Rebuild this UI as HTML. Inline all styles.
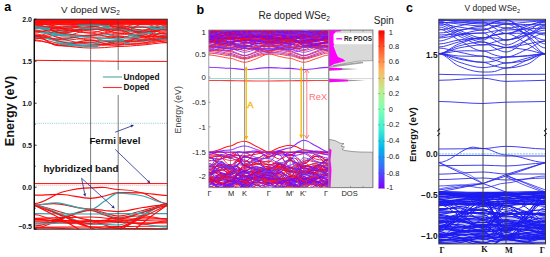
<!DOCTYPE html>
<html><head><meta charset="utf-8"><style>
html,body{margin:0;padding:0;background:#fff;width:550px;height:257px;overflow:hidden}
svg{display:block;font-family:"Liberation Sans", sans-serif}
</style></head><body>
<svg width="550" height="257" viewBox="0 0 550 257" xmlns="http://www.w3.org/2000/svg">
<defs><clipPath id="ca"><rect x="34.3" y="19.2" width="133.0" height="210.0"/></clipPath><clipPath id="cbp"><rect x="208.8" y="30.0" width="120.0" height="157.7"/></clipPath><clipPath id="cc"><rect x="438.8" y="19.3" width="106.69999999999999" height="224.6"/></clipPath></defs>
<g clip-path="url(#ca)">
<rect x="34.3" y="19.2" width="133.0" height="6" fill="#ff2020"/>
<path d="M34.3 19.9C43.7 19.9 53.1 20.4 62.4 20.6C71.8 20.7 81.2 20.6 90.6 20.6C95.2 20.6 99.8 20.7 104.4 21.1C109.0 21.5 113.6 23.0 118.2 23.0C126.4 23.0 134.6 18.8 142.8 18.3C150.9 17.8 159.1 20.0 167.3 20.0" fill="none" stroke="#ff0a0a" stroke-width="1.1" />
<path d="M34.3 20.3C43.7 20.3 53.1 19.0 62.4 19.1C71.8 19.3 81.2 21.1 90.6 21.1C95.2 21.1 99.8 17.5 104.4 17.6C109.0 17.8 113.6 22.2 118.2 22.2C126.4 22.2 134.6 23.4 142.8 22.7C150.9 21.9 159.1 17.6 167.3 17.6" fill="none" stroke="#ff0a0a" stroke-width="1.1" />
<path d="M34.3 21.5C43.7 21.5 53.1 22.3 62.4 21.6C71.8 20.9 81.2 17.3 90.6 17.3C95.2 17.3 99.8 20.3 104.4 21.3C109.0 22.3 113.6 23.4 118.2 23.4C126.4 23.4 134.6 18.1 142.8 18.1C150.9 18.1 159.1 23.3 167.3 23.3" fill="none" stroke="#ff0a0a" stroke-width="1.1" />
<path d="M34.3 17.1C43.7 17.1 53.1 18.1 62.4 18.7C71.8 19.2 81.2 20.4 90.6 20.4C95.2 20.4 99.8 17.7 104.4 17.2C109.0 16.7 113.6 17.4 118.2 17.4C126.4 17.4 134.6 20.1 142.8 20.2C150.9 20.4 159.1 18.2 167.3 18.2" fill="none" stroke="#ff0a0a" stroke-width="1.1" />
<path d="M34.3 19.9C43.7 19.9 53.1 20.1 62.4 20.5C71.8 20.9 81.2 22.5 90.6 22.5C95.2 22.5 99.8 22.0 104.4 21.6C109.0 21.3 113.6 20.4 118.2 20.4C126.4 20.4 134.6 20.1 142.8 20.2C150.9 20.3 159.1 21.2 167.3 21.2" fill="none" stroke="#ff0a0a" stroke-width="1.1" />
<path d="M34.3 18.8C43.7 18.8 53.1 21.2 62.4 22.0C71.8 22.7 81.2 23.5 90.6 23.5C95.2 23.5 99.8 19.2 104.4 19.2C109.0 19.2 113.6 23.5 118.2 23.5C126.4 23.5 134.6 18.8 142.8 18.6C150.9 18.4 159.1 22.5 167.3 22.5" fill="none" stroke="#ff0a0a" stroke-width="1.1" />
<path d="M34.3 18.9C43.7 18.9 53.1 23.2 62.4 22.9C71.8 22.7 81.2 17.5 90.6 17.5C95.2 17.5 99.8 19.0 104.4 19.7C109.0 20.5 113.6 22.0 118.2 22.0C126.4 22.0 134.6 24.1 142.8 23.7C150.9 23.3 159.1 19.6 167.3 19.6" fill="none" stroke="#ff0a0a" stroke-width="1.1" />
<path d="M34.3 22.5C43.7 22.5 53.1 21.2 62.4 20.3C71.8 19.4 81.2 17.0 90.6 17.0C95.2 17.0 99.8 23.6 104.4 23.9C109.0 24.1 113.6 18.4 118.2 18.4C126.4 18.4 134.6 19.0 142.8 19.8C150.9 20.5 159.1 22.9 167.3 22.9" fill="none" stroke="#ff0a0a" stroke-width="1.1" />
<path d="M34.3 17.5C43.7 17.5 53.1 17.0 62.4 17.6C71.8 18.2 81.2 21.1 90.6 21.1C95.2 21.1 99.8 19.2 104.4 19.3C109.0 19.5 113.6 22.1 118.2 22.1C126.4 22.1 134.6 24.3 142.8 23.7C150.9 23.2 159.1 18.8 167.3 18.8" fill="none" stroke="#ff0a0a" stroke-width="1.1" />
<path d="M34.3 21.9C43.7 21.9 53.1 18.1 62.4 17.4C71.8 16.7 81.2 17.8 90.6 17.8C95.2 17.8 99.8 22.4 104.4 22.6C109.0 22.7 113.6 18.6 118.2 18.6C126.4 18.6 134.6 18.4 142.8 18.2C150.9 18.1 159.1 17.7 167.3 17.7" fill="none" stroke="#ff0a0a" stroke-width="1.1" />
<path d="M34.3 20.6C43.7 20.6 53.1 18.0 62.4 17.9C71.8 17.8 81.2 19.9 90.6 19.9C95.2 19.9 99.8 21.8 104.4 21.5C109.0 21.2 113.6 18.2 118.2 18.2C126.4 18.2 134.6 17.2 142.8 17.8C150.9 18.4 159.1 21.8 167.3 21.8" fill="none" stroke="#ff0a0a" stroke-width="1.1" />
<path d="M34.3 19.7C43.7 19.7 53.1 22.8 62.4 22.6C71.8 22.4 81.2 18.4 90.6 18.4C95.2 18.4 99.8 19.1 104.4 19.1C109.0 19.2 113.6 18.8 118.2 18.8C126.4 18.8 134.6 22.4 142.8 23.2C150.9 24.0 159.1 23.3 167.3 23.3" fill="none" stroke="#ff0a0a" stroke-width="1.1" />
<path d="M34.3 18.4C43.7 18.4 53.1 17.5 62.4 17.7C71.8 17.9 81.2 19.6 90.6 19.6C95.2 19.6 99.8 23.4 104.4 23.9C109.0 24.4 113.6 22.6 118.2 22.6C126.4 22.6 134.6 18.7 142.8 18.5C150.9 18.3 159.1 21.2 167.3 21.2" fill="none" stroke="#ff0a0a" stroke-width="1.1" />
<path d="M34.3 18.7C43.7 18.7 53.1 17.0 62.4 17.5C71.8 18.1 81.2 22.0 90.6 22.0C95.2 22.0 99.8 18.1 104.4 17.6C109.0 17.2 113.6 19.1 118.2 19.1C126.4 19.1 134.6 21.1 142.8 21.1C150.9 21.0 159.1 18.9 167.3 18.9" fill="none" stroke="#ff0a0a" stroke-width="1.1" />
<path d="M34.3 26.3C43.7 26.3 53.1 27.7 62.4 27.5C71.8 27.3 81.2 25.2 90.6 25.2C95.2 25.2 99.8 25.3 104.4 25.5C109.0 25.7 113.6 26.5 118.2 26.5C126.4 26.5 134.6 27.2 142.8 27.2C150.9 27.2 159.1 26.6 167.3 26.6" fill="none" stroke="#30a8b0" stroke-width="1.7" />
<path d="M34.3 27.6C43.7 27.6 53.1 30.9 62.4 31.0C71.8 31.1 81.2 28.4 90.6 28.4C99.8 28.4 109.0 28.8 118.2 28.8C126.4 28.8 134.6 30.4 142.8 30.5C150.9 30.6 159.1 29.2 167.3 29.2" fill="none" stroke="#30a8b0" stroke-width="1.7" />
<path d="M34.3 37.5C43.7 37.5 53.1 39.3 62.4 39.0C71.8 38.7 81.2 35.5 90.6 35.5C95.2 35.5 99.8 33.8 104.4 34.0C109.0 34.2 113.6 36.5 118.2 36.5C126.4 36.5 134.6 39.6 142.8 40.0C150.9 40.4 159.1 39.0 167.3 39.0" fill="none" stroke="#30a8b0" stroke-width="1.7" />
<path d="M34.3 36.0C43.7 36.0 53.1 40.9 62.4 42.0C71.8 43.1 81.2 42.5 90.6 42.5C95.2 42.5 99.8 44.7 104.4 44.5C109.0 44.3 113.6 41.5 118.2 41.5C126.4 41.5 134.6 41.7 142.8 41.0C150.9 40.3 159.1 37.5 167.3 37.5" fill="none" stroke="#30a8b0" stroke-width="1.7" />
<path d="M34.3 31.0C43.7 31.0 53.1 33.3 62.4 33.0C71.8 32.7 81.2 29.0 90.6 29.0C95.2 29.0 99.8 27.8 104.4 28.0C109.0 28.2 113.6 30.0 118.2 30.0C126.4 30.0 134.6 32.3 142.8 33.0C150.9 33.7 159.1 34.0 167.3 34.0" fill="none" stroke="#30a8b0" stroke-width="1.7" />
<path d="M34.3 24.0C43.7 24.0 53.1 32.5 62.4 33.0C71.8 33.5 81.2 27.0 90.6 27.0C95.2 27.0 99.8 24.3 104.4 24.0C109.0 23.7 113.6 25.0 118.2 25.0C126.4 25.0 134.6 30.3 142.8 30.0C150.9 29.7 159.1 23.0 167.3 23.0" fill="none" stroke="#ff0a0a" stroke-width="0.9" />
<path d="M34.3 25.0C43.7 25.0 53.1 30.2 62.4 30.0C71.8 29.8 81.2 24.0 90.6 24.0C95.2 24.0 99.8 25.3 104.4 26.0C109.0 26.7 113.6 28.0 118.2 28.0C126.4 28.0 134.6 22.7 142.8 22.0C150.9 21.3 159.1 24.0 167.3 24.0" fill="none" stroke="#ff0a0a" stroke-width="0.9" />
<path d="M34.3 27.0C43.7 27.0 53.1 35.5 62.4 36.0C71.8 36.5 81.2 30.0 90.6 30.0C95.2 30.0 99.8 27.7 104.4 27.0C109.0 26.3 113.6 26.0 118.2 26.0C126.4 26.0 134.6 33.2 142.8 33.0C150.9 32.8 159.1 25.0 167.3 25.0" fill="none" stroke="#ff0a0a" stroke-width="0.9" />
<path d="M34.3 29.0C43.7 29.0 53.1 24.5 62.4 24.0C71.8 23.5 81.2 26.0 90.6 26.0C95.2 26.0 99.8 28.2 104.4 29.0C109.0 29.8 113.6 31.0 118.2 31.0C126.4 31.0 134.6 35.7 142.8 35.0C150.9 34.3 159.1 27.0 167.3 27.0" fill="none" stroke="#ff0a0a" stroke-width="0.9" />
<path d="M34.3 31.0C43.7 31.0 53.1 37.3 62.4 38.0C71.8 38.7 81.2 35.0 90.6 35.0C95.2 35.0 99.8 33.8 104.4 33.0C109.0 32.2 113.6 30.0 118.2 30.0C126.4 30.0 134.6 37.3 142.8 37.0C150.9 36.7 159.1 28.0 167.3 28.0" fill="none" stroke="#ff0a0a" stroke-width="0.9" />
<path d="M34.3 33.0C43.7 33.0 53.1 26.8 62.4 26.0C71.8 25.2 81.2 28.0 90.6 28.0C95.2 28.0 99.8 30.0 104.4 31.0C109.0 32.0 113.6 34.0 118.2 34.0C126.4 34.0 134.6 24.7 142.8 24.0C150.9 23.3 159.1 30.0 167.3 30.0" fill="none" stroke="#ff0a0a" stroke-width="0.9" />
<path d="M34.3 35.0C43.7 35.0 53.1 39.5 62.4 40.0C71.8 40.5 81.2 38.0 90.6 38.0C95.2 38.0 99.8 38.3 104.4 38.0C109.0 37.7 113.6 36.0 118.2 36.0C126.4 36.0 134.6 39.7 142.8 39.0C150.9 38.3 159.1 32.0 167.3 32.0" fill="none" stroke="#ff0a0a" stroke-width="0.9" />
<path d="M34.3 36.0C43.7 36.0 53.1 30.5 62.4 30.0C71.8 29.5 81.2 33.0 90.6 33.0C95.2 33.0 99.8 30.7 104.4 30.0C109.0 29.3 113.6 29.0 118.2 29.0C126.4 29.0 134.6 26.2 142.8 27.0C150.9 27.8 159.1 34.0 167.3 34.0" fill="none" stroke="#ff0a0a" stroke-width="0.9" />
<path d="M34.3 38.0C43.7 38.0 53.1 43.3 62.4 44.0C71.8 44.7 81.2 42.0 90.6 42.0C95.2 42.0 99.8 42.3 104.4 42.0C109.0 41.7 113.6 40.0 118.2 40.0C126.4 40.0 134.6 41.7 142.8 41.0C150.9 40.3 159.1 36.0 167.3 36.0" fill="none" stroke="#ff0a0a" stroke-width="0.9" />
<path d="M34.3 39.0C43.7 39.0 53.1 34.5 62.4 34.0C71.8 33.5 81.2 36.0 90.6 36.0C95.2 36.0 99.8 35.7 104.4 36.0C109.0 36.3 113.6 38.0 118.2 38.0C126.4 38.0 134.6 33.0 142.8 33.0C150.9 33.0 159.1 38.0 167.3 38.0" fill="none" stroke="#ff0a0a" stroke-width="0.9" />
<path d="M34.3 40.0C43.7 40.0 53.1 45.2 62.4 46.0C71.8 46.8 81.2 45.0 90.6 45.0C95.2 45.0 99.8 45.3 104.4 45.0C109.0 44.7 113.6 43.0 118.2 43.0C126.4 43.0 134.6 43.5 142.8 43.0C150.9 42.5 159.1 40.0 167.3 40.0" fill="none" stroke="#ff0a0a" stroke-width="0.9" />
<path d="M34.3 22.0C43.7 22.0 53.1 26.5 62.4 28.0C71.8 29.5 81.2 31.0 90.6 31.0C95.2 31.0 99.8 32.3 104.4 33.0C109.0 33.7 113.6 35.0 118.2 35.0C126.4 35.0 134.6 32.5 142.8 31.0C150.9 29.5 159.1 26.0 167.3 26.0" fill="none" stroke="#ff0a0a" stroke-width="0.9" />
<path d="M34.3 23.0C43.7 23.0 53.1 27.3 62.4 29.0C71.8 30.7 81.2 33.0 90.6 33.0C95.2 33.0 99.8 35.2 104.4 36.0C109.0 36.8 113.6 38.0 118.2 38.0C126.4 38.0 134.6 36.5 142.8 35.0C150.9 33.5 159.1 29.0 167.3 29.0" fill="none" stroke="#ff0a0a" stroke-width="0.9" />
<path d="M34.3 26.0C43.7 26.0 53.1 31.7 62.4 34.0C71.8 36.3 81.2 40.0 90.6 40.0C95.2 40.0 99.8 40.7 104.4 41.0C109.0 41.3 113.6 42.0 118.2 42.0C126.4 42.0 134.6 41.2 142.8 40.0C150.9 38.8 159.1 35.0 167.3 35.0" fill="none" stroke="#ff0a0a" stroke-width="0.9" />
<path d="M34.3 30.0C43.7 30.0 53.1 36.7 62.4 39.0C71.8 41.3 81.2 44.0 90.6 44.0C95.2 44.0 99.8 44.8 104.4 45.0C109.0 45.2 113.6 45.0 118.2 45.0C126.4 45.0 134.6 44.2 142.8 43.0C150.9 41.8 159.1 38.0 167.3 38.0" fill="none" stroke="#ff0a0a" stroke-width="0.9" />
<path d="M34.3 28.0C43.7 28.0 53.1 31.5 62.4 33.0C71.8 34.5 81.2 37.0 90.6 37.0C95.2 37.0 99.8 39.8 104.4 41.0C109.0 42.2 113.6 44.0 118.2 44.0C126.4 44.0 134.6 44.5 142.8 44.0C150.9 43.5 159.1 41.0 167.3 41.0" fill="none" stroke="#ff0a0a" stroke-width="0.9" />
<path d="M34.3 34.0C43.7 34.0 53.1 40.0 62.4 42.0C71.8 44.0 81.2 46.0 90.6 46.0C95.2 46.0 99.8 44.8 104.4 44.0C109.0 43.2 113.6 41.0 118.2 41.0C126.4 41.0 134.6 38.3 142.8 37.0C150.9 35.7 159.1 33.0 167.3 33.0" fill="none" stroke="#ff0a0a" stroke-width="0.9" />
<path d="M34.3 37.0C43.7 37.0 53.1 33.3 62.4 32.0C71.8 30.7 81.2 29.0 90.6 29.0C95.2 29.0 99.8 29.3 104.4 30.0C109.0 30.7 113.6 33.0 118.2 33.0C126.4 33.0 134.6 35.3 142.8 36.0C150.9 36.7 159.1 37.0 167.3 37.0" fill="none" stroke="#ff0a0a" stroke-width="0.9" />
<path d="M34.3 21.0C43.7 21.0 53.1 21.3 62.4 22.0C71.8 22.7 81.2 25.0 90.6 25.0C95.2 25.0 99.8 27.7 104.4 29.0C109.0 30.3 113.6 33.0 118.2 33.0C126.4 33.0 134.6 35.5 142.8 36.0C150.9 36.5 159.1 36.0 167.3 36.0" fill="none" stroke="#ff0a0a" stroke-width="0.9" />
<path d="M34.3 32.0C43.7 32.0 53.1 28.3 62.4 27.0C71.8 25.7 81.2 24.0 90.6 24.0C95.2 24.0 99.8 23.2 104.4 23.0C109.0 22.8 113.6 23.0 118.2 23.0C126.4 23.0 134.6 22.2 142.8 22.0C150.9 21.8 159.1 22.0 167.3 22.0" fill="none" stroke="#ff0a0a" stroke-width="0.9" />
<path d="M34.3 26.9C43.6 26.9 52.9 28.3 62.2 28.3C71.7 28.3 81.1 26.9 90.6 26.9C96.2 26.9 101.8 24.5 107.4 24.6C111.0 24.7 114.6 27.4 118.2 27.4C124.7 27.4 131.2 31.2 137.7 31.6C147.5 32.4 157.4 30.9 167.3 30.9" fill="none" stroke="#ff0a0a" stroke-width="1.15" />
<path d="M34.3 35.3C42.0 35.3 49.7 44.8 57.3 45.5C68.4 46.4 79.5 40.1 90.6 40.1C96.3 40.1 101.9 43.5 107.6 44.5C111.1 45.2 114.7 45.0 118.2 45.0C126.0 45.0 133.8 37.4 141.6 37.0C150.2 36.6 158.7 42.6 167.3 42.6" fill="none" stroke="#ff0a0a" stroke-width="1.15" />
<path d="M34.3 24.6C45.5 24.6 56.7 23.1 67.9 22.0C75.5 21.2 83.0 19.0 90.6 19.0C94.6 19.0 98.7 18.4 102.7 19.0C107.9 19.8 113.0 23.3 118.2 23.3C127.5 23.3 136.7 19.8 146.0 19.0C153.1 18.4 160.2 19.0 167.3 19.0" fill="none" stroke="#ff0a0a" stroke-width="1.15" />
<path d="M34.3 26.6 Q40 27.2 50 28.4" fill="none" stroke="#30a8b0" stroke-width="1.3"/>
<path d="M34.3 27.8 Q42 29.5 50 29.2" fill="none" stroke="#30a8b0" stroke-width="1.3"/>
<path d="M40 32.5 Q60 34 78 36.9" fill="none" stroke="#30a8b0" stroke-width="1.3"/>
<path d="M50 35 Q65 36 78 36.2" fill="none" stroke="#30a8b0" stroke-width="1.3"/>
<path d="M78 25.4 Q94 24.6 110 26.4" fill="none" stroke="#30a8b0" stroke-width="1.3"/>
<path d="M78 27.9 Q94 28.8 110 27.4" fill="none" stroke="#30a8b0" stroke-width="1.3"/>
<path d="M78 36.3 Q84 36.8 90 37.2" fill="none" stroke="#30a8b0" stroke-width="1.3"/>
<path d="M95 37.6 Q110 38.4 124 39.5" fill="none" stroke="#30a8b0" stroke-width="1.3"/>
<path d="M97 39.8 Q112 41.2 124 40.6" fill="none" stroke="#30a8b0" stroke-width="1.3"/>
<path d="M55 42.6 Q78 45.5 100 45.8" fill="none" stroke="#30a8b0" stroke-width="1.3"/>
<path d="M60 44.4 Q80 46.6 98 46.6" fill="none" stroke="#30a8b0" stroke-width="1.3"/>
<path d="M124 38 Q132 37.6 140 37.2" fill="none" stroke="#30a8b0" stroke-width="1.3"/>
<path d="M124 43.3 Q127 43 130 42.8" fill="none" stroke="#30a8b0" stroke-width="1.3"/>
<path d="M150 26.6 Q158 26 165 26.6" fill="none" stroke="#30a8b0" stroke-width="1.3"/>
<path d="M150 28.5 Q158 29.2 166 28.4" fill="none" stroke="#30a8b0" stroke-width="1.3"/>
<path d="M128 35.5 Q140 34.2 152 33" fill="none" stroke="#30a8b0" stroke-width="1.3"/>
<path d="M34.3 40.7C43.7 40.7 53.1 44.3 62.4 45.5C71.8 46.7 81.2 48.0 90.6 48.0C95.2 48.0 99.8 47.9 104.4 47.6C109.0 47.4 113.6 46.5 118.2 46.5C126.4 46.5 134.6 45.6 142.8 45.0C150.9 44.4 159.1 42.6 167.3 42.6" fill="none" stroke="#ff0a0a" stroke-width="1.0" />
<path d="M34.3 60.3C53.1 60.3 71.8 60.9 90.6 60.9C99.8 60.9 109.0 61.3 118.2 61.3C134.6 61.3 150.9 61.4 167.3 61.4" fill="none" stroke="#ff0a0a" stroke-width="1.0" />
<line x1="34.3" y1="123.3" x2="167.3" y2="123.3" stroke="#5ab4c4" stroke-width="0.7" stroke-dasharray="1 1.2"/>
<line x1="34.3" y1="183.6" x2="167.3" y2="183.6" stroke="#ff0a0a" stroke-width="1.0" />
<line x1="34.3" y1="185.6" x2="167.3" y2="185.6" stroke="#ff8080" stroke-width="0.6" stroke-dasharray="1 1"/>
<path d="M34.3 203.6C43.7 203.6 53.1 194.6 62.4 192.0C71.8 189.4 81.2 187.8 90.6 187.8C95.2 187.8 99.8 187.2 104.4 187.5C109.0 187.8 113.6 189.5 118.2 189.5C126.4 189.5 134.6 190.7 142.8 193.0C150.9 195.3 159.1 203.6 167.3 203.6" fill="none" stroke="#ff0a0a" stroke-width="1.2" />
<path d="M34.3 195.2C43.7 195.2 53.1 194.0 62.4 194.5C71.8 195.0 81.2 198.3 90.6 198.3C95.2 198.3 99.8 197.0 104.4 196.0C109.0 195.1 113.6 192.6 118.2 192.6C126.4 192.6 134.6 192.5 142.8 193.0C150.9 193.5 159.1 195.5 167.3 195.5" fill="none" stroke="#ff0a0a" stroke-width="1.2" />
<path d="M34.3 204.8C41.8 204.8 49.3 203.2 56.8 203.8C68.1 204.7 79.3 209.2 90.6 209.2C95.2 209.2 99.8 210.1 104.4 210.5C109.0 210.9 113.6 211.6 118.2 211.6C126.4 211.6 134.6 208.6 142.8 207.5C150.9 206.4 159.1 204.9 167.3 204.9" fill="none" stroke="#ff0a0a" stroke-width="1.2" />
<path d="M34.3 205.5C41.8 205.5 49.3 202.3 56.8 202.8C68.1 203.6 79.3 209.5 90.6 209.5C95.2 209.5 99.8 204.0 104.4 201.3C109.0 198.6 113.6 193.1 118.2 193.1C126.4 193.1 134.6 194.2 142.8 196.0C150.9 197.8 159.1 203.6 167.3 203.6" fill="none" stroke="#30a8b0" stroke-width="1.2" />
<path d="M34.3 205.5C43.7 205.5 53.1 212.4 62.4 216.0C71.8 219.6 81.2 226.8 90.6 226.8C95.2 226.8 99.8 228.0 104.4 228.0C109.0 228.0 113.6 226.8 118.2 226.8C126.4 226.8 134.6 219.1 142.8 215.2C150.9 211.3 159.1 203.6 167.3 203.6" fill="none" stroke="#ff0a0a" stroke-width="1.2" />
<path d="M34.3 205.5C43.7 205.5 53.1 210.1 62.4 212.5C71.8 214.9 81.2 220.0 90.6 220.0C95.2 220.0 99.8 223.7 104.4 225.0C109.0 226.3 113.6 228.0 118.2 228.0C126.4 228.0 134.6 219.9 142.8 215.8C150.9 211.7 159.1 203.6 167.3 203.6" fill="none" stroke="#ff0a0a" stroke-width="1.2" />
<path d="M34.3 205.5C43.7 205.5 53.1 211.5 62.4 214.6C71.8 217.7 81.2 224.0 90.6 224.0C95.2 224.0 99.8 224.3 104.4 224.5C109.0 224.7 113.6 225.0 118.2 225.0C126.4 225.0 134.6 218.3 142.8 214.9C150.9 211.5 159.1 204.8 167.3 204.8" fill="none" stroke="#30a8b0" stroke-width="1.2" />
<path d="M34.3 228.0C43.7 228.0 53.1 221.8 62.4 218.7C71.8 215.6 81.2 209.5 90.6 209.5C95.2 209.5 99.8 211.7 104.4 212.8C109.0 213.9 113.6 216.0 118.2 216.0C126.4 216.0 134.6 212.3 142.8 210.5C150.9 208.7 159.1 205.0 167.3 205.0" fill="none" stroke="#ff0a0a" stroke-width="1.2" />
<path d="M34.3 224.0C43.7 224.0 53.1 219.2 62.4 216.8C71.8 214.4 81.2 209.8 90.6 209.8C95.2 209.8 99.8 212.6 104.4 214.0C109.0 215.4 113.6 218.0 118.2 218.0C126.4 218.0 134.6 213.9 142.8 211.8C150.9 209.7 159.1 205.5 167.3 205.5" fill="none" stroke="#30a8b0" stroke-width="1.2" />
<path d="M34.3 226.0C43.7 226.0 53.1 220.8 62.4 218.2C71.8 215.6 81.2 210.5 90.6 210.5C95.2 210.5 99.8 213.6 104.4 215.0C109.0 216.4 113.6 219.0 118.2 219.0C126.4 219.0 134.6 214.7 142.8 212.5C150.9 210.3 159.1 206.0 167.3 206.0" fill="none" stroke="#ff0a0a" stroke-width="1.2" />
<path d="M34.3 213.7C53.1 213.7 71.8 214.0 90.6 214.0C99.8 214.0 109.0 213.7 118.2 213.7C134.6 213.7 150.9 213.7 167.3 213.7" fill="none" stroke="#30a8b0" stroke-width="1.2" />
<path d="M34.3 218.3C53.1 218.3 71.8 217.0 90.6 217.0C99.8 217.0 109.0 219.0 118.2 219.0C134.6 219.0 150.9 219.0 167.3 219.0" fill="none" stroke="#ff0a0a" stroke-width="1.2" />
<path d="M34.3 220.0C53.1 220.0 71.8 221.0 90.6 221.0C99.8 221.0 109.0 220.0 118.2 220.0C134.6 220.0 150.9 221.0 167.3 221.0" fill="none" stroke="#ff0a0a" stroke-width="1.2" />
<path d="M34.3 222.0C53.1 222.0 71.8 224.0 90.6 224.0C99.8 224.0 109.0 222.5 118.2 222.5C134.6 222.5 150.9 223.0 167.3 223.0" fill="none" stroke="#ff0a0a" stroke-width="1.2" />
<path d="M34.3 227.4C53.1 227.4 71.8 227.0 90.6 227.0C99.8 227.0 109.0 226.5 118.2 226.5C134.6 226.5 150.9 226.0 167.3 226.0" fill="none" stroke="#ff0a0a" stroke-width="1.2" />
<path d="M34.3 229.0C53.1 229.0 71.8 229.0 90.6 229.0C99.8 229.0 109.0 228.5 118.2 228.5C134.6 228.5 150.9 228.8 167.3 228.8" fill="none" stroke="#ff0a0a" stroke-width="1.2" />
<path d="M34.3 223.8C43.7 223.8 53.1 223.3 62.4 223.0C71.8 222.7 81.2 222.0 90.6 222.0C95.2 222.0 99.8 222.0 104.4 222.0C109.0 222.0 113.6 222.0 118.2 222.0C126.4 222.0 134.6 223.2 142.8 224.0C150.9 224.8 159.1 227.0 167.3 227.0" fill="none" stroke="#30a8b0" stroke-width="1.2" />
<path d="M34.3 221.2C46.8 221.2 59.3 220.1 71.8 220.6C78.1 220.9 84.3 223.6 90.6 223.6C93.4 223.6 96.2 221.4 99.1 221.2C105.4 220.8 111.8 221.7 118.2 221.7C126.0 221.7 133.9 218.1 141.7 217.7C150.2 217.2 158.8 219.0 167.3 219.0" fill="none" stroke="#ff0a0a" stroke-width="1.0" />
<path d="M34.3 219.1C46.6 219.1 58.9 222.4 71.3 222.8C77.7 222.9 84.2 220.7 90.6 220.7C95.8 220.7 101.0 220.7 106.1 220.1C110.2 219.6 114.2 217.2 118.2 217.2C126.9 217.2 135.7 215.6 144.4 215.9C152.0 216.2 159.7 219.0 167.3 219.0" fill="none" stroke="#ff0a0a" stroke-width="1.0" />
<path d="M34.3 214.6C40.1 214.6 45.9 218.2 51.7 219.0C64.6 220.6 77.6 221.7 90.6 221.7C95.1 221.7 99.7 222.5 104.2 222.2C108.9 222.0 113.5 220.0 118.2 220.0C125.2 220.0 132.2 223.8 139.2 224.1C148.6 224.5 157.9 222.1 167.3 222.1" fill="none" stroke="#ff0a0a" stroke-width="1.0" />
<path d="M34.3 219.3C45.2 219.3 56.1 221.5 67.0 221.8C74.9 222.0 82.7 220.8 90.6 220.8C96.7 220.8 102.9 220.3 109.0 220.6C112.1 220.7 115.1 222.1 118.2 222.1C127.6 222.1 137.0 224.1 146.4 223.9C153.4 223.7 160.3 220.8 167.3 220.8" fill="none" stroke="#ff0a0a" stroke-width="1.0" />
<path d="M34.3 227.8C44.6 227.8 54.9 228.0 65.3 228.6C73.7 229.0 82.2 230.8 90.6 230.8C95.5 230.8 100.4 231.6 105.3 231.7C109.6 231.8 113.9 231.4 118.2 231.4C123.6 231.4 129.1 231.3 134.5 231.0C145.4 230.5 156.4 229.0 167.3 229.0" fill="none" stroke="#ff0a0a" stroke-width="1.0" />
<path d="M34.3 205.3 Q57.1 215.8 80 230" fill="none" stroke="#ff0a0a" stroke-width="1.1"/>
<path d="M34.3 205.3 Q65.2 215.8 96 230" fill="none" stroke="#ff0a0a" stroke-width="1.1"/>
<path d="M167.3 205 Q143.7 215.8 120 230" fill="none" stroke="#ff0a0a" stroke-width="1.1"/>
<path d="M167.3 205 Q150.7 215.8 134 230" fill="none" stroke="#ff0a0a" stroke-width="1.1"/>
</g>
<rect x="34.3" y="19.2" width="133.0" height="210.0" fill="none" stroke="#333" stroke-width="1"/>
<line x1="34.3" y1="19.2" x2="34.3" y2="229.2" stroke="#000" stroke-width="1.2" />
<line x1="90.6" y1="19.2" x2="90.6" y2="229.2" stroke="#444" stroke-width="0.7" />
<line x1="118.2" y1="19.2" x2="118.2" y2="229.2" stroke="#444" stroke-width="0.7" />
<line x1="34.3" y1="19.19999999999999" x2="36.599999999999994" y2="19.19999999999999" stroke="#000" stroke-width="0.8" />
<line x1="34.3" y1="40.19999999999999" x2="35.699999999999996" y2="40.19999999999999" stroke="#000" stroke-width="0.8" />
<line x1="34.3" y1="61.19999999999999" x2="36.599999999999994" y2="61.19999999999999" stroke="#000" stroke-width="0.8" />
<line x1="34.3" y1="82.19999999999999" x2="35.699999999999996" y2="82.19999999999999" stroke="#000" stroke-width="0.8" />
<line x1="34.3" y1="103.19999999999999" x2="36.599999999999994" y2="103.19999999999999" stroke="#000" stroke-width="0.8" />
<line x1="34.3" y1="124.19999999999999" x2="35.699999999999996" y2="124.19999999999999" stroke="#000" stroke-width="0.8" />
<line x1="34.3" y1="145.2" x2="36.599999999999994" y2="145.2" stroke="#000" stroke-width="0.8" />
<line x1="34.3" y1="166.2" x2="35.699999999999996" y2="166.2" stroke="#000" stroke-width="0.8" />
<line x1="34.3" y1="187.2" x2="36.599999999999994" y2="187.2" stroke="#000" stroke-width="0.8" />
<line x1="34.3" y1="208.2" x2="35.699999999999996" y2="208.2" stroke="#000" stroke-width="0.8" />
<line x1="34.3" y1="229.2" x2="36.599999999999994" y2="229.2" stroke="#000" stroke-width="0.8" />
<rect x="101" y="70" width="59" height="25" fill="#fff"/>
<line x1="102.9" y1="77" x2="121.9" y2="77" stroke="#4aa8a8" stroke-width="1.1" />
<line x1="102.9" y1="87.5" x2="121.9" y2="87.5" stroke="#ff3333" stroke-width="1.1" />
<text x="123.6" y="79.8" font-size="8.3" font-weight="bold" fill="#111" text-anchor="start" >Undoped</text>
<text x="123.6" y="89.8" font-size="8.3" font-weight="bold" fill="#111" text-anchor="start" >Doped</text>
<line x1="115.2" y1="132.2" x2="131.00637233254272" y2="126.23057215100779" stroke="#1f2a8a" stroke-width="0.8" />
<path d="M134.0 125.1L131.5 127.6L130.5 124.8Z" fill="#1f2a8a"/>
<line x1="115.2" y1="149.4" x2="148.09836604293034" y2="181.17683083692134" stroke="#1f2a8a" stroke-width="0.8" />
<path d="M150.4 183.4L147.1 182.3L149.1 180.1Z" fill="#1f2a8a"/>
<line x1="81.6" y1="178.3" x2="84.66914986331065" y2="193.56279932024756" stroke="#1f2a8a" stroke-width="0.8" />
<path d="M85.3 196.7L83.2 193.9L86.1 193.3Z" fill="#1f2a8a"/>
<line x1="81.6" y1="178.3" x2="112.43283712116757" y2="206.34673738130303" stroke="#1f2a8a" stroke-width="0.8" />
<path d="M114.8 208.5L111.4 207.5L113.4 205.2Z" fill="#1f2a8a"/>
<text x="89.4" y="144.3" font-size="9.75" font-weight="bold" fill="#111" text-anchor="start" >Fermi level</text>
<text x="43.4" y="172.4" font-size="9.8" font-weight="bold" fill="#111" text-anchor="start" >hybridized band</text>
<text x="4.3" y="10.6" font-size="12.5" font-weight="bold" fill="#000" text-anchor="start" >a</text>
<text x="61.1" y="12.7" font-size="9.85" font-weight="normal" fill="#222" text-anchor="start" >V doped WS<tspan font-size="6.5" dy="2">2</tspan></text>
<text x="32" y="21.69999999999999" font-size="7" font-weight="bold" fill="#111" text-anchor="end" >2.0</text>
<text x="32" y="63.69999999999999" font-size="7" font-weight="bold" fill="#111" text-anchor="end" >1.5</text>
<text x="32" y="105.69999999999999" font-size="7" font-weight="bold" fill="#111" text-anchor="end" >1.0</text>
<text x="32" y="147.7" font-size="7" font-weight="bold" fill="#111" text-anchor="end" >0.5</text>
<text x="32" y="189.7" font-size="7" font-weight="bold" fill="#111" text-anchor="end" >0.0</text>
<text x="32" y="229.2" font-size="7" font-weight="bold" fill="#111" text-anchor="end" >−0.5</text>
<text x="0" y="0" font-size="12.7" font-weight="bold" fill="#111" text-anchor="middle" transform="translate(13.6,111) rotate(-90)">Energy (eV)</text>
<line x1="230.5" y1="30.0" x2="230.5" y2="187.7" stroke="#999" stroke-width="1.0" />
<line x1="244.5" y1="30.0" x2="244.5" y2="187.7" stroke="#999" stroke-width="1.0" />
<line x1="268.8" y1="30.0" x2="268.8" y2="187.7" stroke="#999" stroke-width="1.0" />
<line x1="290.2" y1="30.0" x2="290.2" y2="187.7" stroke="#999" stroke-width="1.0" />
<line x1="303.6" y1="30.0" x2="303.6" y2="187.7" stroke="#999" stroke-width="1.0" />
<g clip-path="url(#cbp)">
<rect x="208.8" y="30.0" width="120.0" height="14" fill="#c050d8" opacity="0.3"/>
<path d="M208.8 41.2C212.4 41.2 216.0 42.2 219.7 42.3C223.3 42.4 226.9 41.6 230.5 41.6C232.8 41.6 235.2 44.4 237.5 44.6C239.8 44.8 242.2 42.8 244.5 42.8C248.5 42.8 252.6 40.5 256.6 40.6C260.7 40.6 264.8 43.0 268.8 43.0C272.4 43.0 275.9 42.7 279.5 42.6C283.1 42.6 286.6 42.6 290.2 42.6C292.4 42.6 294.7 38.7 296.9 37.6C299.1 36.4 301.4 35.5 303.6 35.5C307.8 35.5 312.0 37.7 316.2 38.6C320.4 39.6 324.6 41.2 328.8 41.2" fill="none" stroke="#7f00fe" stroke-width="0.8" />
<path d="M208.8 41.2C212.4 41.2 216.0 42.2 219.7 42.3C223.3 42.4 226.9 41.6 230.5 41.6C232.8 41.6 235.2 44.4 237.5 44.6C239.8 44.8 242.2 42.8 244.5 42.8C248.5 42.8 252.6 40.5 256.6 40.6C260.7 40.6 264.8 43.0 268.8 43.0C272.4 43.0 275.9 42.7 279.5 42.6C283.1 42.6 286.6 42.6 290.2 42.6C292.4 42.6 294.7 38.7 296.9 37.6C299.1 36.4 301.4 35.5 303.6 35.5C307.8 35.5 312.0 37.7 316.2 38.6C320.4 39.6 324.6 41.2 328.8 41.2" fill="none" stroke="#ff1010" stroke-width="0.8" stroke-dasharray="2.1 4.7" stroke-dashoffset="4.6"/>
<path d="M208.8 33.1C212.4 33.1 216.0 34.3 219.7 33.4C223.3 32.5 226.9 27.9 230.5 27.9C232.8 27.9 235.2 31.4 237.5 32.0C239.8 32.6 242.2 31.7 244.5 31.7C248.5 31.7 252.6 30.5 256.6 30.6C260.7 30.6 264.8 32.0 268.8 32.0C272.4 32.0 275.9 33.0 279.5 32.1C283.1 31.3 286.6 26.8 290.2 26.8C292.4 26.8 294.7 29.3 296.9 30.5C299.1 31.6 301.4 33.7 303.6 33.7C307.8 33.7 312.0 34.6 316.2 34.5C320.4 34.4 324.6 33.1 328.8 33.1" fill="none" stroke="#ff0201" stroke-width="0.8" />
<path d="M208.8 50.3C212.4 50.3 216.0 45.8 219.7 45.0C223.3 44.2 226.9 45.6 230.5 45.6C232.8 45.6 235.2 46.8 237.5 46.9C239.8 47.0 242.2 46.1 244.5 46.1C248.5 46.1 252.6 46.7 256.6 47.4C260.7 48.2 264.8 50.7 268.8 50.7C272.4 50.7 275.9 47.5 279.5 46.4C283.1 45.3 286.6 44.3 290.2 44.3C292.4 44.3 294.7 46.0 296.9 45.9C299.1 45.8 301.4 43.7 303.6 43.7C307.8 43.7 312.0 45.8 316.2 46.9C320.4 48.0 324.6 50.3 328.8 50.3" fill="none" stroke="#7909fe" stroke-width="0.8" />
<path d="M208.8 33.3C212.4 33.3 216.0 27.8 219.7 26.5C223.3 25.2 226.9 25.6 230.5 25.6C232.8 25.6 235.2 24.9 237.5 25.8C239.8 26.8 242.2 31.5 244.5 31.5C248.5 31.5 252.6 30.2 256.6 30.6C260.7 31.0 264.8 33.6 268.8 33.6C272.4 33.6 275.9 33.6 279.5 32.3C283.1 31.0 286.6 25.6 290.2 25.6C292.4 25.6 294.7 25.8 296.9 26.9C299.1 27.9 301.4 31.8 303.6 31.8C307.8 31.8 312.0 33.8 316.2 34.0C320.4 34.3 324.6 33.3 328.8 33.3" fill="none" stroke="#4d4cfc" stroke-width="0.8" />
<path d="M208.8 33.3C212.4 33.3 216.0 27.8 219.7 26.5C223.3 25.2 226.9 25.6 230.5 25.6C232.8 25.6 235.2 24.9 237.5 25.8C239.8 26.8 242.2 31.5 244.5 31.5C248.5 31.5 252.6 30.2 256.6 30.6C260.7 31.0 264.8 33.6 268.8 33.6C272.4 33.6 275.9 33.6 279.5 32.3C283.1 31.0 286.6 25.6 290.2 25.6C292.4 25.6 294.7 25.8 296.9 26.9C299.1 27.9 301.4 31.8 303.6 31.8C307.8 31.8 312.0 33.8 316.2 34.0C320.4 34.3 324.6 33.3 328.8 33.3" fill="none" stroke="#8a30ff" stroke-width="0.8" stroke-dasharray="2.2 3.6" stroke-dashoffset="4.7"/>
<path d="M208.8 32.0C212.4 32.0 216.0 34.7 219.7 34.7C223.3 34.8 226.9 32.4 230.5 32.4C232.8 32.4 235.2 31.6 237.5 31.7C239.8 31.8 242.2 32.9 244.5 32.9C248.5 32.9 252.6 35.3 256.6 35.3C260.7 35.2 264.8 32.5 268.8 32.5C272.4 32.5 275.9 33.1 279.5 33.3C283.1 33.5 286.6 33.6 290.2 33.6C292.4 33.6 294.7 30.2 296.9 29.1C299.1 27.9 301.4 26.8 303.6 26.8C307.8 26.8 312.0 27.4 316.2 28.3C320.4 29.2 324.6 32.0 328.8 32.0" fill="none" stroke="#ff2412" stroke-width="0.8" />
<path d="M208.8 32.0C212.4 32.0 216.0 34.7 219.7 34.7C223.3 34.8 226.9 32.4 230.5 32.4C232.8 32.4 235.2 31.6 237.5 31.7C239.8 31.8 242.2 32.9 244.5 32.9C248.5 32.9 252.6 35.3 256.6 35.3C260.7 35.2 264.8 32.5 268.8 32.5C272.4 32.5 275.9 33.1 279.5 33.3C283.1 33.5 286.6 33.6 290.2 33.6C292.4 33.6 294.7 30.2 296.9 29.1C299.1 27.9 301.4 26.8 303.6 26.8C307.8 26.8 312.0 27.4 316.2 28.3C320.4 29.2 324.6 32.0 328.8 32.0" fill="none" stroke="#8a30ff" stroke-width="0.8" stroke-dasharray="2.9 5.0" stroke-dashoffset="1.0"/>
<path d="M208.8 33.3C212.4 33.3 216.0 29.4 219.7 28.8C223.3 28.2 226.9 29.6 230.5 29.6C232.8 29.6 235.2 31.8 237.5 31.6C239.8 31.5 242.2 28.6 244.5 28.6C248.5 28.6 252.6 27.3 256.6 28.0C260.7 28.7 264.8 33.0 268.8 33.0C272.4 33.0 275.9 32.0 279.5 31.5C283.1 31.0 286.6 30.1 290.2 30.1C292.4 30.1 294.7 32.8 296.9 33.1C299.1 33.4 301.4 32.0 303.6 32.0C307.8 32.0 312.0 30.2 316.2 30.4C320.4 30.6 324.6 33.3 328.8 33.3" fill="none" stroke="#7313fe" stroke-width="0.8" />
<path d="M208.8 39.8C212.4 39.8 216.0 43.5 219.7 44.0C223.3 44.4 226.9 42.4 230.5 42.4C232.8 42.4 235.2 41.4 237.5 41.0C239.8 40.6 242.2 40.1 244.5 40.1C248.5 40.1 252.6 40.4 256.6 40.6C260.7 40.8 264.8 41.2 268.8 41.2C272.4 41.2 275.9 42.6 279.5 42.6C283.1 42.6 286.6 41.3 290.2 41.3C292.4 41.3 294.7 41.6 296.9 41.8C299.1 42.0 301.4 42.6 303.6 42.6C307.8 42.6 312.0 40.4 316.2 39.9C320.4 39.5 324.6 39.8 328.8 39.8" fill="none" stroke="#7d02fe" stroke-width="0.8" />
<path d="M208.8 39.8C212.4 39.8 216.0 43.5 219.7 44.0C223.3 44.4 226.9 42.4 230.5 42.4C232.8 42.4 235.2 41.4 237.5 41.0C239.8 40.6 242.2 40.1 244.5 40.1C248.5 40.1 252.6 40.4 256.6 40.6C260.7 40.8 264.8 41.2 268.8 41.2C272.4 41.2 275.9 42.6 279.5 42.6C283.1 42.6 286.6 41.3 290.2 41.3C292.4 41.3 294.7 41.6 296.9 41.8C299.1 42.0 301.4 42.6 303.6 42.6C307.8 42.6 312.0 40.4 316.2 39.9C320.4 39.5 324.6 39.8 328.8 39.8" fill="none" stroke="#ff1010" stroke-width="0.8" stroke-dasharray="3.5 4.9" stroke-dashoffset="3.8"/>
<path d="M208.8 35.4C212.4 35.4 216.0 35.9 219.7 35.6C223.3 35.2 226.9 33.4 230.5 33.4C232.8 33.4 235.2 34.9 237.5 35.1C239.8 35.4 242.2 34.9 244.5 34.9C248.5 34.9 252.6 37.0 256.6 37.3C260.7 37.5 264.8 36.5 268.8 36.5C272.4 36.5 275.9 36.7 279.5 37.3C283.1 37.8 286.6 39.6 290.2 39.6C292.4 39.6 294.7 39.5 296.9 38.8C299.1 38.2 301.4 35.6 303.6 35.6C307.8 35.6 312.0 34.2 316.2 34.2C320.4 34.2 324.6 35.4 328.8 35.4" fill="none" stroke="#750ffe" stroke-width="0.8" />
<path d="M208.8 36.4C212.4 36.4 216.0 37.5 219.7 37.1C223.3 36.8 226.9 34.1 230.5 34.1C232.8 34.1 235.2 34.8 237.5 34.7C239.8 34.6 242.2 33.5 244.5 33.5C248.5 33.5 252.6 36.2 256.6 36.7C260.7 37.1 264.8 36.3 268.8 36.3C272.4 36.3 275.9 34.4 279.5 33.8C283.1 33.3 286.6 33.2 290.2 33.2C292.4 33.2 294.7 33.3 296.9 32.9C299.1 32.5 301.4 30.9 303.6 30.9C307.8 30.9 312.0 34.2 316.2 35.1C320.4 36.0 324.6 36.4 328.8 36.4" fill="none" stroke="#7b07fe" stroke-width="0.8" />
<path d="M208.8 46.4C212.4 46.4 216.0 47.0 219.7 47.4C223.3 47.8 226.9 48.7 230.5 48.7C232.8 48.7 235.2 49.8 237.5 49.7C239.8 49.7 242.2 48.5 244.5 48.5C248.5 48.5 252.6 49.7 256.6 49.6C260.7 49.6 264.8 48.1 268.8 48.1C272.4 48.1 275.9 48.5 279.5 48.0C283.1 47.5 286.6 45.1 290.2 45.1C292.4 45.1 294.7 42.1 296.9 41.7C299.1 41.2 301.4 42.2 303.6 42.2C307.8 42.2 312.0 45.3 316.2 46.0C320.4 46.6 324.6 46.4 328.8 46.4" fill="none" stroke="#770dfe" stroke-width="0.8" />
<path d="M208.8 46.4C212.4 46.4 216.0 47.0 219.7 47.4C223.3 47.8 226.9 48.7 230.5 48.7C232.8 48.7 235.2 49.8 237.5 49.7C239.8 49.7 242.2 48.5 244.5 48.5C248.5 48.5 252.6 49.7 256.6 49.6C260.7 49.6 264.8 48.1 268.8 48.1C272.4 48.1 275.9 48.5 279.5 48.0C283.1 47.5 286.6 45.1 290.2 45.1C292.4 45.1 294.7 42.1 296.9 41.7C299.1 41.2 301.4 42.2 303.6 42.2C307.8 42.2 312.0 45.3 316.2 46.0C320.4 46.6 324.6 46.4 328.8 46.4" fill="none" stroke="#ff1010" stroke-width="0.8" stroke-dasharray="2.7 4.3" stroke-dashoffset="3.8"/>
<path d="M208.8 37.6C212.4 37.6 216.0 37.8 219.7 38.0C223.3 38.2 226.9 38.7 230.5 38.7C232.8 38.7 235.2 37.8 237.5 38.2C239.8 38.5 242.2 40.9 244.5 40.9C248.5 40.9 252.6 36.5 256.6 35.7C260.7 34.8 264.8 35.8 268.8 35.8C272.4 35.8 275.9 34.7 279.5 35.3C283.1 35.8 286.6 39.2 290.2 39.2C292.4 39.2 294.7 39.3 296.9 39.9C299.1 40.6 301.4 42.9 303.6 42.9C307.8 42.9 312.0 39.2 316.2 38.3C320.4 37.5 324.6 37.6 328.8 37.6" fill="none" stroke="#ff2613" stroke-width="0.8" />
<path d="M208.8 37.6C212.4 37.6 216.0 37.8 219.7 38.0C223.3 38.2 226.9 38.7 230.5 38.7C232.8 38.7 235.2 37.8 237.5 38.2C239.8 38.5 242.2 40.9 244.5 40.9C248.5 40.9 252.6 36.5 256.6 35.7C260.7 34.8 264.8 35.8 268.8 35.8C272.4 35.8 275.9 34.7 279.5 35.3C283.1 35.8 286.6 39.2 290.2 39.2C292.4 39.2 294.7 39.3 296.9 39.9C299.1 40.6 301.4 42.9 303.6 42.9C307.8 42.9 312.0 39.2 316.2 38.3C320.4 37.5 324.6 37.6 328.8 37.6" fill="none" stroke="#8a30ff" stroke-width="0.8" stroke-dasharray="2.3 3.8" stroke-dashoffset="3.5"/>
<path d="M208.8 35.2C212.4 35.2 216.0 30.0 219.7 28.8C223.3 27.6 226.9 27.9 230.5 27.9C232.8 27.9 235.2 29.7 237.5 30.2C239.8 30.8 242.2 31.2 244.5 31.2C248.5 31.2 252.6 29.9 256.6 30.5C260.7 31.1 264.8 34.7 268.8 34.7C272.4 34.7 275.9 33.8 279.5 33.2C283.1 32.6 286.6 31.2 290.2 31.2C292.4 31.2 294.7 29.5 296.9 29.1C299.1 28.7 301.4 28.9 303.6 28.9C307.8 28.9 312.0 31.4 316.2 32.5C320.4 33.5 324.6 35.2 328.8 35.2" fill="none" stroke="#5147fc" stroke-width="0.8" />
<path d="M208.8 35.2C212.4 35.2 216.0 30.0 219.7 28.8C223.3 27.6 226.9 27.9 230.5 27.9C232.8 27.9 235.2 29.7 237.5 30.2C239.8 30.8 242.2 31.2 244.5 31.2C248.5 31.2 252.6 29.9 256.6 30.5C260.7 31.1 264.8 34.7 268.8 34.7C272.4 34.7 275.9 33.8 279.5 33.2C283.1 32.6 286.6 31.2 290.2 31.2C292.4 31.2 294.7 29.5 296.9 29.1C299.1 28.7 301.4 28.9 303.6 28.9C307.8 28.9 312.0 31.4 316.2 32.5C320.4 33.5 324.6 35.2 328.8 35.2" fill="none" stroke="#8a30ff" stroke-width="0.8" stroke-dasharray="3.1 3.9" stroke-dashoffset="2.2"/>
<path d="M208.8 31.3C212.4 31.3 216.0 28.8 219.7 28.8C223.3 28.7 226.9 31.0 230.5 31.0C232.8 31.0 235.2 32.5 237.5 33.0C239.8 33.5 242.2 34.2 244.5 34.2C248.5 34.2 252.6 33.2 256.6 32.4C260.7 31.6 264.8 29.3 268.8 29.3C272.4 29.3 275.9 27.8 279.5 28.2C283.1 28.5 286.6 31.4 290.2 31.4C292.4 31.4 294.7 31.5 296.9 31.1C299.1 30.8 301.4 29.3 303.6 29.3C307.8 29.3 312.0 32.3 316.2 32.6C320.4 33.0 324.6 31.3 328.8 31.3" fill="none" stroke="#7908fe" stroke-width="0.8" />
<path d="M208.8 31.3C212.4 31.3 216.0 28.8 219.7 28.8C223.3 28.7 226.9 31.0 230.5 31.0C232.8 31.0 235.2 32.5 237.5 33.0C239.8 33.5 242.2 34.2 244.5 34.2C248.5 34.2 252.6 33.2 256.6 32.4C260.7 31.6 264.8 29.3 268.8 29.3C272.4 29.3 275.9 27.8 279.5 28.2C283.1 28.5 286.6 31.4 290.2 31.4C292.4 31.4 294.7 31.5 296.9 31.1C299.1 30.8 301.4 29.3 303.6 29.3C307.8 29.3 312.0 32.3 316.2 32.6C320.4 33.0 324.6 31.3 328.8 31.3" fill="none" stroke="#ff1010" stroke-width="0.8" stroke-dasharray="2.1 4.9" stroke-dashoffset="2.3"/>
<path d="M208.8 50.4C212.4 50.4 216.0 49.5 219.7 49.0C223.3 48.6 226.9 47.8 230.5 47.8C232.8 47.8 235.2 45.6 237.5 45.2C239.8 44.7 242.2 45.1 244.5 45.1C248.5 45.1 252.6 47.4 256.6 48.6C260.7 49.8 264.8 52.3 268.8 52.3C272.4 52.3 275.9 48.3 279.5 47.4C283.1 46.5 286.6 47.0 290.2 47.0C292.4 47.0 294.7 47.5 296.9 47.4C299.1 47.3 301.4 46.4 303.6 46.4C307.8 46.4 312.0 47.4 316.2 48.0C320.4 48.7 324.6 50.4 328.8 50.4" fill="none" stroke="#750ffe" stroke-width="0.8" />
<path d="M208.8 29.3C212.4 29.3 216.0 27.4 219.7 27.1C223.3 26.7 226.9 27.3 230.5 27.3C232.8 27.3 235.2 29.7 237.5 30.6C239.8 31.4 242.2 32.6 244.5 32.6C248.5 32.6 252.6 32.0 256.6 31.8C260.7 31.6 264.8 31.3 268.8 31.3C272.4 31.3 275.9 30.7 279.5 30.0C283.1 29.3 286.6 27.0 290.2 27.0C292.4 27.0 294.7 27.7 296.9 27.7C299.1 27.8 301.4 27.2 303.6 27.2C307.8 27.2 312.0 29.4 316.2 29.7C320.4 30.1 324.6 29.3 328.8 29.3" fill="none" stroke="#ff0904" stroke-width="0.8" />
<path d="M208.8 29.3C212.4 29.3 216.0 27.4 219.7 27.1C223.3 26.7 226.9 27.3 230.5 27.3C232.8 27.3 235.2 29.7 237.5 30.6C239.8 31.4 242.2 32.6 244.5 32.6C248.5 32.6 252.6 32.0 256.6 31.8C260.7 31.6 264.8 31.3 268.8 31.3C272.4 31.3 275.9 30.7 279.5 30.0C283.1 29.3 286.6 27.0 290.2 27.0C292.4 27.0 294.7 27.7 296.9 27.7C299.1 27.8 301.4 27.2 303.6 27.2C307.8 27.2 312.0 29.4 316.2 29.7C320.4 30.1 324.6 29.3 328.8 29.3" fill="none" stroke="#8a30ff" stroke-width="0.8" stroke-dasharray="2.6 3.0" stroke-dashoffset="1.8"/>
<path d="M208.8 37.0C212.4 37.0 216.0 39.1 219.7 39.0C223.3 38.8 226.9 36.2 230.5 36.2C232.8 36.2 235.2 37.5 237.5 38.0C239.8 38.5 242.2 39.3 244.5 39.3C248.5 39.3 252.6 36.2 256.6 36.1C260.7 36.0 264.8 38.7 268.8 38.7C272.4 38.7 275.9 38.7 279.5 37.8C283.1 37.0 286.6 33.6 290.2 33.6C292.4 33.6 294.7 33.8 296.9 34.0C299.1 34.3 301.4 35.3 303.6 35.3C307.8 35.3 312.0 36.4 316.2 36.6C320.4 36.9 324.6 37.0 328.8 37.0" fill="none" stroke="#770cfe" stroke-width="0.8" />
<path d="M208.8 37.0C212.4 37.0 216.0 39.1 219.7 39.0C223.3 38.8 226.9 36.2 230.5 36.2C232.8 36.2 235.2 37.5 237.5 38.0C239.8 38.5 242.2 39.3 244.5 39.3C248.5 39.3 252.6 36.2 256.6 36.1C260.7 36.0 264.8 38.7 268.8 38.7C272.4 38.7 275.9 38.7 279.5 37.8C283.1 37.0 286.6 33.6 290.2 33.6C292.4 33.6 294.7 33.8 296.9 34.0C299.1 34.3 301.4 35.3 303.6 35.3C307.8 35.3 312.0 36.4 316.2 36.6C320.4 36.9 324.6 37.0 328.8 37.0" fill="none" stroke="#ff1010" stroke-width="0.8" stroke-dasharray="3.3 3.2" stroke-dashoffset="2.4"/>
<path d="M208.8 42.0C212.4 42.0 216.0 43.9 219.7 44.1C223.3 44.2 226.9 42.8 230.5 42.8C232.8 42.8 235.2 46.7 237.5 47.4C239.8 48.1 242.2 47.1 244.5 47.1C248.5 47.1 252.6 42.9 256.6 42.0C260.7 41.0 264.8 41.1 268.8 41.1C272.4 41.1 275.9 43.0 279.5 44.0C283.1 45.0 286.6 47.1 290.2 47.1C292.4 47.1 294.7 47.0 296.9 46.8C299.1 46.7 301.4 46.0 303.6 46.0C307.8 46.0 312.0 44.6 316.2 44.0C320.4 43.3 324.6 42.0 328.8 42.0" fill="none" stroke="#7d03fe" stroke-width="0.8" />
<path d="M208.8 42.0C212.4 42.0 216.0 43.9 219.7 44.1C223.3 44.2 226.9 42.8 230.5 42.8C232.8 42.8 235.2 46.7 237.5 47.4C239.8 48.1 242.2 47.1 244.5 47.1C248.5 47.1 252.6 42.9 256.6 42.0C260.7 41.0 264.8 41.1 268.8 41.1C272.4 41.1 275.9 43.0 279.5 44.0C283.1 45.0 286.6 47.1 290.2 47.1C292.4 47.1 294.7 47.0 296.9 46.8C299.1 46.7 301.4 46.0 303.6 46.0C307.8 46.0 312.0 44.6 316.2 44.0C320.4 43.3 324.6 42.0 328.8 42.0" fill="none" stroke="#ff1010" stroke-width="0.8" stroke-dasharray="3.1 2.2" stroke-dashoffset="1.4"/>
<path d="M208.8 46.0C212.4 46.0 216.0 47.7 219.7 47.5C223.3 47.4 226.9 45.0 230.5 45.0C232.8 45.0 235.2 41.6 237.5 40.7C239.8 39.9 242.2 39.9 244.5 39.9C248.5 39.9 252.6 42.2 256.6 42.9C260.7 43.6 264.8 44.2 268.8 44.2C272.4 44.2 275.9 48.0 279.5 48.6C283.1 49.1 286.6 47.5 290.2 47.5C292.4 47.5 294.7 48.8 296.9 48.9C299.1 48.9 301.4 47.7 303.6 47.7C307.8 47.7 312.0 44.9 316.2 44.6C320.4 44.4 324.6 46.0 328.8 46.0" fill="none" stroke="#7312fe" stroke-width="0.8" />
<path d="M208.8 46.0C212.4 46.0 216.0 47.7 219.7 47.5C223.3 47.4 226.9 45.0 230.5 45.0C232.8 45.0 235.2 41.6 237.5 40.7C239.8 39.9 242.2 39.9 244.5 39.9C248.5 39.9 252.6 42.2 256.6 42.9C260.7 43.6 264.8 44.2 268.8 44.2C272.4 44.2 275.9 48.0 279.5 48.6C283.1 49.1 286.6 47.5 290.2 47.5C292.4 47.5 294.7 48.8 296.9 48.9C299.1 48.9 301.4 47.7 303.6 47.7C307.8 47.7 312.0 44.9 316.2 44.6C320.4 44.4 324.6 46.0 328.8 46.0" fill="none" stroke="#ff1010" stroke-width="0.8" stroke-dasharray="2.7 3.2" stroke-dashoffset="1.0"/>
<path d="M208.8 35.6C212.4 35.6 216.0 33.6 219.7 33.7C223.3 33.8 226.9 36.1 230.5 36.1C232.8 36.1 235.2 36.4 237.5 36.8C239.8 37.2 242.2 38.3 244.5 38.3C248.5 38.3 252.6 36.8 256.6 36.6C260.7 36.4 264.8 37.1 268.8 37.1C272.4 37.1 275.9 37.3 279.5 37.0C283.1 36.8 286.6 35.7 290.2 35.7C292.4 35.7 294.7 37.0 296.9 37.7C299.1 38.4 301.4 39.9 303.6 39.9C307.8 39.9 312.0 41.1 316.2 40.4C320.4 39.7 324.6 35.6 328.8 35.6" fill="none" stroke="#7e01fe" stroke-width="0.8" />
<path d="M208.8 31.7C212.4 31.7 216.0 32.8 219.7 32.7C223.3 32.5 226.9 30.7 230.5 30.7C232.8 30.7 235.2 31.9 237.5 32.4C239.8 32.9 242.2 33.9 244.5 33.9C248.5 33.9 252.6 30.6 256.6 30.1C260.7 29.6 264.8 30.7 268.8 30.7C272.4 30.7 275.9 29.4 279.5 29.6C283.1 29.7 286.6 31.6 290.2 31.6C292.4 31.6 294.7 29.9 296.9 29.4C299.1 28.9 301.4 28.7 303.6 28.7C307.8 28.7 312.0 31.1 316.2 31.6C320.4 32.1 324.6 31.7 328.8 31.7" fill="none" stroke="#ff0b05" stroke-width="0.8" />
<path d="M208.8 31.1C212.4 31.1 216.0 31.4 219.7 30.6C223.3 29.8 226.9 26.5 230.5 26.5C232.8 26.5 235.2 23.8 237.5 23.8C239.8 23.9 242.2 26.8 244.5 26.8C248.5 26.8 252.6 29.3 256.6 29.9C260.7 30.5 264.8 30.4 268.8 30.4C272.4 30.4 275.9 26.8 279.5 26.4C283.1 25.9 286.6 27.7 290.2 27.7C292.4 27.7 294.7 27.3 296.9 28.1C299.1 29.0 301.4 32.8 303.6 32.8C307.8 32.8 312.0 34.9 316.2 34.7C320.4 34.4 324.6 31.1 328.8 31.1" fill="none" stroke="#7c04fe" stroke-width="0.8" />
<path d="M208.8 31.1C212.4 31.1 216.0 31.4 219.7 30.6C223.3 29.8 226.9 26.5 230.5 26.5C232.8 26.5 235.2 23.8 237.5 23.8C239.8 23.9 242.2 26.8 244.5 26.8C248.5 26.8 252.6 29.3 256.6 29.9C260.7 30.5 264.8 30.4 268.8 30.4C272.4 30.4 275.9 26.8 279.5 26.4C283.1 25.9 286.6 27.7 290.2 27.7C292.4 27.7 294.7 27.3 296.9 28.1C299.1 29.0 301.4 32.8 303.6 32.8C307.8 32.8 312.0 34.9 316.2 34.7C320.4 34.4 324.6 31.1 328.8 31.1" fill="none" stroke="#ff1010" stroke-width="0.8" stroke-dasharray="3.4 4.0" stroke-dashoffset="4.9"/>
<path d="M208.8 31.5C212.4 31.5 216.0 32.7 219.7 32.4C223.3 32.0 226.9 29.3 230.5 29.3C232.8 29.3 235.2 29.9 237.5 29.7C239.8 29.6 242.2 28.4 244.5 28.4C248.5 28.4 252.6 30.7 256.6 31.0C260.7 31.3 264.8 30.0 268.8 30.0C272.4 30.0 275.9 30.1 279.5 30.3C283.1 30.5 286.6 31.4 290.2 31.4C292.4 31.4 294.7 32.8 296.9 32.4C299.1 32.1 301.4 29.3 303.6 29.3C307.8 29.3 312.0 30.1 316.2 30.5C320.4 30.8 324.6 31.5 328.8 31.5" fill="none" stroke="#780bfe" stroke-width="0.8" />
<path d="M208.8 31.5C212.4 31.5 216.0 31.1 219.7 31.0C223.3 30.9 226.9 31.0 230.5 31.0C232.8 31.0 235.2 33.7 237.5 34.0C239.8 34.2 242.2 32.3 244.5 32.3C248.5 32.3 252.6 32.1 256.6 31.6C260.7 31.1 264.8 29.5 268.8 29.5C272.4 29.5 275.9 31.8 279.5 33.2C283.1 34.6 286.6 37.8 290.2 37.8C292.4 37.8 294.7 36.5 296.9 36.0C299.1 35.4 301.4 34.5 303.6 34.5C307.8 34.5 312.0 31.1 316.2 30.6C320.4 30.1 324.6 31.5 328.8 31.5" fill="none" stroke="#ff2110" stroke-width="0.8" />
<path d="M208.8 31.5C212.4 31.5 216.0 31.1 219.7 31.0C223.3 30.9 226.9 31.0 230.5 31.0C232.8 31.0 235.2 33.7 237.5 34.0C239.8 34.2 242.2 32.3 244.5 32.3C248.5 32.3 252.6 32.1 256.6 31.6C260.7 31.1 264.8 29.5 268.8 29.5C272.4 29.5 275.9 31.8 279.5 33.2C283.1 34.6 286.6 37.8 290.2 37.8C292.4 37.8 294.7 36.5 296.9 36.0C299.1 35.4 301.4 34.5 303.6 34.5C307.8 34.5 312.0 31.1 316.2 30.6C320.4 30.1 324.6 31.5 328.8 31.5" fill="none" stroke="#8a30ff" stroke-width="0.8" stroke-dasharray="2.3 4.6" stroke-dashoffset="0.9"/>
<path d="M208.8 30.4C212.4 30.4 216.0 32.7 219.7 32.6C223.3 32.4 226.9 29.5 230.5 29.5C232.8 29.5 235.2 31.0 237.5 31.1C239.8 31.3 242.2 30.5 244.5 30.5C248.5 30.5 252.6 31.3 256.6 31.2C260.7 31.1 264.8 29.9 268.8 29.9C272.4 29.9 275.9 30.4 279.5 30.8C283.1 31.2 286.6 32.1 290.2 32.1C292.4 32.1 294.7 33.5 296.9 32.9C299.1 32.3 301.4 28.5 303.6 28.5C307.8 28.5 312.0 26.8 316.2 27.1C320.4 27.5 324.6 30.4 328.8 30.4" fill="none" stroke="#7b05fe" stroke-width="0.8" />
<path d="M208.8 38.9C212.4 38.9 216.0 37.9 219.7 37.9C223.3 38.0 226.9 39.2 230.5 39.2C232.8 39.2 235.2 38.6 237.5 38.3C239.8 38.1 242.2 37.8 244.5 37.8C248.5 37.8 252.6 36.7 256.6 36.8C260.7 36.9 264.8 38.4 268.8 38.4C272.4 38.4 275.9 39.7 279.5 39.7C283.1 39.7 286.6 38.2 290.2 38.2C292.4 38.2 294.7 40.4 296.9 40.8C299.1 41.3 301.4 40.8 303.6 40.8C307.8 40.8 312.0 38.2 316.2 37.8C320.4 37.5 324.6 38.9 328.8 38.9" fill="none" stroke="#ff0d06" stroke-width="0.8" />
<path d="M208.8 39.2C212.4 39.2 216.0 43.6 219.7 44.3C223.3 45.1 226.9 43.6 230.5 43.6C232.8 43.6 235.2 41.1 237.5 39.8C239.8 38.5 242.2 35.8 244.5 35.8C248.5 35.8 252.6 36.1 256.6 36.7C260.7 37.3 264.8 39.4 268.8 39.4C272.4 39.4 275.9 37.8 279.5 38.3C283.1 38.7 286.6 42.0 290.2 42.0C292.4 42.0 294.7 38.4 296.9 37.9C299.1 37.5 301.4 39.0 303.6 39.0C307.8 39.0 312.0 41.5 316.2 41.5C320.4 41.5 324.6 39.2 328.8 39.2" fill="none" stroke="#7312fe" stroke-width="0.8" />
<path d="M208.8 39.2C212.4 39.2 216.0 43.6 219.7 44.3C223.3 45.1 226.9 43.6 230.5 43.6C232.8 43.6 235.2 41.1 237.5 39.8C239.8 38.5 242.2 35.8 244.5 35.8C248.5 35.8 252.6 36.1 256.6 36.7C260.7 37.3 264.8 39.4 268.8 39.4C272.4 39.4 275.9 37.8 279.5 38.3C283.1 38.7 286.6 42.0 290.2 42.0C292.4 42.0 294.7 38.4 296.9 37.9C299.1 37.5 301.4 39.0 303.6 39.0C307.8 39.0 312.0 41.5 316.2 41.5C320.4 41.5 324.6 39.2 328.8 39.2" fill="none" stroke="#ff1010" stroke-width="0.8" stroke-dasharray="2.0 2.2" stroke-dashoffset="2.4"/>
<path d="M208.8 27.5C212.4 27.5 216.0 27.4 219.7 27.6C223.3 27.8 226.9 28.8 230.5 28.8C232.8 28.8 235.2 28.7 237.5 28.5C239.8 28.4 242.2 27.9 244.5 27.9C248.5 27.9 252.6 25.3 256.6 25.3C260.7 25.2 264.8 27.6 268.8 27.6C272.4 27.6 275.9 25.9 279.5 25.6C283.1 25.3 286.6 25.8 290.2 25.8C292.4 25.8 294.7 25.9 296.9 27.2C299.1 28.4 301.4 33.3 303.6 33.3C307.8 33.3 312.0 31.6 316.2 30.7C320.4 29.7 324.6 27.5 328.8 27.5" fill="none" stroke="#563ffc" stroke-width="0.8" />
<path d="M208.8 27.7C212.4 27.7 216.0 27.9 219.7 28.6C223.3 29.3 226.9 31.9 230.5 31.9C232.8 31.9 235.2 31.4 237.5 31.4C239.8 31.3 242.2 31.5 244.5 31.5C248.5 31.5 252.6 32.7 256.6 32.4C260.7 32.0 264.8 29.4 268.8 29.4C272.4 29.4 275.9 28.1 279.5 28.3C283.1 28.5 286.6 30.6 290.2 30.6C292.4 30.6 294.7 28.9 296.9 29.3C299.1 29.6 301.4 32.6 303.6 32.6C307.8 32.6 312.0 29.8 316.2 29.0C320.4 28.2 324.6 27.7 328.8 27.7" fill="none" stroke="#ff0904" stroke-width="0.8" />
<path d="M208.8 30.2C212.4 30.2 216.0 31.3 219.7 31.2C223.3 31.2 226.9 29.9 230.5 29.9C232.8 29.9 235.2 27.6 237.5 27.8C239.8 28.0 242.2 31.2 244.5 31.2C248.5 31.2 252.6 28.5 256.6 28.0C260.7 27.6 264.8 28.5 268.8 28.5C272.4 28.5 275.9 28.6 279.5 29.3C283.1 30.0 286.6 32.6 290.2 32.6C292.4 32.6 294.7 32.3 296.9 32.5C299.1 32.7 301.4 33.8 303.6 33.8C307.8 33.8 312.0 30.2 316.2 29.6C320.4 29.0 324.6 30.2 328.8 30.2" fill="none" stroke="#7b06fe" stroke-width="0.8" />
<path d="M208.8 41.0C212.4 41.0 216.0 41.8 219.7 41.4C223.3 41.1 226.9 39.1 230.5 39.1C232.8 39.1 235.2 40.6 237.5 40.7C239.8 40.9 242.2 39.9 244.5 39.9C248.5 39.9 252.6 39.5 256.6 40.0C260.7 40.5 264.8 42.8 268.8 42.8C272.4 42.8 275.9 42.9 279.5 42.0C283.1 41.1 286.6 37.4 290.2 37.4C292.4 37.4 294.7 37.7 296.9 38.2C299.1 38.7 301.4 40.4 303.6 40.4C307.8 40.4 312.0 38.4 316.2 38.5C320.4 38.6 324.6 41.0 328.8 41.0" fill="none" stroke="#ff2110" stroke-width="0.8" />
<path d="M208.8 41.0C212.4 41.0 216.0 41.8 219.7 41.4C223.3 41.1 226.9 39.1 230.5 39.1C232.8 39.1 235.2 40.6 237.5 40.7C239.8 40.9 242.2 39.9 244.5 39.9C248.5 39.9 252.6 39.5 256.6 40.0C260.7 40.5 264.8 42.8 268.8 42.8C272.4 42.8 275.9 42.9 279.5 42.0C283.1 41.1 286.6 37.4 290.2 37.4C292.4 37.4 294.7 37.7 296.9 38.2C299.1 38.7 301.4 40.4 303.6 40.4C307.8 40.4 312.0 38.4 316.2 38.5C320.4 38.6 324.6 41.0 328.8 41.0" fill="none" stroke="#8a30ff" stroke-width="0.8" stroke-dasharray="2.9 2.9" stroke-dashoffset="0.4"/>
<path d="M208.8 42.8C212.4 42.8 216.0 39.8 219.7 39.1C223.3 38.4 226.9 38.6 230.5 38.6C232.8 38.6 235.2 38.2 237.5 38.3C239.8 38.3 242.2 38.8 244.5 38.8C248.5 38.8 252.6 39.5 256.6 40.2C260.7 41.0 264.8 43.3 268.8 43.3C272.4 43.3 275.9 41.6 279.5 41.2C283.1 40.9 286.6 41.2 290.2 41.2C292.4 41.2 294.7 39.7 296.9 40.3C299.1 41.0 301.4 45.3 303.6 45.3C307.8 45.3 312.0 45.0 316.2 44.6C320.4 44.2 324.6 42.8 328.8 42.8" fill="none" stroke="#760efe" stroke-width="0.8" />
<path d="M208.8 42.8C212.4 42.8 216.0 39.8 219.7 39.1C223.3 38.4 226.9 38.6 230.5 38.6C232.8 38.6 235.2 38.2 237.5 38.3C239.8 38.3 242.2 38.8 244.5 38.8C248.5 38.8 252.6 39.5 256.6 40.2C260.7 41.0 264.8 43.3 268.8 43.3C272.4 43.3 275.9 41.6 279.5 41.2C283.1 40.9 286.6 41.2 290.2 41.2C292.4 41.2 294.7 39.7 296.9 40.3C299.1 41.0 301.4 45.3 303.6 45.3C307.8 45.3 312.0 45.0 316.2 44.6C320.4 44.2 324.6 42.8 328.8 42.8" fill="none" stroke="#ff1010" stroke-width="0.8" stroke-dasharray="2.6 2.5" stroke-dashoffset="4.3"/>
<path d="M208.8 39.2C212.4 39.2 216.0 40.4 219.7 40.2C223.3 40.0 226.9 38.0 230.5 38.0C232.8 38.0 235.2 38.8 237.5 37.9C239.8 37.0 242.2 32.6 244.5 32.6C248.5 32.6 252.6 34.9 256.6 36.0C260.7 37.0 264.8 38.9 268.8 38.9C272.4 38.9 275.9 41.8 279.5 41.8C283.1 41.8 286.6 39.0 290.2 39.0C292.4 39.0 294.7 38.3 296.9 37.7C299.1 37.1 301.4 35.3 303.6 35.3C307.8 35.3 312.0 34.2 316.2 34.9C320.4 35.5 324.6 39.2 328.8 39.2" fill="none" stroke="#7a08fe" stroke-width="0.8" />
<path d="M208.8 39.2C212.4 39.2 216.0 40.4 219.7 40.2C223.3 40.0 226.9 38.0 230.5 38.0C232.8 38.0 235.2 38.8 237.5 37.9C239.8 37.0 242.2 32.6 244.5 32.6C248.5 32.6 252.6 34.9 256.6 36.0C260.7 37.0 264.8 38.9 268.8 38.9C272.4 38.9 275.9 41.8 279.5 41.8C283.1 41.8 286.6 39.0 290.2 39.0C292.4 39.0 294.7 38.3 296.9 37.7C299.1 37.1 301.4 35.3 303.6 35.3C307.8 35.3 312.0 34.2 316.2 34.9C320.4 35.5 324.6 39.2 328.8 39.2" fill="none" stroke="#ff1010" stroke-width="0.8" stroke-dasharray="3.5 2.1" stroke-dashoffset="3.5"/>
<path d="M208.8 39.4C212.4 39.4 216.0 36.6 219.7 35.9C223.3 35.3 226.9 35.5 230.5 35.5C232.8 35.5 235.2 34.1 237.5 33.9C239.8 33.7 242.2 34.1 244.5 34.1C248.5 34.1 252.6 34.7 256.6 35.7C260.7 36.8 264.8 40.4 268.8 40.4C272.4 40.4 275.9 41.2 279.5 40.1C283.1 39.0 286.6 34.0 290.2 34.0C292.4 34.0 294.7 37.0 296.9 37.5C299.1 37.9 301.4 36.9 303.6 36.9C307.8 36.9 312.0 39.8 316.2 40.2C320.4 40.7 324.6 39.4 328.8 39.4" fill="none" stroke="#7a08fe" stroke-width="0.8" />
<path d="M208.8 39.4C212.4 39.4 216.0 36.6 219.7 35.9C223.3 35.3 226.9 35.5 230.5 35.5C232.8 35.5 235.2 34.1 237.5 33.9C239.8 33.7 242.2 34.1 244.5 34.1C248.5 34.1 252.6 34.7 256.6 35.7C260.7 36.8 264.8 40.4 268.8 40.4C272.4 40.4 275.9 41.2 279.5 40.1C283.1 39.0 286.6 34.0 290.2 34.0C292.4 34.0 294.7 37.0 296.9 37.5C299.1 37.9 301.4 36.9 303.6 36.9C307.8 36.9 312.0 39.8 316.2 40.2C320.4 40.7 324.6 39.4 328.8 39.4" fill="none" stroke="#ff1010" stroke-width="0.8" stroke-dasharray="3.2 3.5" stroke-dashoffset="0.2"/>
<path d="M208.8 27.7C212.4 27.7 216.0 30.1 219.7 30.9C223.3 31.7 226.9 32.6 230.5 32.6C232.8 32.6 235.2 34.9 237.5 35.2C239.8 35.4 242.2 34.1 244.5 34.1C248.5 34.1 252.6 31.7 256.6 30.9C260.7 30.0 264.8 29.1 268.8 29.1C272.4 29.1 275.9 27.6 279.5 28.3C283.1 29.0 286.6 33.3 290.2 33.3C292.4 33.3 294.7 32.1 296.9 31.4C299.1 30.8 301.4 29.5 303.6 29.5C307.8 29.5 312.0 29.4 316.2 29.1C320.4 28.8 324.6 27.7 328.8 27.7" fill="none" stroke="#ff180c" stroke-width="0.8" />
<path d="M208.8 27.7C212.4 27.7 216.0 30.1 219.7 30.9C223.3 31.7 226.9 32.6 230.5 32.6C232.8 32.6 235.2 34.9 237.5 35.2C239.8 35.4 242.2 34.1 244.5 34.1C248.5 34.1 252.6 31.7 256.6 30.9C260.7 30.0 264.8 29.1 268.8 29.1C272.4 29.1 275.9 27.6 279.5 28.3C283.1 29.0 286.6 33.3 290.2 33.3C292.4 33.3 294.7 32.1 296.9 31.4C299.1 30.8 301.4 29.5 303.6 29.5C307.8 29.5 312.0 29.4 316.2 29.1C320.4 28.8 324.6 27.7 328.8 27.7" fill="none" stroke="#8a30ff" stroke-width="0.8" stroke-dasharray="1.6 2.9" stroke-dashoffset="2.3"/>
<path d="M208.8 37.9C212.4 37.9 216.0 38.8 219.7 38.4C223.3 38.0 226.9 35.4 230.5 35.4C232.8 35.4 235.2 36.2 237.5 36.9C239.8 37.7 242.2 40.1 244.5 40.1C248.5 40.1 252.6 40.0 256.6 39.6C260.7 39.3 264.8 38.0 268.8 38.0C272.4 38.0 275.9 39.6 279.5 39.9C283.1 40.2 286.6 39.6 290.2 39.6C292.4 39.6 294.7 39.1 296.9 38.8C299.1 38.5 301.4 37.8 303.6 37.8C307.8 37.8 312.0 36.5 316.2 36.5C320.4 36.5 324.6 37.9 328.8 37.9" fill="none" stroke="#ff2412" stroke-width="0.8" />
<path d="M208.8 37.9C212.4 37.9 216.0 38.8 219.7 38.4C223.3 38.0 226.9 35.4 230.5 35.4C232.8 35.4 235.2 36.2 237.5 36.9C239.8 37.7 242.2 40.1 244.5 40.1C248.5 40.1 252.6 40.0 256.6 39.6C260.7 39.3 264.8 38.0 268.8 38.0C272.4 38.0 275.9 39.6 279.5 39.9C283.1 40.2 286.6 39.6 290.2 39.6C292.4 39.6 294.7 39.1 296.9 38.8C299.1 38.5 301.4 37.8 303.6 37.8C307.8 37.8 312.0 36.5 316.2 36.5C320.4 36.5 324.6 37.9 328.8 37.9" fill="none" stroke="#8a30ff" stroke-width="0.8" stroke-dasharray="2.7 4.3" stroke-dashoffset="4.3"/>
<path d="M208.8 36.5C212.4 36.5 216.0 35.9 219.7 35.0C223.3 34.2 226.9 31.3 230.5 31.3C232.8 31.3 235.2 34.5 237.5 35.1C239.8 35.7 242.2 34.8 244.5 34.8C248.5 34.8 252.6 37.3 256.6 37.9C260.7 38.4 264.8 38.1 268.8 38.1C272.4 38.1 275.9 37.8 279.5 37.3C283.1 36.8 286.6 35.1 290.2 35.1C292.4 35.1 294.7 33.1 296.9 33.0C299.1 32.9 301.4 34.4 303.6 34.4C307.8 34.4 312.0 35.2 316.2 35.6C320.4 35.9 324.6 36.5 328.8 36.5" fill="none" stroke="#7c04fe" stroke-width="0.8" />
<path d="M208.8 36.8C212.4 36.8 216.0 35.0 219.7 34.5C223.3 34.0 226.9 33.6 230.5 33.6C232.8 33.6 235.2 32.3 237.5 32.8C239.8 33.4 242.2 36.7 244.5 36.7C248.5 36.7 252.6 38.0 256.6 38.1C260.7 38.2 264.8 37.2 268.8 37.2C272.4 37.2 275.9 38.1 279.5 38.3C283.1 38.6 286.6 38.8 290.2 38.8C292.4 38.8 294.7 40.8 296.9 41.1C299.1 41.4 301.4 40.8 303.6 40.8C307.8 40.8 312.0 38.7 316.2 38.0C320.4 37.4 324.6 36.8 328.8 36.8" fill="none" stroke="#7c04fe" stroke-width="0.8" />
<path d="M208.8 36.8C212.4 36.8 216.0 35.0 219.7 34.5C223.3 34.0 226.9 33.6 230.5 33.6C232.8 33.6 235.2 32.3 237.5 32.8C239.8 33.4 242.2 36.7 244.5 36.7C248.5 36.7 252.6 38.0 256.6 38.1C260.7 38.2 264.8 37.2 268.8 37.2C272.4 37.2 275.9 38.1 279.5 38.3C283.1 38.6 286.6 38.8 290.2 38.8C292.4 38.8 294.7 40.8 296.9 41.1C299.1 41.4 301.4 40.8 303.6 40.8C307.8 40.8 312.0 38.7 316.2 38.0C320.4 37.4 324.6 36.8 328.8 36.8" fill="none" stroke="#ff1010" stroke-width="0.8" stroke-dasharray="2.0 3.9" stroke-dashoffset="5.4"/>
<path d="M208.8 31.9C212.4 31.9 216.0 31.8 219.7 32.0C223.3 32.1 226.9 33.0 230.5 33.0C232.8 33.0 235.2 31.1 237.5 30.4C239.8 29.7 242.2 28.7 244.5 28.7C248.5 28.7 252.6 30.2 256.6 30.9C260.7 31.6 264.8 32.8 268.8 32.8C272.4 32.8 275.9 34.8 279.5 34.5C283.1 34.3 286.6 31.4 290.2 31.4C292.4 31.4 294.7 30.9 296.9 31.3C299.1 31.6 301.4 33.5 303.6 33.5C307.8 33.5 312.0 31.7 316.2 31.4C320.4 31.1 324.6 31.9 328.8 31.9" fill="none" stroke="#7313fe" stroke-width="0.8" />
<path d="M208.8 31.9C212.4 31.9 216.0 31.8 219.7 32.0C223.3 32.1 226.9 33.0 230.5 33.0C232.8 33.0 235.2 31.1 237.5 30.4C239.8 29.7 242.2 28.7 244.5 28.7C248.5 28.7 252.6 30.2 256.6 30.9C260.7 31.6 264.8 32.8 268.8 32.8C272.4 32.8 275.9 34.8 279.5 34.5C283.1 34.3 286.6 31.4 290.2 31.4C292.4 31.4 294.7 30.9 296.9 31.3C299.1 31.6 301.4 33.5 303.6 33.5C307.8 33.5 312.0 31.7 316.2 31.4C320.4 31.1 324.6 31.9 328.8 31.9" fill="none" stroke="#ff1010" stroke-width="0.8" stroke-dasharray="1.6 2.3" stroke-dashoffset="3.4"/>
<path d="M208.8 36.3C212.4 36.3 216.0 38.3 219.7 38.4C223.3 38.4 226.9 36.4 230.5 36.4C232.8 36.4 235.2 40.2 237.5 40.7C239.8 41.3 242.2 39.6 244.5 39.6C248.5 39.6 252.6 37.4 256.6 36.8C260.7 36.3 264.8 36.3 268.8 36.3C272.4 36.3 275.9 39.7 279.5 40.4C283.1 41.1 286.6 40.4 290.2 40.4C292.4 40.4 294.7 41.3 296.9 41.4C299.1 41.5 301.4 40.7 303.6 40.7C307.8 40.7 312.0 41.8 316.2 41.1C320.4 40.3 324.6 36.3 328.8 36.3" fill="none" stroke="#ff0c06" stroke-width="0.8" />
<path d="M208.8 33.1C212.4 33.1 216.0 34.7 219.7 34.8C223.3 35.0 226.9 33.8 230.5 33.8C232.8 33.8 235.2 35.6 237.5 35.6C239.8 35.5 242.2 33.5 244.5 33.5C248.5 33.5 252.6 35.5 256.6 35.6C260.7 35.7 264.8 34.1 268.8 34.1C272.4 34.1 275.9 35.2 279.5 35.1C283.1 35.0 286.6 33.5 290.2 33.5C292.4 33.5 294.7 37.2 296.9 37.9C299.1 38.5 301.4 37.2 303.6 37.2C307.8 37.2 312.0 38.5 316.2 37.9C320.4 37.2 324.6 33.1 328.8 33.1" fill="none" stroke="#7313fe" stroke-width="0.8" />
<path d="M208.8 33.1C212.4 33.1 216.0 34.7 219.7 34.8C223.3 35.0 226.9 33.8 230.5 33.8C232.8 33.8 235.2 35.6 237.5 35.6C239.8 35.5 242.2 33.5 244.5 33.5C248.5 33.5 252.6 35.5 256.6 35.6C260.7 35.7 264.8 34.1 268.8 34.1C272.4 34.1 275.9 35.2 279.5 35.1C283.1 35.0 286.6 33.5 290.2 33.5C292.4 33.5 294.7 37.2 296.9 37.9C299.1 38.5 301.4 37.2 303.6 37.2C307.8 37.2 312.0 38.5 316.2 37.9C320.4 37.2 324.6 33.1 328.8 33.1" fill="none" stroke="#ff1010" stroke-width="0.8" stroke-dasharray="1.7 2.2" stroke-dashoffset="1.2"/>
<path d="M208.8 34.0C212.4 34.0 216.0 35.1 219.7 35.4C223.3 35.7 226.9 35.7 230.5 35.7C232.8 35.7 235.2 35.2 237.5 35.2C239.8 35.3 242.2 36.2 244.5 36.2C248.5 36.2 252.6 36.1 256.6 35.4C260.7 34.8 264.8 32.4 268.8 32.4C272.4 32.4 275.9 32.8 279.5 33.0C283.1 33.1 286.6 33.5 290.2 33.5C292.4 33.5 294.7 36.7 296.9 36.9C299.1 37.0 301.4 34.6 303.6 34.6C307.8 34.6 312.0 37.1 316.2 37.0C320.4 36.9 324.6 34.0 328.8 34.0" fill="none" stroke="#ff0904" stroke-width="0.8" />
<path d="M208.8 29.8C212.4 29.8 216.0 32.0 219.7 32.5C223.3 32.9 226.9 32.7 230.5 32.7C232.8 32.7 235.2 34.1 237.5 34.0C239.8 33.8 242.2 31.7 244.5 31.7C248.5 31.7 252.6 31.6 256.6 31.2C260.7 30.9 264.8 29.8 268.8 29.8C272.4 29.8 275.9 30.7 279.5 31.8C283.1 32.9 286.6 36.2 290.2 36.2C292.4 36.2 294.7 33.8 296.9 33.1C299.1 32.4 301.4 32.0 303.6 32.0C307.8 32.0 312.0 33.3 316.2 33.0C320.4 32.6 324.6 29.8 328.8 29.8" fill="none" stroke="#7e01fe" stroke-width="0.8" />
<path d="M208.8 29.8C212.4 29.8 216.0 32.0 219.7 32.5C223.3 32.9 226.9 32.7 230.5 32.7C232.8 32.7 235.2 34.1 237.5 34.0C239.8 33.8 242.2 31.7 244.5 31.7C248.5 31.7 252.6 31.6 256.6 31.2C260.7 30.9 264.8 29.8 268.8 29.8C272.4 29.8 275.9 30.7 279.5 31.8C283.1 32.9 286.6 36.2 290.2 36.2C292.4 36.2 294.7 33.8 296.9 33.1C299.1 32.4 301.4 32.0 303.6 32.0C307.8 32.0 312.0 33.3 316.2 33.0C320.4 32.6 324.6 29.8 328.8 29.8" fill="none" stroke="#ff1010" stroke-width="0.8" stroke-dasharray="2.0 4.0" stroke-dashoffset="0.4"/>
<path d="M208.8 29.2C212.4 29.2 216.0 32.1 219.7 32.6C223.3 33.1 226.9 32.3 230.5 32.3C232.8 32.3 235.2 30.7 237.5 31.4C239.8 32.0 242.2 36.4 244.5 36.4C248.5 36.4 252.6 35.4 256.6 34.1C260.7 32.8 264.8 28.7 268.8 28.7C272.4 28.7 275.9 28.8 279.5 29.3C283.1 29.8 286.6 31.6 290.2 31.6C292.4 31.6 294.7 30.1 296.9 30.9C299.1 31.6 301.4 36.0 303.6 36.0C307.8 36.0 312.0 32.2 316.2 31.1C320.4 30.0 324.6 29.2 328.8 29.2" fill="none" stroke="#7a07fe" stroke-width="0.8" />
<path d="M208.8 29.2C212.4 29.2 216.0 32.1 219.7 32.6C223.3 33.1 226.9 32.3 230.5 32.3C232.8 32.3 235.2 30.7 237.5 31.4C239.8 32.0 242.2 36.4 244.5 36.4C248.5 36.4 252.6 35.4 256.6 34.1C260.7 32.8 264.8 28.7 268.8 28.7C272.4 28.7 275.9 28.8 279.5 29.3C283.1 29.8 286.6 31.6 290.2 31.6C292.4 31.6 294.7 30.1 296.9 30.9C299.1 31.6 301.4 36.0 303.6 36.0C307.8 36.0 312.0 32.2 316.2 31.1C320.4 30.0 324.6 29.2 328.8 29.2" fill="none" stroke="#ff1010" stroke-width="0.8" stroke-dasharray="1.6 2.7" stroke-dashoffset="5.8"/>
<path d="M208.8 35.4C212.4 35.4 216.0 36.0 219.7 35.5C223.3 35.0 226.9 32.3 230.5 32.3C232.8 32.3 235.2 32.4 237.5 32.7C239.8 32.9 242.2 33.8 244.5 33.8C248.5 33.8 252.6 34.8 256.6 34.9C260.7 35.1 264.8 34.9 268.8 34.9C272.4 34.9 275.9 38.1 279.5 38.4C283.1 38.8 286.6 37.1 290.2 37.1C292.4 37.1 294.7 37.5 296.9 37.2C299.1 37.0 301.4 35.6 303.6 35.6C307.8 35.6 312.0 36.4 316.2 36.3C320.4 36.3 324.6 35.4 328.8 35.4" fill="none" stroke="#ff2613" stroke-width="0.8" />
<path d="M208.8 38.0C212.4 38.0 216.0 39.6 219.7 39.5C223.3 39.4 226.9 37.6 230.5 37.6C232.8 37.6 235.2 37.4 237.5 37.5C239.8 37.6 242.2 38.3 244.5 38.3C248.5 38.3 252.6 40.6 256.6 40.3C260.7 40.0 264.8 36.6 268.8 36.6C272.4 36.6 275.9 40.4 279.5 40.8C283.1 41.2 286.6 39.0 290.2 39.0C292.4 39.0 294.7 36.7 296.9 36.3C299.1 36.0 301.4 37.1 303.6 37.1C307.8 37.1 312.0 36.9 316.2 37.1C320.4 37.2 324.6 38.0 328.8 38.0" fill="none" stroke="#ff150a" stroke-width="0.8" />
<path d="M208.8 38.0C212.4 38.0 216.0 39.6 219.7 39.5C223.3 39.4 226.9 37.6 230.5 37.6C232.8 37.6 235.2 37.4 237.5 37.5C239.8 37.6 242.2 38.3 244.5 38.3C248.5 38.3 252.6 40.6 256.6 40.3C260.7 40.0 264.8 36.6 268.8 36.6C272.4 36.6 275.9 40.4 279.5 40.8C283.1 41.2 286.6 39.0 290.2 39.0C292.4 39.0 294.7 36.7 296.9 36.3C299.1 36.0 301.4 37.1 303.6 37.1C307.8 37.1 312.0 36.9 316.2 37.1C320.4 37.2 324.6 38.0 328.8 38.0" fill="none" stroke="#8a30ff" stroke-width="0.8" stroke-dasharray="2.8 2.4" stroke-dashoffset="1.0"/>
<path d="M208.8 32.5C212.4 32.5 216.0 33.9 219.7 34.3C223.3 34.7 226.9 34.9 230.5 34.9C232.8 34.9 235.2 34.1 237.5 34.8C239.8 35.5 242.2 39.1 244.5 39.1C248.5 39.1 252.6 35.9 256.6 35.1C260.7 34.3 264.8 34.3 268.8 34.3C272.4 34.3 275.9 36.5 279.5 36.4C283.1 36.3 286.6 33.5 290.2 33.5C292.4 33.5 294.7 35.6 296.9 35.4C299.1 35.1 301.4 32.0 303.6 32.0C307.8 32.0 312.0 29.4 316.2 29.4C320.4 29.5 324.6 32.5 328.8 32.5" fill="none" stroke="#ff160b" stroke-width="0.8" />
<path d="M208.8 32.5C212.4 32.5 216.0 33.9 219.7 34.3C223.3 34.7 226.9 34.9 230.5 34.9C232.8 34.9 235.2 34.1 237.5 34.8C239.8 35.5 242.2 39.1 244.5 39.1C248.5 39.1 252.6 35.9 256.6 35.1C260.7 34.3 264.8 34.3 268.8 34.3C272.4 34.3 275.9 36.5 279.5 36.4C283.1 36.3 286.6 33.5 290.2 33.5C292.4 33.5 294.7 35.6 296.9 35.4C299.1 35.1 301.4 32.0 303.6 32.0C307.8 32.0 312.0 29.4 316.2 29.4C320.4 29.5 324.6 32.5 328.8 32.5" fill="none" stroke="#8a30ff" stroke-width="0.8" stroke-dasharray="3.0 3.1" stroke-dashoffset="4.7"/>
<path d="M208.8 30.8C212.4 30.8 216.0 31.9 219.7 32.5C223.3 33.1 226.9 34.4 230.5 34.4C232.8 34.4 235.2 34.2 237.5 33.8C239.8 33.5 242.2 32.3 244.5 32.3C248.5 32.3 252.6 34.4 256.6 34.1C260.7 33.7 264.8 30.3 268.8 30.3C272.4 30.3 275.9 27.8 279.5 27.3C283.1 26.9 286.6 27.5 290.2 27.5C292.4 27.5 294.7 29.4 296.9 30.1C299.1 30.8 301.4 31.8 303.6 31.8C307.8 31.8 312.0 30.0 316.2 29.9C320.4 29.7 324.6 30.8 328.8 30.8" fill="none" stroke="#760efe" stroke-width="0.8" />
<path d="M208.8 30.8C212.4 30.8 216.0 31.9 219.7 32.5C223.3 33.1 226.9 34.4 230.5 34.4C232.8 34.4 235.2 34.2 237.5 33.8C239.8 33.5 242.2 32.3 244.5 32.3C248.5 32.3 252.6 34.4 256.6 34.1C260.7 33.7 264.8 30.3 268.8 30.3C272.4 30.3 275.9 27.8 279.5 27.3C283.1 26.9 286.6 27.5 290.2 27.5C292.4 27.5 294.7 29.4 296.9 30.1C299.1 30.8 301.4 31.8 303.6 31.8C307.8 31.8 312.0 30.0 316.2 29.9C320.4 29.7 324.6 30.8 328.8 30.8" fill="none" stroke="#ff1010" stroke-width="0.8" stroke-dasharray="2.5 4.1" stroke-dashoffset="0.0"/>
<path d="M208.8 41.9C212.4 41.9 216.0 41.2 219.7 41.3C223.3 41.4 226.9 42.6 230.5 42.6C232.8 42.6 235.2 40.0 237.5 40.1C239.8 40.3 242.2 43.4 244.5 43.4C248.5 43.4 252.6 41.6 256.6 41.2C260.7 40.9 264.8 41.4 268.8 41.4C272.4 41.4 275.9 40.3 279.5 39.9C283.1 39.5 286.6 39.0 290.2 39.0C292.4 39.0 294.7 41.1 296.9 41.7C299.1 42.3 301.4 42.6 303.6 42.6C307.8 42.6 312.0 44.9 316.2 44.8C320.4 44.7 324.6 41.9 328.8 41.9" fill="none" stroke="#780afe" stroke-width="0.8" />
<path d="M208.8 50.1C212.4 50.1 216.0 50.3 219.7 50.4C223.3 50.4 226.9 50.4 230.5 50.4C232.8 50.4 235.2 47.9 237.5 47.0C239.8 46.0 242.2 44.9 244.5 44.9C248.5 44.9 252.6 49.5 256.6 50.5C260.7 51.5 264.8 51.0 268.8 51.0C272.4 51.0 275.9 49.4 279.5 49.3C283.1 49.1 286.6 49.9 290.2 49.9C292.4 49.9 294.7 48.0 296.9 46.8C299.1 45.7 301.4 43.1 303.6 43.1C307.8 43.1 312.0 47.4 316.2 48.6C320.4 49.7 324.6 50.1 328.8 50.1" fill="none" stroke="#ff190c" stroke-width="0.8" />
<path d="M208.8 50.1C212.4 50.1 216.0 50.3 219.7 50.4C223.3 50.4 226.9 50.4 230.5 50.4C232.8 50.4 235.2 47.9 237.5 47.0C239.8 46.0 242.2 44.9 244.5 44.9C248.5 44.9 252.6 49.5 256.6 50.5C260.7 51.5 264.8 51.0 268.8 51.0C272.4 51.0 275.9 49.4 279.5 49.3C283.1 49.1 286.6 49.9 290.2 49.9C292.4 49.9 294.7 48.0 296.9 46.8C299.1 45.7 301.4 43.1 303.6 43.1C307.8 43.1 312.0 47.4 316.2 48.6C320.4 49.7 324.6 50.1 328.8 50.1" fill="none" stroke="#8a30ff" stroke-width="0.8" stroke-dasharray="2.6 2.6" stroke-dashoffset="2.7"/>
<path d="M208.8 26.2C212.4 26.2 216.0 25.4 219.7 25.8C223.3 26.1 226.9 28.2 230.5 28.2C232.8 28.2 235.2 29.7 237.5 29.4C239.8 29.1 242.2 26.6 244.5 26.6C248.5 26.6 252.6 27.6 256.6 27.7C260.7 27.7 264.8 27.2 268.8 27.2C272.4 27.2 275.9 26.6 279.5 26.7C283.1 26.8 286.6 27.6 290.2 27.6C292.4 27.6 294.7 28.4 296.9 28.4C299.1 28.4 301.4 27.7 303.6 27.7C307.8 27.7 312.0 25.7 316.2 25.4C320.4 25.2 324.6 26.2 328.8 26.2" fill="none" stroke="#ff0402" stroke-width="0.8" />
<path d="M208.8 26.2C212.4 26.2 216.0 25.4 219.7 25.8C223.3 26.1 226.9 28.2 230.5 28.2C232.8 28.2 235.2 29.7 237.5 29.4C239.8 29.1 242.2 26.6 244.5 26.6C248.5 26.6 252.6 27.6 256.6 27.7C260.7 27.7 264.8 27.2 268.8 27.2C272.4 27.2 275.9 26.6 279.5 26.7C283.1 26.8 286.6 27.6 290.2 27.6C292.4 27.6 294.7 28.4 296.9 28.4C299.1 28.4 301.4 27.7 303.6 27.7C307.8 27.7 312.0 25.7 316.2 25.4C320.4 25.2 324.6 26.2 328.8 26.2" fill="none" stroke="#8a30ff" stroke-width="0.8" stroke-dasharray="3.3 2.5" stroke-dashoffset="0.8"/>
<path d="M208.8 31.3C212.4 31.3 216.0 31.4 219.7 31.1C223.3 30.9 226.9 29.9 230.5 29.9C232.8 29.9 235.2 26.1 237.5 25.4C239.8 24.7 242.2 25.5 244.5 25.5C248.5 25.5 252.6 28.1 256.6 28.8C260.7 29.5 264.8 29.5 268.8 29.5C272.4 29.5 275.9 31.0 279.5 31.4C283.1 31.8 286.6 32.0 290.2 32.0C292.4 32.0 294.7 31.8 296.9 31.4C299.1 30.9 301.4 29.4 303.6 29.4C307.8 29.4 312.0 28.3 316.2 28.7C320.4 29.0 324.6 31.3 328.8 31.3" fill="none" stroke="#632cfe" stroke-width="0.8" />
<path d="M208.8 31.3C212.4 31.3 216.0 31.4 219.7 31.1C223.3 30.9 226.9 29.9 230.5 29.9C232.8 29.9 235.2 26.1 237.5 25.4C239.8 24.7 242.2 25.5 244.5 25.5C248.5 25.5 252.6 28.1 256.6 28.8C260.7 29.5 264.8 29.5 268.8 29.5C272.4 29.5 275.9 31.0 279.5 31.4C283.1 31.8 286.6 32.0 290.2 32.0C292.4 32.0 294.7 31.8 296.9 31.4C299.1 30.9 301.4 29.4 303.6 29.4C307.8 29.4 312.0 28.3 316.2 28.7C320.4 29.0 324.6 31.3 328.8 31.3" fill="none" stroke="#ff1010" stroke-width="0.8" stroke-dasharray="2.9 2.3" stroke-dashoffset="0.4"/>
<path d="M208.8 37.1C212.4 37.1 216.0 36.3 219.7 36.6C223.3 37.0 226.9 39.1 230.5 39.1C232.8 39.1 235.2 37.4 237.5 37.2C239.8 36.9 242.2 37.7 244.5 37.7C248.5 37.7 252.6 34.9 256.6 34.9C260.7 35.0 264.8 38.1 268.8 38.1C272.4 38.1 275.9 39.3 279.5 39.2C283.1 39.0 286.6 37.1 290.2 37.1C292.4 37.1 294.7 37.7 296.9 38.0C299.1 38.2 301.4 38.7 303.6 38.7C307.8 38.7 312.0 40.6 316.2 40.3C320.4 40.1 324.6 37.1 328.8 37.1" fill="none" stroke="#7d03fe" stroke-width="0.8" />
<path d="M208.8 37.1C212.4 37.1 216.0 36.3 219.7 36.6C223.3 37.0 226.9 39.1 230.5 39.1C232.8 39.1 235.2 37.4 237.5 37.2C239.8 36.9 242.2 37.7 244.5 37.7C248.5 37.7 252.6 34.9 256.6 34.9C260.7 35.0 264.8 38.1 268.8 38.1C272.4 38.1 275.9 39.3 279.5 39.2C283.1 39.0 286.6 37.1 290.2 37.1C292.4 37.1 294.7 37.7 296.9 38.0C299.1 38.2 301.4 38.7 303.6 38.7C307.8 38.7 312.0 40.6 316.2 40.3C320.4 40.1 324.6 37.1 328.8 37.1" fill="none" stroke="#ff1010" stroke-width="0.8" stroke-dasharray="2.0 4.8" stroke-dashoffset="1.2"/>
<path d="M208.8 28.6C212.4 28.6 216.0 29.0 219.7 28.7C223.3 28.3 226.9 26.4 230.5 26.4C232.8 26.4 235.2 27.0 237.5 27.5C239.8 28.0 242.2 29.2 244.5 29.2C248.5 29.2 252.6 29.4 256.6 29.3C260.7 29.2 264.8 28.6 268.8 28.6C272.4 28.6 275.9 31.9 279.5 32.3C283.1 32.7 286.6 31.0 290.2 31.0C292.4 31.0 294.7 27.6 296.9 27.0C299.1 26.3 301.4 27.2 303.6 27.2C307.8 27.2 312.0 26.3 316.2 26.5C320.4 26.8 324.6 28.6 328.8 28.6" fill="none" stroke="#780afe" stroke-width="0.8" />
<path d="M208.8 39.1C212.4 39.1 216.0 40.8 219.7 40.5C223.3 40.2 226.9 37.2 230.5 37.2C232.8 37.2 235.2 36.8 237.5 37.2C239.8 37.7 242.2 40.1 244.5 40.1C248.5 40.1 252.6 40.4 256.6 40.1C260.7 39.9 264.8 38.6 268.8 38.6C272.4 38.6 275.9 38.6 279.5 38.2C283.1 37.8 286.6 36.2 290.2 36.2C292.4 36.2 294.7 38.4 296.9 38.2C299.1 37.9 301.4 34.7 303.6 34.7C307.8 34.7 312.0 33.9 316.2 34.6C320.4 35.4 324.6 39.1 328.8 39.1" fill="none" stroke="#7b06fe" stroke-width="0.8" />
<path d="M208.8 39.1C212.4 39.1 216.0 40.8 219.7 40.5C223.3 40.2 226.9 37.2 230.5 37.2C232.8 37.2 235.2 36.8 237.5 37.2C239.8 37.7 242.2 40.1 244.5 40.1C248.5 40.1 252.6 40.4 256.6 40.1C260.7 39.9 264.8 38.6 268.8 38.6C272.4 38.6 275.9 38.6 279.5 38.2C283.1 37.8 286.6 36.2 290.2 36.2C292.4 36.2 294.7 38.4 296.9 38.2C299.1 37.9 301.4 34.7 303.6 34.7C307.8 34.7 312.0 33.9 316.2 34.6C320.4 35.4 324.6 39.1 328.8 39.1" fill="none" stroke="#ff1010" stroke-width="0.8" stroke-dasharray="2.8 4.5" stroke-dashoffset="3.5"/>
<path d="M208.8 33.2C212.4 33.2 216.0 29.0 219.7 28.2C223.3 27.4 226.9 28.5 230.5 28.5C232.8 28.5 235.2 30.4 237.5 30.8C239.8 31.1 242.2 30.5 244.5 30.5C248.5 30.5 252.6 30.3 256.6 30.5C260.7 30.7 264.8 31.5 268.8 31.5C272.4 31.5 275.9 32.4 279.5 31.7C283.1 31.0 286.6 27.5 290.2 27.5C292.4 27.5 294.7 25.2 296.9 25.4C299.1 25.6 301.4 28.7 303.6 28.7C307.8 28.7 312.0 29.0 316.2 29.7C320.4 30.5 324.6 33.2 328.8 33.2" fill="none" stroke="#ff0201" stroke-width="0.8" />
<path d="M208.8 45.5C212.4 45.5 216.0 44.5 219.7 44.0C223.3 43.5 226.9 42.3 230.5 42.3C232.8 42.3 235.2 45.7 237.5 46.2C239.8 46.6 242.2 44.8 244.5 44.8C248.5 44.8 252.6 47.2 256.6 47.1C260.7 46.9 264.8 44.0 268.8 44.0C272.4 44.0 275.9 43.0 279.5 42.6C283.1 42.2 286.6 41.7 290.2 41.7C292.4 41.7 294.7 40.7 296.9 41.5C299.1 42.2 301.4 46.0 303.6 46.0C307.8 46.0 312.0 47.5 316.2 47.4C320.4 47.3 324.6 45.5 328.8 45.5" fill="none" stroke="#ff1209" stroke-width="0.8" />
<path d="M208.8 45.5C212.4 45.5 216.0 44.5 219.7 44.0C223.3 43.5 226.9 42.3 230.5 42.3C232.8 42.3 235.2 45.7 237.5 46.2C239.8 46.6 242.2 44.8 244.5 44.8C248.5 44.8 252.6 47.2 256.6 47.1C260.7 46.9 264.8 44.0 268.8 44.0C272.4 44.0 275.9 43.0 279.5 42.6C283.1 42.2 286.6 41.7 290.2 41.7C292.4 41.7 294.7 40.7 296.9 41.5C299.1 42.2 301.4 46.0 303.6 46.0C307.8 46.0 312.0 47.5 316.2 47.4C320.4 47.3 324.6 45.5 328.8 45.5" fill="none" stroke="#8a30ff" stroke-width="0.8" stroke-dasharray="3.5 3.6" stroke-dashoffset="2.6"/>
<path d="M208.8 32.9C212.4 32.9 216.0 36.5 219.7 37.1C223.3 37.7 226.9 36.3 230.5 36.3C232.8 36.3 235.2 33.8 237.5 33.1C239.8 32.3 242.2 31.9 244.5 31.9C248.5 31.9 252.6 34.3 256.6 34.5C260.7 34.8 264.8 33.4 268.8 33.4C272.4 33.4 275.9 33.3 279.5 33.2C283.1 33.1 286.6 32.6 290.2 32.6C292.4 32.6 294.7 31.5 296.9 32.1C299.1 32.6 301.4 35.8 303.6 35.8C307.8 35.8 312.0 32.2 316.2 31.7C320.4 31.2 324.6 32.9 328.8 32.9" fill="none" stroke="#5a3afd" stroke-width="0.8" />
<path d="M208.8 32.9C212.4 32.9 216.0 36.5 219.7 37.1C223.3 37.7 226.9 36.3 230.5 36.3C232.8 36.3 235.2 33.8 237.5 33.1C239.8 32.3 242.2 31.9 244.5 31.9C248.5 31.9 252.6 34.3 256.6 34.5C260.7 34.8 264.8 33.4 268.8 33.4C272.4 33.4 275.9 33.3 279.5 33.2C283.1 33.1 286.6 32.6 290.2 32.6C292.4 32.6 294.7 31.5 296.9 32.1C299.1 32.6 301.4 35.8 303.6 35.8C307.8 35.8 312.0 32.2 316.2 31.7C320.4 31.2 324.6 32.9 328.8 32.9" fill="none" stroke="#8a30ff" stroke-width="0.8" stroke-dasharray="3.3 3.7" stroke-dashoffset="3.0"/>
<path d="M208.8 34.7C212.4 34.7 216.0 34.7 219.7 34.1C223.3 33.4 226.9 30.8 230.5 30.8C232.8 30.8 235.2 28.9 237.5 29.2C239.8 29.5 242.2 32.5 244.5 32.5C248.5 32.5 252.6 36.4 256.6 36.9C260.7 37.4 264.8 35.4 268.8 35.4C272.4 35.4 275.9 32.6 279.5 32.3C283.1 32.0 286.6 33.5 290.2 33.5C292.4 33.5 294.7 30.3 296.9 29.7C299.1 29.0 301.4 29.8 303.6 29.8C307.8 29.8 312.0 28.9 316.2 29.8C320.4 30.6 324.6 34.7 328.8 34.7" fill="none" stroke="#770cfe" stroke-width="0.8" />
<path d="M208.8 32.4C212.4 32.4 216.0 32.4 219.7 31.6C223.3 30.8 226.9 27.6 230.5 27.6C232.8 27.6 235.2 27.9 237.5 28.6C239.8 29.2 242.2 31.4 244.5 31.4C248.5 31.4 252.6 31.8 256.6 31.7C260.7 31.6 264.8 30.9 268.8 30.9C272.4 30.9 275.9 31.3 279.5 31.1C283.1 30.9 286.6 29.6 290.2 29.6C292.4 29.6 294.7 28.8 296.9 28.4C299.1 28.0 301.4 27.2 303.6 27.2C307.8 27.2 312.0 31.2 316.2 32.0C320.4 32.9 324.6 32.4 328.8 32.4" fill="none" stroke="#7b05fe" stroke-width="0.8" />
<path d="M208.8 32.4C212.4 32.4 216.0 32.4 219.7 31.6C223.3 30.8 226.9 27.6 230.5 27.6C232.8 27.6 235.2 27.9 237.5 28.6C239.8 29.2 242.2 31.4 244.5 31.4C248.5 31.4 252.6 31.8 256.6 31.7C260.7 31.6 264.8 30.9 268.8 30.9C272.4 30.9 275.9 31.3 279.5 31.1C283.1 30.9 286.6 29.6 290.2 29.6C292.4 29.6 294.7 28.8 296.9 28.4C299.1 28.0 301.4 27.2 303.6 27.2C307.8 27.2 312.0 31.2 316.2 32.0C320.4 32.9 324.6 32.4 328.8 32.4" fill="none" stroke="#ff1010" stroke-width="0.8" stroke-dasharray="3.3 2.4" stroke-dashoffset="2.5"/>
<path d="M208.8 38.9C212.4 38.9 216.0 38.7 219.7 37.6C223.3 36.5 226.9 32.1 230.5 32.1C232.8 32.1 235.2 34.4 237.5 35.2C239.8 35.9 242.2 36.3 244.5 36.3C248.5 36.3 252.6 36.4 256.6 36.7C260.7 37.0 264.8 38.1 268.8 38.1C272.4 38.1 275.9 39.7 279.5 39.5C283.1 39.3 286.6 36.9 290.2 36.9C292.4 36.9 294.7 36.0 296.9 35.0C299.1 34.1 301.4 31.1 303.6 31.1C307.8 31.1 312.0 32.7 316.2 34.0C320.4 35.3 324.6 38.9 328.8 38.9" fill="none" stroke="#790afe" stroke-width="0.8" />
<path d="M208.8 41.5C212.4 41.5 216.0 40.0 219.7 39.1C223.3 38.3 226.9 36.4 230.5 36.4C232.8 36.4 235.2 37.1 237.5 37.6C239.8 38.0 242.2 39.0 244.5 39.0C248.5 39.0 252.6 37.0 256.6 37.1C260.7 37.1 264.8 39.6 268.8 39.6C272.4 39.6 275.9 38.4 279.5 38.7C283.1 39.0 286.6 41.4 290.2 41.4C292.4 41.4 294.7 44.2 296.9 44.2C299.1 44.2 301.4 41.3 303.6 41.3C307.8 41.3 312.0 43.4 316.2 43.5C320.4 43.5 324.6 41.5 328.8 41.5" fill="none" stroke="#ff0603" stroke-width="0.8" />
<path d="M208.8 35.6C212.4 35.6 216.0 34.2 219.7 33.6C223.3 33.0 226.9 32.3 230.5 32.3C232.8 32.3 235.2 31.3 237.5 31.3C239.8 31.4 242.2 32.7 244.5 32.7C248.5 32.7 252.6 35.1 256.6 35.6C260.7 36.1 264.8 35.7 268.8 35.7C272.4 35.7 275.9 34.9 279.5 34.9C283.1 35.0 286.6 35.7 290.2 35.7C292.4 35.7 294.7 36.1 296.9 36.0C299.1 35.9 301.4 35.1 303.6 35.1C307.8 35.1 312.0 36.9 316.2 36.9C320.4 37.0 324.6 35.6 328.8 35.6" fill="none" stroke="#760dfe" stroke-width="0.8" />
<path d="M208.8 35.6C212.4 35.6 216.0 34.2 219.7 33.6C223.3 33.0 226.9 32.3 230.5 32.3C232.8 32.3 235.2 31.3 237.5 31.3C239.8 31.4 242.2 32.7 244.5 32.7C248.5 32.7 252.6 35.1 256.6 35.6C260.7 36.1 264.8 35.7 268.8 35.7C272.4 35.7 275.9 34.9 279.5 34.9C283.1 35.0 286.6 35.7 290.2 35.7C292.4 35.7 294.7 36.1 296.9 36.0C299.1 35.9 301.4 35.1 303.6 35.1C307.8 35.1 312.0 36.9 316.2 36.9C320.4 37.0 324.6 35.6 328.8 35.6" fill="none" stroke="#ff1010" stroke-width="0.8" stroke-dasharray="2.0 4.5" stroke-dashoffset="0.9"/>
<path d="M208.8 25.6C212.4 25.6 216.0 24.7 219.7 25.7C223.3 26.7 226.9 31.6 230.5 31.6C232.8 31.6 235.2 31.6 237.5 30.7C239.8 29.8 242.2 26.3 244.5 26.3C248.5 26.3 252.6 27.7 256.6 27.6C260.7 27.5 264.8 25.7 268.8 25.7C272.4 25.7 275.9 27.5 279.5 28.1C283.1 28.6 286.6 29.0 290.2 29.0C292.4 29.0 294.7 31.9 296.9 32.4C299.1 32.9 301.4 31.9 303.6 31.9C307.8 31.9 312.0 30.5 316.2 29.4C320.4 28.4 324.6 25.6 328.8 25.6" fill="none" stroke="#7411fe" stroke-width="0.8" />
<path d="M208.8 32.2C212.4 32.2 216.0 30.8 219.7 30.9C223.3 31.1 226.9 33.0 230.5 33.0C232.8 33.0 235.2 28.0 237.5 26.9C239.8 25.9 242.2 26.7 244.5 26.7C248.5 26.7 252.6 27.6 256.6 28.2C260.7 28.9 264.8 30.6 268.8 30.6C272.4 30.6 275.9 28.4 279.5 28.0C283.1 27.5 286.6 27.8 290.2 27.8C292.4 27.8 294.7 28.6 296.9 28.3C299.1 27.9 301.4 25.9 303.6 25.9C307.8 25.9 312.0 27.3 316.2 28.4C320.4 29.4 324.6 32.2 328.8 32.2" fill="none" stroke="#ff0100" stroke-width="0.8" />
<path d="M208.8 38.4C212.4 38.4 216.0 41.1 219.7 41.4C223.3 41.6 226.9 39.9 230.5 39.9C232.8 39.9 235.2 41.2 237.5 41.2C239.8 41.3 242.2 40.3 244.5 40.3C248.5 40.3 252.6 41.5 256.6 41.3C260.7 41.2 264.8 39.2 268.8 39.2C272.4 39.2 275.9 40.7 279.5 40.3C283.1 39.9 286.6 36.9 290.2 36.9C292.4 36.9 294.7 40.6 296.9 41.1C299.1 41.7 301.4 40.4 303.6 40.4C307.8 40.4 312.0 41.5 316.2 41.2C320.4 40.8 324.6 38.4 328.8 38.4" fill="none" stroke="#770dfe" stroke-width="0.8" />
<path d="M208.8 46.9C212.4 46.9 216.0 46.3 219.7 46.0C223.3 45.6 226.9 44.7 230.5 44.7C232.8 44.7 235.2 46.1 237.5 45.7C239.8 45.4 242.2 42.7 244.5 42.7C248.5 42.7 252.6 42.9 256.6 43.4C260.7 43.8 264.8 45.6 268.8 45.6C272.4 45.6 275.9 42.4 279.5 42.0C283.1 41.6 286.6 43.2 290.2 43.2C292.4 43.2 294.7 44.9 296.9 45.5C299.1 46.1 301.4 46.6 303.6 46.6C307.8 46.6 312.0 45.9 316.2 45.9C320.4 46.0 324.6 46.9 328.8 46.9" fill="none" stroke="#ff1c0e" stroke-width="0.8" />
<path d="M208.8 46.9C212.4 46.9 216.0 46.3 219.7 46.0C223.3 45.6 226.9 44.7 230.5 44.7C232.8 44.7 235.2 46.1 237.5 45.7C239.8 45.4 242.2 42.7 244.5 42.7C248.5 42.7 252.6 42.9 256.6 43.4C260.7 43.8 264.8 45.6 268.8 45.6C272.4 45.6 275.9 42.4 279.5 42.0C283.1 41.6 286.6 43.2 290.2 43.2C292.4 43.2 294.7 44.9 296.9 45.5C299.1 46.1 301.4 46.6 303.6 46.6C307.8 46.6 312.0 45.9 316.2 45.9C320.4 46.0 324.6 46.9 328.8 46.9" fill="none" stroke="#8a30ff" stroke-width="0.8" stroke-dasharray="1.8 3.3" stroke-dashoffset="0.6"/>
<path d="M208.8 29.4C212.4 29.4 216.0 27.9 219.7 28.4C223.3 29.0 226.9 32.7 230.5 32.7C232.8 32.7 235.2 33.0 237.5 32.8C239.8 32.6 242.2 31.7 244.5 31.7C248.5 31.7 252.6 31.8 256.6 31.1C260.7 30.4 264.8 27.5 268.8 27.5C272.4 27.5 275.9 29.0 279.5 29.8C283.1 30.6 286.6 32.4 290.2 32.4C292.4 32.4 294.7 32.0 296.9 30.9C299.1 29.7 301.4 25.7 303.6 25.7C307.8 25.7 312.0 26.6 316.2 27.3C320.4 27.9 324.6 29.4 328.8 29.4" fill="none" stroke="#770cfe" stroke-width="0.8" />
<path d="M208.8 29.4C212.4 29.4 216.0 27.9 219.7 28.4C223.3 29.0 226.9 32.7 230.5 32.7C232.8 32.7 235.2 33.0 237.5 32.8C239.8 32.6 242.2 31.7 244.5 31.7C248.5 31.7 252.6 31.8 256.6 31.1C260.7 30.4 264.8 27.5 268.8 27.5C272.4 27.5 275.9 29.0 279.5 29.8C283.1 30.6 286.6 32.4 290.2 32.4C292.4 32.4 294.7 32.0 296.9 30.9C299.1 29.7 301.4 25.7 303.6 25.7C307.8 25.7 312.0 26.6 316.2 27.3C320.4 27.9 324.6 29.4 328.8 29.4" fill="none" stroke="#ff1010" stroke-width="0.8" stroke-dasharray="1.8 3.3" stroke-dashoffset="2.6"/>
<path d="M208.8 41.6C212.4 41.6 216.0 39.3 219.7 39.4C223.3 39.5 226.9 42.1 230.5 42.1C232.8 42.1 235.2 44.9 237.5 45.6C239.8 46.3 242.2 46.3 244.5 46.3C248.5 46.3 252.6 44.3 256.6 43.6C260.7 42.8 264.8 42.0 268.8 42.0C272.4 42.0 275.9 41.6 279.5 41.9C283.1 42.3 286.6 44.0 290.2 44.0C292.4 44.0 294.7 45.3 296.9 44.9C299.1 44.5 301.4 41.5 303.6 41.5C307.8 41.5 312.0 43.2 316.2 43.2C320.4 43.2 324.6 41.6 328.8 41.6" fill="none" stroke="#760dfe" stroke-width="0.8" />
<path d="M208.8 41.6C212.4 41.6 216.0 39.3 219.7 39.4C223.3 39.5 226.9 42.1 230.5 42.1C232.8 42.1 235.2 44.9 237.5 45.6C239.8 46.3 242.2 46.3 244.5 46.3C248.5 46.3 252.6 44.3 256.6 43.6C260.7 42.8 264.8 42.0 268.8 42.0C272.4 42.0 275.9 41.6 279.5 41.9C283.1 42.3 286.6 44.0 290.2 44.0C292.4 44.0 294.7 45.3 296.9 44.9C299.1 44.5 301.4 41.5 303.6 41.5C307.8 41.5 312.0 43.2 316.2 43.2C320.4 43.2 324.6 41.6 328.8 41.6" fill="none" stroke="#ff1010" stroke-width="0.8" stroke-dasharray="2.5 2.2" stroke-dashoffset="3.8"/>
<path d="M208.8 47.0C212.4 47.0 216.0 42.9 219.7 42.1C223.3 41.3 226.9 42.3 230.5 42.3C232.8 42.3 235.2 44.6 237.5 45.2C239.8 45.8 242.2 46.1 244.5 46.1C248.5 46.1 252.6 44.8 256.6 44.9C260.7 45.0 264.8 46.8 268.8 46.8C272.4 46.8 275.9 45.1 279.5 44.9C283.1 44.7 286.6 45.5 290.2 45.5C292.4 45.5 294.7 42.3 296.9 41.9C299.1 41.5 301.4 43.2 303.6 43.2C307.8 43.2 312.0 43.3 316.2 43.9C320.4 44.6 324.6 47.0 328.8 47.0" fill="none" stroke="#5e33fd" stroke-width="0.8" />
<path d="M208.8 47.0C212.4 47.0 216.0 42.9 219.7 42.1C223.3 41.3 226.9 42.3 230.5 42.3C232.8 42.3 235.2 44.6 237.5 45.2C239.8 45.8 242.2 46.1 244.5 46.1C248.5 46.1 252.6 44.8 256.6 44.9C260.7 45.0 264.8 46.8 268.8 46.8C272.4 46.8 275.9 45.1 279.5 44.9C283.1 44.7 286.6 45.5 290.2 45.5C292.4 45.5 294.7 42.3 296.9 41.9C299.1 41.5 301.4 43.2 303.6 43.2C307.8 43.2 312.0 43.3 316.2 43.9C320.4 44.6 324.6 47.0 328.8 47.0" fill="none" stroke="#8a30ff" stroke-width="0.8" stroke-dasharray="2.2 4.8" stroke-dashoffset="0.5"/>
<path d="M208.8 31.4C212.4 31.4 216.0 34.9 219.7 35.5C223.3 36.1 226.9 35.2 230.5 35.2C232.8 35.2 235.2 31.9 237.5 31.6C239.8 31.3 242.2 33.4 244.5 33.4C248.5 33.4 252.6 31.0 256.6 30.7C260.7 30.3 264.8 31.2 268.8 31.2C272.4 31.2 275.9 31.7 279.5 32.6C283.1 33.5 286.6 36.6 290.2 36.6C292.4 36.6 294.7 33.8 296.9 33.1C299.1 32.4 301.4 32.3 303.6 32.3C307.8 32.3 312.0 34.0 316.2 33.8C320.4 33.6 324.6 31.4 328.8 31.4" fill="none" stroke="#7b06fe" stroke-width="0.8" />
<path d="M208.8 31.4C212.4 31.4 216.0 34.9 219.7 35.5C223.3 36.1 226.9 35.2 230.5 35.2C232.8 35.2 235.2 31.9 237.5 31.6C239.8 31.3 242.2 33.4 244.5 33.4C248.5 33.4 252.6 31.0 256.6 30.7C260.7 30.3 264.8 31.2 268.8 31.2C272.4 31.2 275.9 31.7 279.5 32.6C283.1 33.5 286.6 36.6 290.2 36.6C292.4 36.6 294.7 33.8 296.9 33.1C299.1 32.4 301.4 32.3 303.6 32.3C307.8 32.3 312.0 34.0 316.2 33.8C320.4 33.6 324.6 31.4 328.8 31.4" fill="none" stroke="#ff1010" stroke-width="0.8" stroke-dasharray="3.2 3.7" stroke-dashoffset="2.7"/>
<path d="M208.8 40.9C212.4 40.9 216.0 41.0 219.7 40.7C223.3 40.4 226.9 39.2 230.5 39.2C232.8 39.2 235.2 39.8 237.5 39.9C239.8 39.9 242.2 39.4 244.5 39.4C248.5 39.4 252.6 37.8 256.6 37.9C260.7 38.1 264.8 40.4 268.8 40.4C272.4 40.4 275.9 39.8 279.5 39.6C283.1 39.5 286.6 39.5 290.2 39.5C292.4 39.5 294.7 42.1 296.9 42.7C299.1 43.3 301.4 43.0 303.6 43.0C307.8 43.0 312.0 39.6 316.2 39.2C320.4 38.9 324.6 40.9 328.8 40.9" fill="none" stroke="#ff0904" stroke-width="0.8" />
<path d="M208.8 26.2C212.4 26.2 216.0 28.8 219.7 29.6C223.3 30.3 226.9 30.6 230.5 30.6C232.8 30.6 235.2 29.7 237.5 29.3C239.8 28.8 242.2 27.8 244.5 27.8C248.5 27.8 252.6 29.2 256.6 28.8C260.7 28.4 264.8 25.6 268.8 25.6C272.4 25.6 275.9 27.7 279.5 27.7C283.1 27.8 286.6 25.8 290.2 25.8C292.4 25.8 294.7 27.7 296.9 28.3C299.1 28.8 301.4 29.2 303.6 29.2C307.8 29.2 312.0 30.3 316.2 29.8C320.4 29.3 324.6 26.2 328.8 26.2" fill="none" stroke="#ff150a" stroke-width="0.8" />
<path d="M208.8 26.2C212.4 26.2 216.0 28.8 219.7 29.6C223.3 30.3 226.9 30.6 230.5 30.6C232.8 30.6 235.2 29.7 237.5 29.3C239.8 28.8 242.2 27.8 244.5 27.8C248.5 27.8 252.6 29.2 256.6 28.8C260.7 28.4 264.8 25.6 268.8 25.6C272.4 25.6 275.9 27.7 279.5 27.7C283.1 27.8 286.6 25.8 290.2 25.8C292.4 25.8 294.7 27.7 296.9 28.3C299.1 28.8 301.4 29.2 303.6 29.2C307.8 29.2 312.0 30.3 316.2 29.8C320.4 29.3 324.6 26.2 328.8 26.2" fill="none" stroke="#8a30ff" stroke-width="0.8" stroke-dasharray="2.7 2.3" stroke-dashoffset="5.3"/>
<path d="M208.8 36.5C212.4 36.5 216.0 38.3 219.7 38.5C223.3 38.7 226.9 37.8 230.5 37.8C232.8 37.8 235.2 37.5 237.5 37.5C239.8 37.5 242.2 37.7 244.5 37.7C248.5 37.7 252.6 36.3 256.6 36.3C260.7 36.2 264.8 37.5 268.8 37.5C272.4 37.5 275.9 35.4 279.5 35.3C283.1 35.3 286.6 37.1 290.2 37.1C292.4 37.1 294.7 36.9 296.9 37.1C299.1 37.3 301.4 38.2 303.6 38.2C307.8 38.2 312.0 40.2 316.2 39.9C320.4 39.7 324.6 36.5 328.8 36.5" fill="none" stroke="#7c05fe" stroke-width="0.8" />
<path d="M208.8 36.4C212.4 36.4 216.0 36.5 219.7 36.2C223.3 36.0 226.9 35.1 230.5 35.1C232.8 35.1 235.2 34.7 237.5 34.5C239.8 34.2 242.2 33.8 244.5 33.8C248.5 33.8 252.6 37.1 256.6 37.5C260.7 37.9 264.8 36.4 268.8 36.4C272.4 36.4 275.9 38.6 279.5 38.9C283.1 39.2 286.6 38.0 290.2 38.0C292.4 38.0 294.7 36.4 296.9 36.2C299.1 36.0 301.4 36.8 303.6 36.8C307.8 36.8 312.0 35.7 316.2 35.6C320.4 35.5 324.6 36.4 328.8 36.4" fill="none" stroke="#7d03fe" stroke-width="0.8" />
<path d="M208.8 29.3C212.4 29.3 216.0 28.5 219.7 28.2C223.3 27.9 226.9 27.5 230.5 27.5C232.8 27.5 235.2 25.4 237.5 25.7C239.8 26.1 242.2 29.5 244.5 29.5C248.5 29.5 252.6 26.8 256.6 26.6C260.7 26.4 264.8 28.2 268.8 28.2C272.4 28.2 275.9 26.0 279.5 25.8C283.1 25.6 286.6 27.1 290.2 27.1C292.4 27.1 294.7 32.1 296.9 33.1C299.1 34.1 301.4 33.3 303.6 33.3C307.8 33.3 312.0 30.8 316.2 30.2C320.4 29.5 324.6 29.3 328.8 29.3" fill="none" stroke="#ff2512" stroke-width="0.8" />
<path d="M208.8 29.3C212.4 29.3 216.0 28.5 219.7 28.2C223.3 27.9 226.9 27.5 230.5 27.5C232.8 27.5 235.2 25.4 237.5 25.7C239.8 26.1 242.2 29.5 244.5 29.5C248.5 29.5 252.6 26.8 256.6 26.6C260.7 26.4 264.8 28.2 268.8 28.2C272.4 28.2 275.9 26.0 279.5 25.8C283.1 25.6 286.6 27.1 290.2 27.1C292.4 27.1 294.7 32.1 296.9 33.1C299.1 34.1 301.4 33.3 303.6 33.3C307.8 33.3 312.0 30.8 316.2 30.2C320.4 29.5 324.6 29.3 328.8 29.3" fill="none" stroke="#8a30ff" stroke-width="0.8" stroke-dasharray="3.5 4.2" stroke-dashoffset="5.5"/>
<path d="M208.8 46.3C212.4 46.3 216.0 42.0 219.7 41.3C223.3 40.6 226.9 42.1 230.5 42.1C232.8 42.1 235.2 40.7 237.5 40.6C239.8 40.5 242.2 41.4 244.5 41.4C248.5 41.4 252.6 45.1 256.6 45.9C260.7 46.7 264.8 46.3 268.8 46.3C272.4 46.3 275.9 46.5 279.5 45.5C283.1 44.6 286.6 40.6 290.2 40.6C292.4 40.6 294.7 42.2 296.9 42.4C299.1 42.5 301.4 41.4 303.6 41.4C307.8 41.4 312.0 44.5 316.2 45.3C320.4 46.1 324.6 46.3 328.8 46.3" fill="none" stroke="#780bfe" stroke-width="0.8" />
<path d="M208.8 46.3C212.4 46.3 216.0 42.0 219.7 41.3C223.3 40.6 226.9 42.1 230.5 42.1C232.8 42.1 235.2 40.7 237.5 40.6C239.8 40.5 242.2 41.4 244.5 41.4C248.5 41.4 252.6 45.1 256.6 45.9C260.7 46.7 264.8 46.3 268.8 46.3C272.4 46.3 275.9 46.5 279.5 45.5C283.1 44.6 286.6 40.6 290.2 40.6C292.4 40.6 294.7 42.2 296.9 42.4C299.1 42.5 301.4 41.4 303.6 41.4C307.8 41.4 312.0 44.5 316.2 45.3C320.4 46.1 324.6 46.3 328.8 46.3" fill="none" stroke="#ff1010" stroke-width="0.8" stroke-dasharray="2.6 2.8" stroke-dashoffset="0.2"/>
<path d="M208.8 32.0C212.4 32.0 216.0 32.5 219.7 32.1C223.3 31.6 226.9 29.3 230.5 29.3C232.8 29.3 235.2 29.7 237.5 29.7C239.8 29.6 242.2 28.9 244.5 28.9C248.5 28.9 252.6 29.3 256.6 30.1C260.7 30.8 264.8 33.3 268.8 33.3C272.4 33.3 275.9 32.0 279.5 31.6C283.1 31.3 286.6 31.2 290.2 31.2C292.4 31.2 294.7 31.7 296.9 32.5C299.1 33.3 301.4 36.0 303.6 36.0C307.8 36.0 312.0 35.4 316.2 34.8C320.4 34.1 324.6 32.0 328.8 32.0" fill="none" stroke="#750ffe" stroke-width="0.8" />
<path d="M208.8 32.0C212.4 32.0 216.0 32.5 219.7 32.1C223.3 31.6 226.9 29.3 230.5 29.3C232.8 29.3 235.2 29.7 237.5 29.7C239.8 29.6 242.2 28.9 244.5 28.9C248.5 28.9 252.6 29.3 256.6 30.1C260.7 30.8 264.8 33.3 268.8 33.3C272.4 33.3 275.9 32.0 279.5 31.6C283.1 31.3 286.6 31.2 290.2 31.2C292.4 31.2 294.7 31.7 296.9 32.5C299.1 33.3 301.4 36.0 303.6 36.0C307.8 36.0 312.0 35.4 316.2 34.8C320.4 34.1 324.6 32.0 328.8 32.0" fill="none" stroke="#ff1010" stroke-width="0.8" stroke-dasharray="1.8 2.0" stroke-dashoffset="3.5"/>
<path d="M208.8 27.8C212.4 27.8 216.0 26.9 219.7 27.3C223.3 27.6 226.9 30.2 230.5 30.2C232.8 30.2 235.2 32.5 237.5 32.4C239.8 32.3 242.2 29.6 244.5 29.6C248.5 29.6 252.6 27.0 256.6 26.9C260.7 26.7 264.8 28.7 268.8 28.7C272.4 28.7 275.9 30.7 279.5 31.5C283.1 32.2 286.6 33.1 290.2 33.1C292.4 33.1 294.7 34.1 296.9 34.0C299.1 33.9 301.4 32.5 303.6 32.5C307.8 32.5 312.0 32.3 316.2 31.5C320.4 30.8 324.6 27.8 328.8 27.8" fill="none" stroke="#7411fe" stroke-width="0.8" />
<path d="M208.8 37.4C212.4 37.4 216.0 37.8 219.7 37.9C223.3 38.1 226.9 38.2 230.5 38.2C232.8 38.2 235.2 41.0 237.5 41.4C239.8 41.8 242.2 40.5 244.5 40.5C248.5 40.5 252.6 38.2 256.6 37.7C260.7 37.2 264.8 37.3 268.8 37.3C272.4 37.3 275.9 37.7 279.5 37.8C283.1 37.8 286.6 37.5 290.2 37.5C292.4 37.5 294.7 39.9 296.9 40.7C299.1 41.6 301.4 42.7 303.6 42.7C307.8 42.7 312.0 41.8 316.2 41.0C320.4 40.1 324.6 37.4 328.8 37.4" fill="none" stroke="#7b05fe" stroke-width="0.8" />
<path d="M208.8 37.4C212.4 37.4 216.0 37.8 219.7 37.9C223.3 38.1 226.9 38.2 230.5 38.2C232.8 38.2 235.2 41.0 237.5 41.4C239.8 41.8 242.2 40.5 244.5 40.5C248.5 40.5 252.6 38.2 256.6 37.7C260.7 37.2 264.8 37.3 268.8 37.3C272.4 37.3 275.9 37.7 279.5 37.8C283.1 37.8 286.6 37.5 290.2 37.5C292.4 37.5 294.7 39.9 296.9 40.7C299.1 41.6 301.4 42.7 303.6 42.7C307.8 42.7 312.0 41.8 316.2 41.0C320.4 40.1 324.6 37.4 328.8 37.4" fill="none" stroke="#ff1010" stroke-width="0.8" stroke-dasharray="2.7 3.9" stroke-dashoffset="0.8"/>
<path d="M208.8 36.1C212.4 36.1 216.0 33.8 219.7 33.3C223.3 32.8 226.9 33.2 230.5 33.2C232.8 33.2 235.2 30.9 237.5 30.8C239.8 30.7 242.2 32.5 244.5 32.5C248.5 32.5 252.6 32.5 256.6 32.8C260.7 33.1 264.8 34.3 268.8 34.3C272.4 34.3 275.9 35.9 279.5 35.5C283.1 35.1 286.6 31.8 290.2 31.8C292.4 31.8 294.7 30.6 296.9 31.2C299.1 31.8 301.4 35.6 303.6 35.6C307.8 35.6 312.0 34.9 316.2 35.0C320.4 35.1 324.6 36.1 328.8 36.1" fill="none" stroke="#770cfe" stroke-width="0.8" />
<path d="M208.8 36.1C212.4 36.1 216.0 33.8 219.7 33.3C223.3 32.8 226.9 33.2 230.5 33.2C232.8 33.2 235.2 30.9 237.5 30.8C239.8 30.7 242.2 32.5 244.5 32.5C248.5 32.5 252.6 32.5 256.6 32.8C260.7 33.1 264.8 34.3 268.8 34.3C272.4 34.3 275.9 35.9 279.5 35.5C283.1 35.1 286.6 31.8 290.2 31.8C292.4 31.8 294.7 30.6 296.9 31.2C299.1 31.8 301.4 35.6 303.6 35.6C307.8 35.6 312.0 34.9 316.2 35.0C320.4 35.1 324.6 36.1 328.8 36.1" fill="none" stroke="#ff1010" stroke-width="0.8" stroke-dasharray="2.0 2.8" stroke-dashoffset="5.4"/>
<path d="M208.8 33.6C212.4 33.6 216.0 35.9 219.7 36.1C223.3 36.4 226.9 35.4 230.5 35.4C232.8 35.4 235.2 38.2 237.5 38.2C239.8 38.2 242.2 35.5 244.5 35.5C248.5 35.5 252.6 35.6 256.6 35.3C260.7 35.0 264.8 33.8 268.8 33.8C272.4 33.8 275.9 32.1 279.5 32.6C283.1 33.1 286.6 36.9 290.2 36.9C292.4 36.9 294.7 37.1 296.9 37.2C299.1 37.2 301.4 37.3 303.6 37.3C307.8 37.3 312.0 37.1 316.2 36.5C320.4 35.8 324.6 33.6 328.8 33.6" fill="none" stroke="#760dfe" stroke-width="0.8" />
<path d="M208.8 33.6C212.4 33.6 216.0 35.9 219.7 36.1C223.3 36.4 226.9 35.4 230.5 35.4C232.8 35.4 235.2 38.2 237.5 38.2C239.8 38.2 242.2 35.5 244.5 35.5C248.5 35.5 252.6 35.6 256.6 35.3C260.7 35.0 264.8 33.8 268.8 33.8C272.4 33.8 275.9 32.1 279.5 32.6C283.1 33.1 286.6 36.9 290.2 36.9C292.4 36.9 294.7 37.1 296.9 37.2C299.1 37.2 301.4 37.3 303.6 37.3C307.8 37.3 312.0 37.1 316.2 36.5C320.4 35.8 324.6 33.6 328.8 33.6" fill="none" stroke="#ff1010" stroke-width="0.8" stroke-dasharray="2.7 3.8" stroke-dashoffset="4.0"/>
<path d="M208.8 47.8C212.4 47.8 216.0 46.2 219.7 46.2C223.3 46.2 226.9 47.9 230.5 47.9C232.8 47.9 235.2 47.8 237.5 47.8C239.8 47.8 242.2 47.8 244.5 47.8C248.5 47.8 252.6 48.3 256.6 48.5C260.7 48.7 264.8 48.9 268.8 48.9C272.4 48.9 275.9 49.6 279.5 49.3C283.1 49.0 286.6 47.1 290.2 47.1C292.4 47.1 294.7 48.7 296.9 48.7C299.1 48.7 301.4 47.1 303.6 47.1C307.8 47.1 312.0 47.2 316.2 47.3C320.4 47.4 324.6 47.8 328.8 47.8" fill="none" stroke="#5a39fd" stroke-width="0.8" />
<path d="M208.8 47.8C212.4 47.8 216.0 46.2 219.7 46.2C223.3 46.2 226.9 47.9 230.5 47.9C232.8 47.9 235.2 47.8 237.5 47.8C239.8 47.8 242.2 47.8 244.5 47.8C248.5 47.8 252.6 48.3 256.6 48.5C260.7 48.7 264.8 48.9 268.8 48.9C272.4 48.9 275.9 49.6 279.5 49.3C283.1 49.0 286.6 47.1 290.2 47.1C292.4 47.1 294.7 48.7 296.9 48.7C299.1 48.7 301.4 47.1 303.6 47.1C307.8 47.1 312.0 47.2 316.2 47.3C320.4 47.4 324.6 47.8 328.8 47.8" fill="none" stroke="#8a30ff" stroke-width="0.8" stroke-dasharray="3.5 3.0" stroke-dashoffset="4.3"/>
<path d="M208.8 43.6C212.4 43.6 216.0 46.1 219.7 47.1C223.3 48.0 226.9 49.1 230.5 49.1C232.8 49.1 235.2 50.0 237.5 49.8C239.8 49.7 242.2 48.1 244.5 48.1C248.5 48.1 252.6 49.4 256.6 48.6C260.7 47.8 264.8 43.6 268.8 43.6C272.4 43.6 275.9 47.3 279.5 48.2C283.1 49.2 286.6 49.2 290.2 49.2C292.4 49.2 294.7 51.4 296.9 51.5C299.1 51.6 301.4 49.8 303.6 49.8C307.8 49.8 312.0 45.1 316.2 44.1C320.4 43.1 324.6 43.6 328.8 43.6" fill="none" stroke="#7312fe" stroke-width="0.8" />
<path d="M208.8 40.9C212.4 40.9 216.0 42.0 219.7 42.6C223.3 43.2 226.9 44.4 230.5 44.4C232.8 44.4 235.2 43.7 237.5 43.4C239.8 43.1 242.2 42.5 244.5 42.5C248.5 42.5 252.6 43.5 256.6 43.6C260.7 43.6 264.8 42.8 268.8 42.8C272.4 42.8 275.9 43.3 279.5 43.4C283.1 43.5 286.6 43.3 290.2 43.3C292.4 43.3 294.7 41.2 296.9 41.5C299.1 41.8 301.4 45.1 303.6 45.1C307.8 45.1 312.0 46.5 316.2 45.8C320.4 45.1 324.6 40.9 328.8 40.9" fill="none" stroke="#790afe" stroke-width="0.8" />
<path d="M208.8 40.9C212.4 40.9 216.0 42.0 219.7 42.6C223.3 43.2 226.9 44.4 230.5 44.4C232.8 44.4 235.2 43.7 237.5 43.4C239.8 43.1 242.2 42.5 244.5 42.5C248.5 42.5 252.6 43.5 256.6 43.6C260.7 43.6 264.8 42.8 268.8 42.8C272.4 42.8 275.9 43.3 279.5 43.4C283.1 43.5 286.6 43.3 290.2 43.3C292.4 43.3 294.7 41.2 296.9 41.5C299.1 41.8 301.4 45.1 303.6 45.1C307.8 45.1 312.0 46.5 316.2 45.8C320.4 45.1 324.6 40.9 328.8 40.9" fill="none" stroke="#ff1010" stroke-width="0.8" stroke-dasharray="1.9 4.8" stroke-dashoffset="1.7"/>
<path d="M208.8 35.4C212.4 35.4 216.0 33.1 219.7 32.3C223.3 31.6 226.9 30.9 230.5 30.9C232.8 30.9 235.2 29.0 237.5 29.6C239.8 30.2 242.2 34.3 244.5 34.3C248.5 34.3 252.6 32.1 256.6 32.1C260.7 32.1 264.8 34.5 268.8 34.5C272.4 34.5 275.9 32.9 279.5 33.2C283.1 33.5 286.6 36.1 290.2 36.1C292.4 36.1 294.7 33.9 296.9 33.3C299.1 32.8 301.4 32.8 303.6 32.8C307.8 32.8 312.0 35.3 316.2 35.7C320.4 36.2 324.6 35.4 328.8 35.4" fill="none" stroke="#5c35fd" stroke-width="0.8" />
<path d="M208.8 35.4C212.4 35.4 216.0 33.1 219.7 32.3C223.3 31.6 226.9 30.9 230.5 30.9C232.8 30.9 235.2 29.0 237.5 29.6C239.8 30.2 242.2 34.3 244.5 34.3C248.5 34.3 252.6 32.1 256.6 32.1C260.7 32.1 264.8 34.5 268.8 34.5C272.4 34.5 275.9 32.9 279.5 33.2C283.1 33.5 286.6 36.1 290.2 36.1C292.4 36.1 294.7 33.9 296.9 33.3C299.1 32.8 301.4 32.8 303.6 32.8C307.8 32.8 312.0 35.3 316.2 35.7C320.4 36.2 324.6 35.4 328.8 35.4" fill="none" stroke="#8a30ff" stroke-width="0.8" stroke-dasharray="2.1 3.9" stroke-dashoffset="2.9"/>
<path d="M208.8 44.0C212.4 44.0 216.0 44.8 219.7 45.3C223.3 45.7 226.9 46.9 230.5 46.9C232.8 46.9 235.2 48.2 237.5 48.8C239.8 49.3 242.2 50.4 244.5 50.4C248.5 50.4 252.6 48.2 256.6 47.2C260.7 46.1 264.8 44.0 268.8 44.0C272.4 44.0 275.9 44.8 279.5 45.3C283.1 45.7 286.6 46.9 290.2 46.9C292.4 46.9 294.7 48.2 296.9 48.8C299.1 49.3 301.4 50.4 303.6 50.4C307.8 50.4 312.0 48.2 316.2 47.2C320.4 46.1 324.6 44.0 328.8 44.0" fill="none" stroke="#ff2020" stroke-width="0.9" />
<path d="M208.8 45.5C212.4 45.5 216.0 46.4 219.7 46.9C223.3 47.4 226.9 48.6 230.5 48.6C232.8 48.6 235.2 50.0 237.5 50.6C239.8 51.2 242.2 52.3 244.5 52.3C248.5 52.3 252.6 50.2 256.6 48.9C260.7 47.7 264.8 44.8 268.8 44.8C272.4 44.8 275.9 46.2 279.5 46.9C283.1 47.5 286.6 48.6 290.2 48.6C292.4 48.6 294.7 50.0 296.9 50.6C299.1 51.2 301.4 52.3 303.6 52.3C307.8 52.3 312.0 50.0 316.2 48.9C320.4 47.8 324.6 45.5 328.8 45.5" fill="none" stroke="#8a2cff" stroke-width="0.9" />
<path d="M208.8 47.0C212.4 47.0 216.0 48.0 219.7 48.7C223.3 49.3 226.9 50.8 230.5 50.8C232.8 50.8 235.2 52.5 237.5 53.3C239.8 54.0 242.2 55.4 244.5 55.4C248.5 55.4 252.6 52.7 256.6 51.2C260.7 49.7 264.8 46.2 268.8 46.2C272.4 46.2 275.9 47.9 279.5 48.7C283.1 49.4 286.6 50.8 290.2 50.8C292.4 50.8 294.7 52.5 296.9 53.3C299.1 54.0 301.4 55.4 303.6 55.4C307.8 55.4 312.0 52.6 316.2 51.2C320.4 49.8 324.6 47.0 328.8 47.0" fill="none" stroke="#ff2020" stroke-width="0.9" />
<path d="M208.8 48.5C212.4 48.5 216.0 49.4 219.7 50.0C223.3 50.5 226.9 51.8 230.5 51.8C232.8 51.8 235.2 53.3 237.5 54.0C239.8 54.7 242.2 55.8 244.5 55.8C248.5 55.8 252.6 53.3 256.6 52.2C260.7 51.0 264.8 49.0 268.8 49.0C272.4 49.0 275.9 49.5 279.5 50.0C283.1 50.4 286.6 51.8 290.2 51.8C292.4 51.8 294.7 53.3 296.9 54.0C299.1 54.7 301.4 55.8 303.6 55.8C307.8 55.8 312.0 53.4 316.2 52.2C320.4 50.9 324.6 48.5 328.8 48.5" fill="none" stroke="#8a2cff" stroke-width="0.9" />
<path d="M208.8 50.0C212.4 50.0 216.0 51.0 219.7 51.5C223.3 52.1 226.9 53.4 230.5 53.4C232.8 53.4 235.2 55.0 237.5 55.7C239.8 56.4 242.2 57.6 244.5 57.6C248.5 57.6 252.6 55.0 256.6 53.8C260.7 52.7 264.8 50.7 268.8 50.7C272.4 50.7 275.9 51.1 279.5 51.5C283.1 52.0 286.6 53.4 290.2 53.4C292.4 53.4 294.7 55.0 296.9 55.7C299.1 56.4 301.4 57.6 303.6 57.6C307.8 57.6 312.0 55.1 316.2 53.8C320.4 52.5 324.6 50.0 328.8 50.0" fill="none" stroke="#ff2020" stroke-width="0.9" />
<path d="M208.8 51.5C212.4 51.5 216.0 52.4 219.7 52.9C223.3 53.4 226.9 54.6 230.5 54.6C232.8 54.6 235.2 56.1 237.5 56.7C239.8 57.4 242.2 58.5 244.5 58.5C248.5 58.5 252.6 56.0 256.6 55.0C260.7 54.0 264.8 52.4 268.8 52.4C272.4 52.4 275.9 52.5 279.5 52.9C283.1 53.3 286.6 54.6 290.2 54.6C292.4 54.6 294.7 56.1 296.9 56.7C299.1 57.4 301.4 58.5 303.6 58.5C307.8 58.5 312.0 56.1 316.2 55.0C320.4 53.8 324.6 51.5 328.8 51.5" fill="none" stroke="#8a2cff" stroke-width="0.9" />
<path d="M208.8 53.0C212.4 53.0 216.0 53.8 219.7 54.2C223.3 54.7 226.9 55.8 230.5 55.8C232.8 55.8 235.2 57.0 237.5 57.6C239.8 58.2 242.2 59.1 244.5 59.1C248.5 59.1 252.6 57.0 256.6 56.1C260.7 55.2 264.8 53.8 268.8 53.8C272.4 53.8 275.9 53.9 279.5 54.2C283.1 54.6 286.6 55.8 290.2 55.8C292.4 55.8 294.7 57.0 296.9 57.6C299.1 58.2 301.4 59.1 303.6 59.1C307.8 59.1 312.0 57.1 316.2 56.1C320.4 55.0 324.6 53.0 328.8 53.0" fill="none" stroke="#ff2020" stroke-width="0.9" />
<path d="M208.8 55.0C212.4 55.0 216.0 55.9 219.7 56.5C223.3 57.0 226.9 58.3 230.5 58.3C232.8 58.3 235.2 59.8 237.5 60.5C239.8 61.1 242.2 62.3 244.5 62.3C248.5 62.3 252.6 60.0 256.6 58.6C260.7 57.3 264.8 54.0 268.8 54.0C272.4 54.0 275.9 55.7 279.5 56.5C283.1 57.2 286.6 58.3 290.2 58.3C292.4 58.3 294.7 59.8 296.9 60.5C299.1 61.1 301.4 62.3 303.6 62.3C307.8 62.3 312.0 59.8 316.2 58.6C320.4 57.4 324.6 55.0 328.8 55.0" fill="none" stroke="#ff3030" stroke-width="0.9" />
<path d="M208.8 67.2C216.0 67.2 223.3 68.2 230.5 68.2C235.2 68.2 239.8 69.6 244.5 69.6C252.6 69.6 260.7 67.6 268.8 67.6C275.9 67.6 283.1 68.4 290.2 68.4C294.7 68.4 299.1 69.6 303.6 69.6C312.0 69.6 320.4 67.4 328.8 67.4" fill="none" stroke="#8a2cff" stroke-width="1.1" />
<path d="M208.8 80.5C216.0 80.5 223.3 80.6 230.5 80.6C235.2 80.6 239.8 80.9 244.5 80.9C252.6 80.9 260.7 81.0 268.8 81.0C275.9 81.0 283.1 80.7 290.2 80.7C294.7 80.7 299.1 80.6 303.6 80.6C312.0 80.6 320.4 80.5 328.8 80.5" fill="none" stroke="#ff4040" stroke-width="1.1" />
<line x1="208.8" y1="78.6" x2="328.8" y2="78.6" stroke="#7fd6c6" stroke-width="0.9" />
<path d="M208.8 152.3C212.4 152.3 216.0 150.6 219.7 149.5C223.3 148.4 226.9 146.0 230.5 146.0C232.8 146.0 235.2 143.6 237.5 142.8C239.8 142.0 242.2 141.3 244.5 141.3C248.5 141.3 252.6 144.7 256.6 146.5C260.7 148.3 264.8 152.0 268.8 152.0C275.9 152.0 283.1 152.0 290.2 152.0C294.7 152.0 299.1 152.0 303.6 152.0C312.0 152.0 320.4 152.0 328.8 152.0" fill="none" stroke="#ff1a1a" stroke-width="1.1" />
<path d="M208.8 152.0C216.0 152.0 223.3 152.0 230.5 152.0C235.2 152.0 239.8 152.0 244.5 152.0C252.6 152.0 260.7 152.0 268.8 152.0C272.4 152.0 275.9 151.2 279.5 150.5C283.1 149.8 286.6 148.0 290.2 148.0C292.4 148.0 294.7 144.8 296.9 143.5C299.1 142.2 301.4 140.3 303.6 140.3C307.8 140.3 312.0 144.1 316.2 146.0C320.4 147.9 324.6 152.0 328.8 152.0" fill="none" stroke="#8a2cff" stroke-width="1.1" />
<path d="M208.8 155.0C216.0 155.0 223.3 155.0 230.5 155.0C235.2 155.0 239.8 156.0 244.5 156.0C248.5 156.0 252.6 154.7 256.6 154.0C260.7 153.3 264.8 152.0 268.8 152.0C272.4 152.0 275.9 148.6 279.5 147.5C283.1 146.4 286.6 145.3 290.2 145.3C292.4 145.3 294.7 146.2 296.9 147.0C299.1 147.8 301.4 150.0 303.6 150.0C307.8 150.0 312.0 151.5 316.2 152.0C320.4 152.5 324.6 153.0 328.8 153.0" fill="none" stroke="#ff1a1a" stroke-width="1.1" />
<path d="M208.8 153.0C212.4 153.0 216.0 151.5 219.7 151.0C223.3 150.5 226.9 150.0 230.5 150.0C232.8 150.0 235.2 148.2 237.5 147.5C239.8 146.8 242.2 146.0 244.5 146.0C248.5 146.0 252.6 148.3 256.6 149.5C260.7 150.7 264.8 153.0 268.8 153.0C272.4 153.0 275.9 154.7 279.5 155.0C283.1 155.3 286.6 155.0 290.2 155.0C292.4 155.0 294.7 152.8 296.9 152.0C299.1 151.2 301.4 150.0 303.6 150.0C307.8 150.0 312.0 151.2 316.2 152.0C320.4 152.8 324.6 155.0 328.8 155.0" fill="none" stroke="#8a2cff" stroke-width="1.0" />
<line x1="208.8" y1="152.4" x2="328.8" y2="152.4" stroke="#d02080" stroke-width="0.9" />
<path d="M208.8 178.3C212.4 178.3 216.0 181.4 219.7 180.6C223.3 179.8 226.9 173.4 230.5 173.4C232.8 173.4 235.2 178.3 237.5 178.3C239.8 178.4 242.2 173.8 244.5 173.8C248.5 173.8 252.6 168.3 256.6 168.6C260.7 168.8 264.8 175.1 268.8 175.1C272.4 175.1 275.9 176.1 279.5 173.7C283.1 171.3 286.6 160.6 290.2 160.6C292.4 160.6 294.7 162.2 296.9 163.1C299.1 164.0 301.4 166.0 303.6 166.0C307.8 166.0 312.0 163.3 316.2 163.7C320.4 164.2 324.6 168.9 328.8 168.9" fill="none" stroke="#ff160b" stroke-width="0.85" />
<path d="M208.8 172.5C212.4 172.5 216.0 169.8 219.7 171.7C223.3 173.6 226.9 184.0 230.5 184.0C232.8 184.0 235.2 176.5 237.5 175.0C239.8 173.6 242.2 175.5 244.5 175.5C248.5 175.5 252.6 180.4 256.6 179.9C260.7 179.4 264.8 172.4 268.8 172.4C272.4 172.4 275.9 176.0 279.5 177.4C283.1 178.8 286.6 180.9 290.2 180.9C292.4 180.9 294.7 177.0 296.9 175.4C299.1 173.8 301.4 171.3 303.6 171.3C307.8 171.3 312.0 173.8 316.2 174.3C320.4 174.9 324.6 174.5 328.8 174.5" fill="none" stroke="#780afe" stroke-width="0.85" />
<path d="M208.8 172.5C212.4 172.5 216.0 169.8 219.7 171.7C223.3 173.6 226.9 184.0 230.5 184.0C232.8 184.0 235.2 176.5 237.5 175.0C239.8 173.6 242.2 175.5 244.5 175.5C248.5 175.5 252.6 180.4 256.6 179.9C260.7 179.4 264.8 172.4 268.8 172.4C272.4 172.4 275.9 176.0 279.5 177.4C283.1 178.8 286.6 180.9 290.2 180.9C292.4 180.9 294.7 177.0 296.9 175.4C299.1 173.8 301.4 171.3 303.6 171.3C307.8 171.3 312.0 173.8 316.2 174.3C320.4 174.9 324.6 174.5 328.8 174.5" fill="none" stroke="#ff1010" stroke-width="0.85" stroke-dasharray="2.4 3.1" stroke-dashoffset="1.0"/>
<path d="M208.8 165.6C212.4 165.6 216.0 173.5 219.7 175.5C223.3 177.5 226.9 177.6 230.5 177.6C232.8 177.6 235.2 174.3 237.5 173.3C239.8 172.3 242.2 171.5 244.5 171.5C248.5 171.5 252.6 163.8 256.6 163.5C260.7 163.2 264.8 169.6 268.8 169.6C272.4 169.6 275.9 163.3 279.5 163.6C283.1 163.8 286.6 171.1 290.2 171.1C292.4 171.1 294.7 176.6 296.9 177.2C299.1 177.7 301.4 174.3 303.6 174.3C307.8 174.3 312.0 172.7 316.2 171.9C320.4 171.0 324.6 169.2 328.8 169.2" fill="none" stroke="#760efe" stroke-width="0.85" />
<path d="M208.8 165.6C212.4 165.6 216.0 173.5 219.7 175.5C223.3 177.5 226.9 177.6 230.5 177.6C232.8 177.6 235.2 174.3 237.5 173.3C239.8 172.3 242.2 171.5 244.5 171.5C248.5 171.5 252.6 163.8 256.6 163.5C260.7 163.2 264.8 169.6 268.8 169.6C272.4 169.6 275.9 163.3 279.5 163.6C283.1 163.8 286.6 171.1 290.2 171.1C292.4 171.1 294.7 176.6 296.9 177.2C299.1 177.7 301.4 174.3 303.6 174.3C307.8 174.3 312.0 172.7 316.2 171.9C320.4 171.0 324.6 169.2 328.8 169.2" fill="none" stroke="#ff1010" stroke-width="0.85" stroke-dasharray="4.7 7.7" stroke-dashoffset="5.3"/>
<path d="M208.8 158.2C212.4 158.2 216.0 155.2 219.7 156.4C223.3 157.6 226.9 165.6 230.5 165.6C232.8 165.6 235.2 162.3 237.5 161.6C239.8 160.9 242.2 161.2 244.5 161.2C248.5 161.2 252.6 163.4 256.6 162.3C260.7 161.1 264.8 154.3 268.8 154.3C272.4 154.3 275.9 159.0 279.5 159.1C283.1 159.2 286.6 154.7 290.2 154.7C292.4 154.7 294.7 152.9 296.9 152.5C299.1 152.1 301.4 152.5 303.6 152.5C307.8 152.5 312.0 157.9 316.2 159.2C320.4 160.4 324.6 159.9 328.8 159.9" fill="none" stroke="#ff0201" stroke-width="0.85" />
<path d="M208.8 183.7C212.4 183.7 216.0 182.3 219.7 180.6C223.3 178.8 226.9 173.1 230.5 173.1C232.8 173.1 235.2 170.2 237.5 172.3C239.8 174.3 242.2 185.4 244.5 185.4C248.5 185.4 252.6 177.4 256.6 175.4C260.7 173.4 264.8 173.6 268.8 173.6C272.4 173.6 275.9 178.4 279.5 180.2C283.1 182.0 286.6 184.4 290.2 184.4C292.4 184.4 294.7 188.6 296.9 188.3C299.1 188.1 301.4 182.8 303.6 182.8C307.8 182.8 312.0 184.9 316.2 185.2C320.4 185.5 324.6 184.6 328.8 184.6" fill="none" stroke="#ff1a0d" stroke-width="0.85" />
<path d="M208.8 183.7C212.4 183.7 216.0 182.3 219.7 180.6C223.3 178.8 226.9 173.1 230.5 173.1C232.8 173.1 235.2 170.2 237.5 172.3C239.8 174.3 242.2 185.4 244.5 185.4C248.5 185.4 252.6 177.4 256.6 175.4C260.7 173.4 264.8 173.6 268.8 173.6C272.4 173.6 275.9 178.4 279.5 180.2C283.1 182.0 286.6 184.4 290.2 184.4C292.4 184.4 294.7 188.6 296.9 188.3C299.1 188.1 301.4 182.8 303.6 182.8C307.8 182.8 312.0 184.9 316.2 185.2C320.4 185.5 324.6 184.6 328.8 184.6" fill="none" stroke="#8a30ff" stroke-width="0.85" stroke-dasharray="2.5 4.1" stroke-dashoffset="4.1"/>
<path d="M208.8 169.2C212.4 169.2 216.0 174.4 219.7 174.9C223.3 175.3 226.9 171.8 230.5 171.8C232.8 171.8 235.2 168.4 237.5 170.0C239.8 171.6 242.2 181.5 244.5 181.5C248.5 181.5 252.6 174.1 256.6 173.1C260.7 172.0 264.8 175.2 268.8 175.2C272.4 175.2 275.9 178.4 279.5 178.9C283.1 179.4 286.6 177.9 290.2 177.9C292.4 177.9 294.7 181.6 296.9 182.1C299.1 182.7 301.4 181.2 303.6 181.2C307.8 181.2 312.0 176.4 316.2 173.7C320.4 171.0 324.6 165.0 328.8 165.0" fill="none" stroke="#760efe" stroke-width="0.85" />
<path d="M208.8 169.2C212.4 169.2 216.0 174.4 219.7 174.9C223.3 175.3 226.9 171.8 230.5 171.8C232.8 171.8 235.2 168.4 237.5 170.0C239.8 171.6 242.2 181.5 244.5 181.5C248.5 181.5 252.6 174.1 256.6 173.1C260.7 172.0 264.8 175.2 268.8 175.2C272.4 175.2 275.9 178.4 279.5 178.9C283.1 179.4 286.6 177.9 290.2 177.9C292.4 177.9 294.7 181.6 296.9 182.1C299.1 182.7 301.4 181.2 303.6 181.2C307.8 181.2 312.0 176.4 316.2 173.7C320.4 171.0 324.6 165.0 328.8 165.0" fill="none" stroke="#ff1010" stroke-width="0.85" stroke-dasharray="2.6 4.1" stroke-dashoffset="0.9"/>
<path d="M208.8 166.6C212.4 166.6 216.0 161.0 219.7 161.0C223.3 161.0 226.9 166.6 230.5 166.6C232.8 166.6 235.2 167.3 237.5 165.5C239.8 163.7 242.2 155.7 244.5 155.7C248.5 155.7 252.6 161.1 256.6 161.3C260.7 161.5 264.8 156.9 268.8 156.9C272.4 156.9 275.9 151.4 279.5 151.0C283.1 150.6 286.6 154.5 290.2 154.5C292.4 154.5 294.7 155.9 296.9 157.4C299.1 158.9 301.4 163.5 303.6 163.5C307.8 163.5 312.0 156.9 316.2 156.0C320.4 155.1 324.6 158.3 328.8 158.3" fill="none" stroke="#7a07fe" stroke-width="0.85" />
<path d="M208.8 166.6C212.4 166.6 216.0 161.0 219.7 161.0C223.3 161.0 226.9 166.6 230.5 166.6C232.8 166.6 235.2 167.3 237.5 165.5C239.8 163.7 242.2 155.7 244.5 155.7C248.5 155.7 252.6 161.1 256.6 161.3C260.7 161.5 264.8 156.9 268.8 156.9C272.4 156.9 275.9 151.4 279.5 151.0C283.1 150.6 286.6 154.5 290.2 154.5C292.4 154.5 294.7 155.9 296.9 157.4C299.1 158.9 301.4 163.5 303.6 163.5C307.8 163.5 312.0 156.9 316.2 156.0C320.4 155.1 324.6 158.3 328.8 158.3" fill="none" stroke="#ff1010" stroke-width="0.85" stroke-dasharray="2.9 6.0" stroke-dashoffset="4.0"/>
<path d="M208.8 180.2C212.4 180.2 216.0 179.2 219.7 178.5C223.3 177.9 226.9 176.4 230.5 176.4C232.8 176.4 235.2 182.3 237.5 183.7C239.8 185.2 242.2 184.9 244.5 184.9C248.5 184.9 252.6 183.9 256.6 182.3C260.7 180.8 264.8 175.8 268.8 175.8C272.4 175.8 275.9 172.6 279.5 173.7C283.1 174.7 286.6 182.2 290.2 182.2C292.4 182.2 294.7 180.8 296.9 181.2C299.1 181.7 301.4 184.7 303.6 184.7C307.8 184.7 312.0 177.0 316.2 176.1C320.4 175.1 324.6 179.1 328.8 179.1" fill="none" stroke="#ff0c06" stroke-width="0.85" />
<path d="M208.8 180.2C212.4 180.2 216.0 179.2 219.7 178.5C223.3 177.9 226.9 176.4 230.5 176.4C232.8 176.4 235.2 182.3 237.5 183.7C239.8 185.2 242.2 184.9 244.5 184.9C248.5 184.9 252.6 183.9 256.6 182.3C260.7 180.8 264.8 175.8 268.8 175.8C272.4 175.8 275.9 172.6 279.5 173.7C283.1 174.7 286.6 182.2 290.2 182.2C292.4 182.2 294.7 180.8 296.9 181.2C299.1 181.7 301.4 184.7 303.6 184.7C307.8 184.7 312.0 177.0 316.2 176.1C320.4 175.1 324.6 179.1 328.8 179.1" fill="none" stroke="#8a30ff" stroke-width="0.85" stroke-dasharray="2.8 3.1" stroke-dashoffset="0.2"/>
<path d="M208.8 179.3C212.4 179.3 216.0 174.3 219.7 174.6C223.3 174.8 226.9 180.7 230.5 180.7C232.8 180.7 235.2 182.3 237.5 183.0C239.8 183.7 242.2 185.0 244.5 185.0C248.5 185.0 252.6 187.4 256.6 188.1C260.7 188.8 264.8 189.2 268.8 189.2C272.4 189.2 275.9 184.0 279.5 183.4C283.1 182.7 286.6 185.5 290.2 185.5C292.4 185.5 294.7 187.0 296.9 185.6C299.1 184.1 301.4 176.8 303.6 176.8C307.8 176.8 312.0 182.0 316.2 184.3C320.4 186.6 324.6 190.7 328.8 190.7" fill="none" stroke="#7d02fe" stroke-width="0.85" />
<path d="M208.8 172.7C212.4 172.7 216.0 172.0 219.7 172.3C223.3 172.7 226.9 174.8 230.5 174.8C232.8 174.8 235.2 172.2 237.5 170.9C239.8 169.7 242.2 167.3 244.5 167.3C248.5 167.3 252.6 168.2 256.6 168.0C260.7 167.8 264.8 166.3 268.8 166.3C272.4 166.3 275.9 162.4 279.5 162.6C283.1 162.8 286.6 167.5 290.2 167.5C292.4 167.5 294.7 164.4 296.9 166.4C299.1 168.3 301.4 179.1 303.6 179.1C307.8 179.1 312.0 170.7 316.2 169.8C320.4 168.8 324.6 173.4 328.8 173.4" fill="none" stroke="#770bfe" stroke-width="0.85" />
<path d="M208.8 186.9C212.4 186.9 216.0 187.8 219.7 188.2C223.3 188.6 226.9 189.3 230.5 189.3C232.8 189.3 235.2 180.1 237.5 178.6C239.8 177.1 242.2 180.5 244.5 180.5C248.5 180.5 252.6 185.4 256.6 185.2C260.7 185.0 264.8 179.1 268.8 179.1C272.4 179.1 275.9 178.8 279.5 179.0C283.1 179.1 286.6 180.0 290.2 180.0C292.4 180.0 294.7 181.9 296.9 181.6C299.1 181.3 301.4 178.2 303.6 178.2C307.8 178.2 312.0 180.2 316.2 181.4C320.4 182.6 324.6 185.2 328.8 185.2" fill="none" stroke="#780bfe" stroke-width="0.85" />
<path d="M208.8 186.9C212.4 186.9 216.0 187.8 219.7 188.2C223.3 188.6 226.9 189.3 230.5 189.3C232.8 189.3 235.2 180.1 237.5 178.6C239.8 177.1 242.2 180.5 244.5 180.5C248.5 180.5 252.6 185.4 256.6 185.2C260.7 185.0 264.8 179.1 268.8 179.1C272.4 179.1 275.9 178.8 279.5 179.0C283.1 179.1 286.6 180.0 290.2 180.0C292.4 180.0 294.7 181.9 296.9 181.6C299.1 181.3 301.4 178.2 303.6 178.2C307.8 178.2 312.0 180.2 316.2 181.4C320.4 182.6 324.6 185.2 328.8 185.2" fill="none" stroke="#ff1010" stroke-width="0.85" stroke-dasharray="2.4 6.7" stroke-dashoffset="2.8"/>
<path d="M208.8 169.7C212.4 169.7 216.0 170.7 219.7 170.5C223.3 170.2 226.9 168.5 230.5 168.5C232.8 168.5 235.2 170.3 237.5 170.4C239.8 170.4 242.2 168.8 244.5 168.8C248.5 168.8 252.6 162.3 256.6 161.2C260.7 160.1 264.8 162.0 268.8 162.0C272.4 162.0 275.9 152.5 279.5 151.7C283.1 151.0 286.6 157.4 290.2 157.4C292.4 157.4 294.7 161.4 296.9 163.3C299.1 165.2 301.4 168.7 303.6 168.7C307.8 168.7 312.0 168.5 316.2 166.9C320.4 165.2 324.6 158.9 328.8 158.9" fill="none" stroke="#7213fe" stroke-width="0.85" />
<path d="M208.8 169.7C212.4 169.7 216.0 170.7 219.7 170.5C223.3 170.2 226.9 168.5 230.5 168.5C232.8 168.5 235.2 170.3 237.5 170.4C239.8 170.4 242.2 168.8 244.5 168.8C248.5 168.8 252.6 162.3 256.6 161.2C260.7 160.1 264.8 162.0 268.8 162.0C272.4 162.0 275.9 152.5 279.5 151.7C283.1 151.0 286.6 157.4 290.2 157.4C292.4 157.4 294.7 161.4 296.9 163.3C299.1 165.2 301.4 168.7 303.6 168.7C307.8 168.7 312.0 168.5 316.2 166.9C320.4 165.2 324.6 158.9 328.8 158.9" fill="none" stroke="#ff1010" stroke-width="0.85" stroke-dasharray="4.2 5.2" stroke-dashoffset="4.6"/>
<path d="M208.8 166.2C212.4 166.2 216.0 168.9 219.7 169.9C223.3 170.8 226.9 171.9 230.5 171.9C232.8 171.9 235.2 170.0 237.5 170.2C239.8 170.3 242.2 173.0 244.5 173.0C248.5 173.0 252.6 170.5 256.6 171.4C260.7 172.4 264.8 178.4 268.8 178.4C272.4 178.4 275.9 178.1 279.5 177.2C283.1 176.3 286.6 172.9 290.2 172.9C292.4 172.9 294.7 169.7 296.9 169.4C299.1 169.1 301.4 171.1 303.6 171.1C307.8 171.1 312.0 164.5 316.2 164.9C320.4 165.4 324.6 173.8 328.8 173.8" fill="none" stroke="#ff190c" stroke-width="0.85" />
<path d="M208.8 181.3C212.4 181.3 216.0 187.7 219.7 188.7C223.3 189.6 226.9 187.2 230.5 187.2C232.8 187.2 235.2 176.6 237.5 175.1C239.8 173.6 242.2 178.3 244.5 178.3C248.5 178.3 252.6 178.0 256.6 178.1C260.7 178.1 264.8 178.8 268.8 178.8C272.4 178.8 275.9 185.2 279.5 186.4C283.1 187.6 286.6 186.0 290.2 186.0C292.4 186.0 294.7 189.9 296.9 189.6C299.1 189.4 301.4 184.7 303.6 184.7C307.8 184.7 312.0 177.9 316.2 177.1C320.4 176.3 324.6 180.1 328.8 180.1" fill="none" stroke="#780afe" stroke-width="0.85" />
<path d="M208.8 174.9C212.4 174.9 216.0 167.8 219.7 167.7C223.3 167.6 226.9 174.5 230.5 174.5C232.8 174.5 235.2 180.5 237.5 181.5C239.8 182.6 242.2 180.8 244.5 180.8C248.5 180.8 252.6 170.9 256.6 169.0C260.7 167.0 264.8 169.1 268.8 169.1C272.4 169.1 275.9 164.0 279.5 164.2C283.1 164.3 286.6 170.0 290.2 170.0C292.4 170.0 294.7 173.7 296.9 172.9C299.1 172.1 301.4 165.2 303.6 165.2C307.8 165.2 312.0 167.5 316.2 169.2C320.4 170.9 324.6 175.3 328.8 175.3" fill="none" stroke="#7b06fe" stroke-width="0.85" />
<path d="M208.8 174.9C212.4 174.9 216.0 167.8 219.7 167.7C223.3 167.6 226.9 174.5 230.5 174.5C232.8 174.5 235.2 180.5 237.5 181.5C239.8 182.6 242.2 180.8 244.5 180.8C248.5 180.8 252.6 170.9 256.6 169.0C260.7 167.0 264.8 169.1 268.8 169.1C272.4 169.1 275.9 164.0 279.5 164.2C283.1 164.3 286.6 170.0 290.2 170.0C292.4 170.0 294.7 173.7 296.9 172.9C299.1 172.1 301.4 165.2 303.6 165.2C307.8 165.2 312.0 167.5 316.2 169.2C320.4 170.9 324.6 175.3 328.8 175.3" fill="none" stroke="#ff1010" stroke-width="0.85" stroke-dasharray="3.1 7.9" stroke-dashoffset="1.5"/>
<path d="M208.8 194.3C212.4 194.3 216.0 193.6 219.7 193.0C223.3 192.4 226.9 190.7 230.5 190.7C232.8 190.7 235.2 193.6 237.5 192.3C239.8 191.1 242.2 183.2 244.5 183.2C248.5 183.2 252.6 186.2 256.6 187.6C260.7 189.0 264.8 191.6 268.8 191.6C272.4 191.6 275.9 186.7 279.5 187.2C283.1 187.7 286.6 194.7 290.2 194.7C292.4 194.7 294.7 187.7 296.9 186.7C299.1 185.8 301.4 189.1 303.6 189.1C307.8 189.1 312.0 187.7 316.2 186.5C320.4 185.4 324.6 182.4 328.8 182.4" fill="none" stroke="#ff2713" stroke-width="0.85" />
<path d="M208.8 194.3C212.4 194.3 216.0 193.6 219.7 193.0C223.3 192.4 226.9 190.7 230.5 190.7C232.8 190.7 235.2 193.6 237.5 192.3C239.8 191.1 242.2 183.2 244.5 183.2C248.5 183.2 252.6 186.2 256.6 187.6C260.7 189.0 264.8 191.6 268.8 191.6C272.4 191.6 275.9 186.7 279.5 187.2C283.1 187.7 286.6 194.7 290.2 194.7C292.4 194.7 294.7 187.7 296.9 186.7C299.1 185.8 301.4 189.1 303.6 189.1C307.8 189.1 312.0 187.7 316.2 186.5C320.4 185.4 324.6 182.4 328.8 182.4" fill="none" stroke="#8a30ff" stroke-width="0.85" stroke-dasharray="2.8 5.5" stroke-dashoffset="0.6"/>
<path d="M208.8 182.1C212.4 182.1 216.0 179.8 219.7 178.7C223.3 177.7 226.9 175.6 230.5 175.6C232.8 175.6 235.2 180.7 237.5 181.5C239.8 182.3 242.2 180.4 244.5 180.4C248.5 180.4 252.6 173.4 256.6 173.2C260.7 173.1 264.8 179.4 268.8 179.4C272.4 179.4 275.9 174.6 279.5 175.4C283.1 176.1 286.6 184.1 290.2 184.1C292.4 184.1 294.7 187.0 296.9 186.3C299.1 185.7 301.4 180.3 303.6 180.3C307.8 180.3 312.0 184.3 316.2 184.5C320.4 184.7 324.6 181.4 328.8 181.4" fill="none" stroke="#ff0402" stroke-width="0.85" />
<path d="M208.8 189.9C212.4 189.9 216.0 185.1 219.7 184.1C223.3 183.1 226.9 184.1 230.5 184.1C232.8 184.1 235.2 187.6 237.5 186.8C239.8 186.0 242.2 179.3 244.5 179.3C248.5 179.3 252.6 181.7 256.6 183.7C260.7 185.6 264.8 191.1 268.8 191.1C272.4 191.1 275.9 185.7 279.5 185.5C283.1 185.3 286.6 190.1 290.2 190.1C292.4 190.1 294.7 194.4 296.9 193.7C299.1 193.0 301.4 185.8 303.6 185.8C307.8 185.8 312.0 190.3 316.2 189.7C320.4 189.1 324.6 182.2 328.8 182.2" fill="none" stroke="#ff2010" stroke-width="0.85" />
<path d="M208.8 173.4C212.4 173.4 216.0 172.6 219.7 173.3C223.3 173.9 226.9 177.2 230.5 177.2C232.8 177.2 235.2 179.2 237.5 178.0C239.8 176.8 242.2 169.8 244.5 169.8C248.5 169.8 252.6 165.7 256.6 166.7C260.7 167.6 264.8 175.6 268.8 175.6C272.4 175.6 275.9 178.0 279.5 176.9C283.1 175.7 286.6 168.5 290.2 168.5C292.4 168.5 294.7 164.3 296.9 164.4C299.1 164.4 301.4 168.8 303.6 168.8C307.8 168.8 312.0 167.6 316.2 168.6C320.4 169.5 324.6 174.7 328.8 174.7" fill="none" stroke="#ff1b0d" stroke-width="0.85" />
<path d="M208.8 179.1C212.4 179.1 216.0 176.6 219.7 177.1C223.3 177.5 226.9 181.6 230.5 181.6C232.8 181.6 235.2 174.3 237.5 173.4C239.8 172.6 242.2 176.6 244.5 176.6C248.5 176.6 252.6 175.0 256.6 173.5C260.7 172.0 264.8 167.4 268.8 167.4C272.4 167.4 275.9 168.2 279.5 168.9C283.1 169.7 286.6 171.8 290.2 171.8C292.4 171.8 294.7 166.3 296.9 165.5C299.1 164.7 301.4 167.1 303.6 167.1C307.8 167.1 312.0 163.1 316.2 163.4C320.4 163.6 324.6 168.6 328.8 168.6" fill="none" stroke="#ff2311" stroke-width="0.85" />
<path d="M208.8 179.1C212.4 179.1 216.0 176.6 219.7 177.1C223.3 177.5 226.9 181.6 230.5 181.6C232.8 181.6 235.2 174.3 237.5 173.4C239.8 172.6 242.2 176.6 244.5 176.6C248.5 176.6 252.6 175.0 256.6 173.5C260.7 172.0 264.8 167.4 268.8 167.4C272.4 167.4 275.9 168.2 279.5 168.9C283.1 169.7 286.6 171.8 290.2 171.8C292.4 171.8 294.7 166.3 296.9 165.5C299.1 164.7 301.4 167.1 303.6 167.1C307.8 167.1 312.0 163.1 316.2 163.4C320.4 163.6 324.6 168.6 328.8 168.6" fill="none" stroke="#8a30ff" stroke-width="0.85" stroke-dasharray="2.2 5.6" stroke-dashoffset="2.0"/>
<path d="M208.8 180.1C212.4 180.1 216.0 188.1 219.7 189.8C223.3 191.6 226.9 190.7 230.5 190.7C232.8 190.7 235.2 189.8 237.5 190.0C239.8 190.3 242.2 192.3 244.5 192.3C248.5 192.3 252.6 191.8 256.6 191.8C260.7 191.7 264.8 192.1 268.8 192.1C272.4 192.1 275.9 183.5 279.5 181.4C283.1 179.3 286.6 179.4 290.2 179.4C292.4 179.4 294.7 186.2 296.9 188.3C299.1 190.4 301.4 192.0 303.6 192.0C307.8 192.0 312.0 186.5 316.2 185.1C320.4 183.7 324.6 183.8 328.8 183.8" fill="none" stroke="#760efe" stroke-width="0.85" />
<path d="M208.8 180.1C212.4 180.1 216.0 188.1 219.7 189.8C223.3 191.6 226.9 190.7 230.5 190.7C232.8 190.7 235.2 189.8 237.5 190.0C239.8 190.3 242.2 192.3 244.5 192.3C248.5 192.3 252.6 191.8 256.6 191.8C260.7 191.7 264.8 192.1 268.8 192.1C272.4 192.1 275.9 183.5 279.5 181.4C283.1 179.3 286.6 179.4 290.2 179.4C292.4 179.4 294.7 186.2 296.9 188.3C299.1 190.4 301.4 192.0 303.6 192.0C307.8 192.0 312.0 186.5 316.2 185.1C320.4 183.7 324.6 183.8 328.8 183.8" fill="none" stroke="#ff1010" stroke-width="0.85" stroke-dasharray="2.1 4.3" stroke-dashoffset="3.3"/>
<path d="M208.8 174.8C212.4 174.8 216.0 171.8 219.7 170.1C223.3 168.3 226.9 164.4 230.5 164.4C232.8 164.4 235.2 173.2 237.5 174.6C239.8 176.0 242.2 172.8 244.5 172.8C248.5 172.8 252.6 178.4 256.6 179.6C260.7 180.9 264.8 180.4 268.8 180.4C272.4 180.4 275.9 179.2 279.5 179.4C283.1 179.6 286.6 181.5 290.2 181.5C292.4 181.5 294.7 178.8 296.9 178.0C299.1 177.3 301.4 176.7 303.6 176.7C307.8 176.7 312.0 181.9 316.2 181.9C320.4 181.9 324.6 176.7 328.8 176.7" fill="none" stroke="#770bfe" stroke-width="0.85" />
<path d="M208.8 174.8C212.4 174.8 216.0 171.8 219.7 170.1C223.3 168.3 226.9 164.4 230.5 164.4C232.8 164.4 235.2 173.2 237.5 174.6C239.8 176.0 242.2 172.8 244.5 172.8C248.5 172.8 252.6 178.4 256.6 179.6C260.7 180.9 264.8 180.4 268.8 180.4C272.4 180.4 275.9 179.2 279.5 179.4C283.1 179.6 286.6 181.5 290.2 181.5C292.4 181.5 294.7 178.8 296.9 178.0C299.1 177.3 301.4 176.7 303.6 176.7C307.8 176.7 312.0 181.9 316.2 181.9C320.4 181.9 324.6 176.7 328.8 176.7" fill="none" stroke="#ff1010" stroke-width="0.85" stroke-dasharray="4.0 5.4" stroke-dashoffset="7.5"/>
<path d="M208.8 198.4C212.4 198.4 216.0 193.7 219.7 193.6C223.3 193.5 226.9 197.6 230.5 197.6C232.8 197.6 235.2 185.6 237.5 182.9C239.8 180.1 242.2 181.3 244.5 181.3C248.5 181.3 252.6 177.0 256.6 177.0C260.7 177.1 264.8 181.8 268.8 181.8C272.4 181.8 275.9 177.2 279.5 178.0C283.1 178.8 286.6 186.6 290.2 186.6C292.4 186.6 294.7 183.5 296.9 185.0C299.1 186.5 301.4 195.4 303.6 195.4C307.8 195.4 312.0 196.2 316.2 195.4C320.4 194.6 324.6 190.5 328.8 190.5" fill="none" stroke="#ff2110" stroke-width="0.85" />
<path d="M208.8 170.1C212.4 170.1 216.0 166.3 219.7 165.8C223.3 165.2 226.9 166.8 230.5 166.8C232.8 166.8 235.2 165.7 237.5 166.3C239.8 167.0 242.2 170.9 244.5 170.9C248.5 170.9 252.6 174.8 256.6 174.3C260.7 173.9 264.8 168.2 268.8 168.2C272.4 168.2 275.9 166.3 279.5 166.3C283.1 166.3 286.6 168.3 290.2 168.3C292.4 168.3 294.7 168.7 296.9 167.3C299.1 165.9 301.4 159.9 303.6 159.9C307.8 159.9 312.0 161.7 316.2 162.2C320.4 162.6 324.6 162.7 328.8 162.7" fill="none" stroke="#ff1f0f" stroke-width="0.85" />
<path d="M208.8 179.9C212.4 179.9 216.0 175.9 219.7 176.0C223.3 176.0 226.9 180.2 230.5 180.2C232.8 180.2 235.2 177.8 237.5 178.2C239.8 178.6 242.2 182.5 244.5 182.5C248.5 182.5 252.6 182.1 256.6 182.4C260.7 182.6 264.8 184.0 268.8 184.0C272.4 184.0 275.9 178.0 279.5 177.9C283.1 177.8 286.6 183.3 290.2 183.3C292.4 183.3 294.7 183.8 296.9 185.3C299.1 186.8 301.4 192.4 303.6 192.4C307.8 192.4 312.0 183.4 316.2 182.4C320.4 181.5 324.6 186.7 328.8 186.7" fill="none" stroke="#7411fe" stroke-width="0.85" />
<path d="M208.8 177.8C212.4 177.8 216.0 177.1 219.7 177.6C223.3 178.1 226.9 181.0 230.5 181.0C232.8 181.0 235.2 184.7 237.5 184.7C239.8 184.7 242.2 180.9 244.5 180.9C248.5 180.9 252.6 179.6 256.6 178.5C260.7 177.4 264.8 174.1 268.8 174.1C272.4 174.1 275.9 172.9 279.5 174.0C283.1 175.1 286.6 180.6 290.2 180.6C292.4 180.6 294.7 175.7 296.9 175.6C299.1 175.5 301.4 179.9 303.6 179.9C307.8 179.9 312.0 178.9 316.2 178.0C320.4 177.1 324.6 174.5 328.8 174.5" fill="none" stroke="#7b05fe" stroke-width="0.85" />
<path d="M208.8 177.8C212.4 177.8 216.0 177.1 219.7 177.6C223.3 178.1 226.9 181.0 230.5 181.0C232.8 181.0 235.2 184.7 237.5 184.7C239.8 184.7 242.2 180.9 244.5 180.9C248.5 180.9 252.6 179.6 256.6 178.5C260.7 177.4 264.8 174.1 268.8 174.1C272.4 174.1 275.9 172.9 279.5 174.0C283.1 175.1 286.6 180.6 290.2 180.6C292.4 180.6 294.7 175.7 296.9 175.6C299.1 175.5 301.4 179.9 303.6 179.9C307.8 179.9 312.0 178.9 316.2 178.0C320.4 177.1 324.6 174.5 328.8 174.5" fill="none" stroke="#ff1010" stroke-width="0.85" stroke-dasharray="3.2 6.1" stroke-dashoffset="7.0"/>
<path d="M208.8 174.1C212.4 174.1 216.0 175.8 219.7 175.8C223.3 175.9 226.9 174.5 230.5 174.5C232.8 174.5 235.2 170.8 237.5 171.1C239.8 171.4 242.2 176.4 244.5 176.4C248.5 176.4 252.6 172.8 256.6 171.5C260.7 170.2 264.8 168.8 268.8 168.8C272.4 168.8 275.9 167.1 279.5 167.1C283.1 167.2 286.6 168.9 290.2 168.9C292.4 168.9 294.7 168.3 296.9 170.3C299.1 172.3 301.4 181.0 303.6 181.0C307.8 181.0 312.0 170.8 316.2 168.5C320.4 166.2 324.6 167.0 328.8 167.0" fill="none" stroke="#6529fe" stroke-width="0.85" />
<path d="M208.8 174.1C212.4 174.1 216.0 175.8 219.7 175.8C223.3 175.9 226.9 174.5 230.5 174.5C232.8 174.5 235.2 170.8 237.5 171.1C239.8 171.4 242.2 176.4 244.5 176.4C248.5 176.4 252.6 172.8 256.6 171.5C260.7 170.2 264.8 168.8 268.8 168.8C272.4 168.8 275.9 167.1 279.5 167.1C283.1 167.2 286.6 168.9 290.2 168.9C292.4 168.9 294.7 168.3 296.9 170.3C299.1 172.3 301.4 181.0 303.6 181.0C307.8 181.0 312.0 170.8 316.2 168.5C320.4 166.2 324.6 167.0 328.8 167.0" fill="none" stroke="#ff1010" stroke-width="0.85" stroke-dasharray="4.2 4.9" stroke-dashoffset="1.6"/>
<path d="M208.8 193.1C212.4 193.1 216.0 189.7 219.7 187.4C223.3 185.1 226.9 179.2 230.5 179.2C232.8 179.2 235.2 176.0 237.5 177.5C239.8 179.0 242.2 188.2 244.5 188.2C248.5 188.2 252.6 184.5 256.6 183.5C260.7 182.6 264.8 182.6 268.8 182.6C272.4 182.6 275.9 188.0 279.5 189.8C283.1 191.7 286.6 193.4 290.2 193.4C292.4 193.4 294.7 185.1 296.9 183.9C299.1 182.7 301.4 186.2 303.6 186.2C307.8 186.2 312.0 181.2 316.2 182.1C320.4 183.0 324.6 191.5 328.8 191.5" fill="none" stroke="#4e4bfc" stroke-width="0.85" />
<path d="M208.8 164.0C212.4 164.0 216.0 164.7 219.7 165.6C223.3 166.5 226.9 169.2 230.5 169.2C232.8 169.2 235.2 161.0 237.5 160.4C239.8 159.8 242.2 165.5 244.5 165.5C248.5 165.5 252.6 159.1 256.6 158.9C260.7 158.7 264.8 164.3 268.8 164.3C272.4 164.3 275.9 167.9 279.5 167.1C283.1 166.3 286.6 159.3 290.2 159.3C292.4 159.3 294.7 162.4 296.9 163.0C299.1 163.5 301.4 162.8 303.6 162.8C307.8 162.8 312.0 169.6 316.2 170.5C320.4 171.4 324.6 168.1 328.8 168.1" fill="none" stroke="#ff2311" stroke-width="0.85" />
<path d="M208.8 174.5C212.4 174.5 216.0 170.6 219.7 169.9C223.3 169.3 226.9 170.3 230.5 170.3C232.8 170.3 235.2 172.0 237.5 173.6C239.8 175.2 242.2 179.9 244.5 179.9C248.5 179.9 252.6 176.6 256.6 176.6C260.7 176.7 264.8 180.2 268.8 180.2C272.4 180.2 275.9 178.4 279.5 178.3C283.1 178.1 286.6 179.2 290.2 179.2C292.4 179.2 294.7 182.9 296.9 182.0C299.1 181.1 301.4 173.9 303.6 173.9C307.8 173.9 312.0 177.5 316.2 177.7C320.4 177.8 324.6 175.0 328.8 175.0" fill="none" stroke="#ff0d06" stroke-width="0.85" />
<path d="M208.8 179.5C212.4 179.5 216.0 183.8 219.7 184.0C223.3 184.2 226.9 180.4 230.5 180.4C232.8 180.4 235.2 176.0 237.5 173.4C239.8 170.8 242.2 164.8 244.5 164.8C248.5 164.8 252.6 172.5 256.6 174.2C260.7 175.9 264.8 174.8 268.8 174.8C272.4 174.8 275.9 168.8 279.5 168.0C283.1 167.3 286.6 170.4 290.2 170.4C292.4 170.4 294.7 174.0 296.9 174.3C299.1 174.5 301.4 171.9 303.6 171.9C307.8 171.9 312.0 169.9 316.2 170.1C320.4 170.4 324.6 173.4 328.8 173.4" fill="none" stroke="#ff0703" stroke-width="0.85" />
<path d="M208.8 175.3C212.4 175.3 216.0 168.9 219.7 167.7C223.3 166.5 226.9 168.1 230.5 168.1C232.8 168.1 235.2 168.6 237.5 169.2C239.8 169.7 242.2 171.4 244.5 171.4C248.5 171.4 252.6 178.8 256.6 179.7C260.7 180.6 264.8 177.0 268.8 177.0C272.4 177.0 275.9 174.8 279.5 172.8C283.1 170.8 286.6 165.1 290.2 165.1C292.4 165.1 294.7 162.1 296.9 162.8C299.1 163.4 301.4 169.0 303.6 169.0C307.8 169.0 312.0 170.6 316.2 170.6C320.4 170.6 324.6 169.1 328.8 169.1" fill="none" stroke="#7a07fe" stroke-width="0.85" />
<path d="M208.8 178.6C212.4 178.6 216.0 180.5 219.7 179.3C223.3 178.1 226.9 171.5 230.5 171.5C232.8 171.5 235.2 180.1 237.5 181.4C239.8 182.7 242.2 179.3 244.5 179.3C248.5 179.3 252.6 174.0 256.6 172.4C260.7 170.9 264.8 169.9 268.8 169.9C272.4 169.9 275.9 164.5 279.5 164.1C283.1 163.7 286.6 167.6 290.2 167.6C292.4 167.6 294.7 172.9 296.9 173.4C299.1 173.8 301.4 170.4 303.6 170.4C307.8 170.4 312.0 173.1 316.2 172.5C320.4 171.9 324.6 166.8 328.8 166.8" fill="none" stroke="#ff1b0d" stroke-width="0.85" />
<path d="M208.8 178.6C212.4 178.6 216.0 180.5 219.7 179.3C223.3 178.1 226.9 171.5 230.5 171.5C232.8 171.5 235.2 180.1 237.5 181.4C239.8 182.7 242.2 179.3 244.5 179.3C248.5 179.3 252.6 174.0 256.6 172.4C260.7 170.9 264.8 169.9 268.8 169.9C272.4 169.9 275.9 164.5 279.5 164.1C283.1 163.7 286.6 167.6 290.2 167.6C292.4 167.6 294.7 172.9 296.9 173.4C299.1 173.8 301.4 170.4 303.6 170.4C307.8 170.4 312.0 173.1 316.2 172.5C320.4 171.9 324.6 166.8 328.8 166.8" fill="none" stroke="#8a30ff" stroke-width="0.85" stroke-dasharray="2.4 4.1" stroke-dashoffset="3.2"/>
<path d="M208.8 157.2C212.4 157.2 216.0 162.6 219.7 163.9C223.3 165.3 226.9 165.4 230.5 165.4C232.8 165.4 235.2 160.4 237.5 159.5C239.8 158.5 242.2 160.0 244.5 160.0C248.5 160.0 252.6 167.8 256.6 169.7C260.7 171.5 264.8 171.0 268.8 171.0C272.4 171.0 275.9 169.2 279.5 169.4C283.1 169.5 286.6 171.9 290.2 171.9C292.4 171.9 294.7 171.8 296.9 170.9C299.1 170.1 301.4 166.6 303.6 166.6C307.8 166.6 312.0 166.8 316.2 165.6C320.4 164.4 324.6 159.5 328.8 159.5" fill="none" stroke="#750ffe" stroke-width="0.85" />
<path d="M208.8 157.2C212.4 157.2 216.0 162.6 219.7 163.9C223.3 165.3 226.9 165.4 230.5 165.4C232.8 165.4 235.2 160.4 237.5 159.5C239.8 158.5 242.2 160.0 244.5 160.0C248.5 160.0 252.6 167.8 256.6 169.7C260.7 171.5 264.8 171.0 268.8 171.0C272.4 171.0 275.9 169.2 279.5 169.4C283.1 169.5 286.6 171.9 290.2 171.9C292.4 171.9 294.7 171.8 296.9 170.9C299.1 170.1 301.4 166.6 303.6 166.6C307.8 166.6 312.0 166.8 316.2 165.6C320.4 164.4 324.6 159.5 328.8 159.5" fill="none" stroke="#ff1010" stroke-width="0.85" stroke-dasharray="2.5 4.8" stroke-dashoffset="7.7"/>
<path d="M208.8 154.5C212.4 154.5 216.0 151.5 219.7 151.5C223.3 151.6 226.9 155.0 230.5 155.0C232.8 155.0 235.2 158.0 237.5 158.4C239.8 158.8 242.2 157.4 244.5 157.4C248.5 157.4 252.6 158.3 256.6 159.6C260.7 160.9 264.8 165.1 268.8 165.1C272.4 165.1 275.9 162.0 279.5 159.9C283.1 157.8 286.6 152.6 290.2 152.6C292.4 152.6 294.7 151.7 296.9 151.7C299.1 151.7 301.4 152.5 303.6 152.5C307.8 152.5 312.0 151.0 316.2 151.0C320.4 151.0 324.6 152.5 328.8 152.5" fill="none" stroke="#7e00fe" stroke-width="0.85" />
<path d="M208.8 176.1C212.4 176.1 216.0 180.3 219.7 180.6C223.3 180.9 226.9 178.0 230.5 178.0C232.8 178.0 235.2 176.3 237.5 178.1C239.8 179.8 242.2 188.5 244.5 188.5C248.5 188.5 252.6 180.7 256.6 179.9C260.7 179.1 264.8 183.5 268.8 183.5C272.4 183.5 275.9 187.4 279.5 188.1C283.1 188.9 286.6 187.8 290.2 187.8C292.4 187.8 294.7 191.3 296.9 191.3C299.1 191.3 301.4 187.9 303.6 187.9C307.8 187.9 312.0 180.5 316.2 178.7C320.4 176.9 324.6 177.0 328.8 177.0" fill="none" stroke="#760efe" stroke-width="0.85" />
<path d="M208.8 176.1C212.4 176.1 216.0 180.3 219.7 180.6C223.3 180.9 226.9 178.0 230.5 178.0C232.8 178.0 235.2 176.3 237.5 178.1C239.8 179.8 242.2 188.5 244.5 188.5C248.5 188.5 252.6 180.7 256.6 179.9C260.7 179.1 264.8 183.5 268.8 183.5C272.4 183.5 275.9 187.4 279.5 188.1C283.1 188.9 286.6 187.8 290.2 187.8C292.4 187.8 294.7 191.3 296.9 191.3C299.1 191.3 301.4 187.9 303.6 187.9C307.8 187.9 312.0 180.5 316.2 178.7C320.4 176.9 324.6 177.0 328.8 177.0" fill="none" stroke="#ff1010" stroke-width="0.85" stroke-dasharray="3.3 8.0" stroke-dashoffset="1.0"/>
<path d="M208.8 195.2C212.4 195.2 216.0 195.9 219.7 196.2C223.3 196.5 226.9 197.2 230.5 197.2C232.8 197.2 235.2 196.5 237.5 194.2C239.8 192.0 242.2 183.7 244.5 183.7C248.5 183.7 252.6 182.3 256.6 182.1C260.7 182.0 264.8 182.8 268.8 182.8C272.4 182.8 275.9 183.2 279.5 184.0C283.1 184.7 286.6 187.1 290.2 187.1C292.4 187.1 294.7 190.9 296.9 190.1C299.1 189.3 301.4 182.3 303.6 182.3C307.8 182.3 312.0 180.6 316.2 182.9C320.4 185.1 324.6 195.9 328.8 195.9" fill="none" stroke="#ff0502" stroke-width="0.85" />
<path d="M208.8 193.5C212.4 193.5 216.0 197.1 219.7 196.4C223.3 195.7 226.9 189.5 230.5 189.5C232.8 189.5 235.2 187.9 237.5 187.4C239.8 186.9 242.2 186.5 244.5 186.5C248.5 186.5 252.6 179.8 256.6 180.3C260.7 180.7 264.8 189.1 268.8 189.1C272.4 189.1 275.9 188.8 279.5 188.1C283.1 187.4 286.6 185.1 290.2 185.1C292.4 185.1 294.7 189.2 296.9 188.2C299.1 187.3 301.4 179.5 303.6 179.5C307.8 179.5 312.0 180.9 316.2 181.2C320.4 181.5 324.6 181.4 328.8 181.4" fill="none" stroke="#7909fe" stroke-width="0.85" />
<path d="M208.8 180.2C212.4 180.2 216.0 181.5 219.7 182.8C223.3 184.0 226.9 187.7 230.5 187.7C232.8 187.7 235.2 183.3 237.5 183.2C239.8 183.2 242.2 187.4 244.5 187.4C248.5 187.4 252.6 181.6 256.6 181.3C260.7 181.0 264.8 185.5 268.8 185.5C272.4 185.5 275.9 190.4 279.5 190.3C283.1 190.1 286.6 184.4 290.2 184.4C292.4 184.4 294.7 179.6 296.9 179.6C299.1 179.6 301.4 184.3 303.6 184.3C307.8 184.3 312.0 184.6 316.2 183.0C320.4 181.5 324.6 174.9 328.8 174.9" fill="none" stroke="#7a08fe" stroke-width="0.85" />
<path d="M208.8 180.2C212.4 180.2 216.0 181.5 219.7 182.8C223.3 184.0 226.9 187.7 230.5 187.7C232.8 187.7 235.2 183.3 237.5 183.2C239.8 183.2 242.2 187.4 244.5 187.4C248.5 187.4 252.6 181.6 256.6 181.3C260.7 181.0 264.8 185.5 268.8 185.5C272.4 185.5 275.9 190.4 279.5 190.3C283.1 190.1 286.6 184.4 290.2 184.4C292.4 184.4 294.7 179.6 296.9 179.6C299.1 179.6 301.4 184.3 303.6 184.3C307.8 184.3 312.0 184.6 316.2 183.0C320.4 181.5 324.6 174.9 328.8 174.9" fill="none" stroke="#ff1010" stroke-width="0.85" stroke-dasharray="2.5 6.2" stroke-dashoffset="5.7"/>
<path d="M208.8 174.6C212.4 174.6 216.0 164.0 219.7 162.7C223.3 161.4 226.9 166.8 230.5 166.8C232.8 166.8 235.2 165.5 237.5 167.0C239.8 168.4 242.2 175.7 244.5 175.7C248.5 175.7 252.6 174.1 256.6 174.5C260.7 174.9 264.8 177.9 268.8 177.9C272.4 177.9 275.9 170.9 279.5 170.9C283.1 170.9 286.6 177.9 290.2 177.9C292.4 177.9 294.7 169.6 296.9 169.0C299.1 168.3 301.4 174.0 303.6 174.0C307.8 174.0 312.0 179.4 316.2 179.5C320.4 179.5 324.6 174.2 328.8 174.2" fill="none" stroke="#780bfe" stroke-width="0.85" />
<path d="M208.8 189.0C212.4 189.0 216.0 188.8 219.7 188.1C223.3 187.5 226.9 185.3 230.5 185.3C232.8 185.3 235.2 181.9 237.5 181.8C239.8 181.7 242.2 184.7 244.5 184.7C248.5 184.7 252.6 189.8 256.6 191.6C260.7 193.3 264.8 195.1 268.8 195.1C272.4 195.1 275.9 190.8 279.5 190.8C283.1 190.7 286.6 194.8 290.2 194.8C292.4 194.8 294.7 192.4 296.9 190.0C299.1 187.6 301.4 180.3 303.6 180.3C307.8 180.3 312.0 184.1 316.2 186.1C320.4 188.1 324.6 192.3 328.8 192.3" fill="none" stroke="#7e01fe" stroke-width="0.85" />
<path d="M208.8 193.2C212.4 193.2 216.0 186.5 219.7 185.1C223.3 183.7 226.9 184.8 230.5 184.8C232.8 184.8 235.2 180.4 237.5 181.7C239.8 183.0 242.2 192.5 244.5 192.5C248.5 192.5 252.6 187.0 256.6 185.2C260.7 183.4 264.8 181.6 268.8 181.6C272.4 181.6 275.9 179.5 279.5 180.8C283.1 182.1 286.6 189.4 290.2 189.4C292.4 189.4 294.7 182.6 296.9 182.0C299.1 181.4 301.4 185.8 303.6 185.8C307.8 185.8 312.0 183.2 316.2 183.5C320.4 183.9 324.6 188.0 328.8 188.0" fill="none" stroke="#ff2713" stroke-width="0.85" />
<path d="M208.8 166.9C212.4 166.9 216.0 156.2 219.7 154.8C223.3 153.3 226.9 158.4 230.5 158.4C232.8 158.4 235.2 152.8 237.5 151.9C239.8 151.0 242.2 153.0 244.5 153.0C248.5 153.0 252.6 156.8 256.6 157.7C260.7 158.7 264.8 158.6 268.8 158.6C272.4 158.6 275.9 162.9 279.5 163.1C283.1 163.3 286.6 160.0 290.2 160.0C292.4 160.0 294.7 152.2 296.9 151.0C299.1 149.8 301.4 152.5 303.6 152.5C307.8 152.5 312.0 152.9 316.2 154.2C320.4 155.6 324.6 160.6 328.8 160.6" fill="none" stroke="#5d34fd" stroke-width="0.85" />
<path d="M208.8 166.9C212.4 166.9 216.0 156.2 219.7 154.8C223.3 153.3 226.9 158.4 230.5 158.4C232.8 158.4 235.2 152.8 237.5 151.9C239.8 151.0 242.2 153.0 244.5 153.0C248.5 153.0 252.6 156.8 256.6 157.7C260.7 158.7 264.8 158.6 268.8 158.6C272.4 158.6 275.9 162.9 279.5 163.1C283.1 163.3 286.6 160.0 290.2 160.0C292.4 160.0 294.7 152.2 296.9 151.0C299.1 149.8 301.4 152.5 303.6 152.5C307.8 152.5 312.0 152.9 316.2 154.2C320.4 155.6 324.6 160.6 328.8 160.6" fill="none" stroke="#8a30ff" stroke-width="0.85" stroke-dasharray="2.7 7.3" stroke-dashoffset="2.8"/>
<path d="M208.8 189.6C212.4 189.6 216.0 193.3 219.7 192.4C223.3 191.4 226.9 183.9 230.5 183.9C232.8 183.9 235.2 183.0 237.5 181.7C239.8 180.4 242.2 176.3 244.5 176.3C248.5 176.3 252.6 177.1 256.6 177.9C260.7 178.8 264.8 181.4 268.8 181.4C272.4 181.4 275.9 183.8 279.5 183.3C283.1 182.8 286.6 178.6 290.2 178.6C292.4 178.6 294.7 178.6 296.9 179.0C299.1 179.5 301.4 181.3 303.6 181.3C307.8 181.3 312.0 176.8 316.2 177.3C320.4 177.7 324.6 183.8 328.8 183.8" fill="none" stroke="#7c05fe" stroke-width="0.85" />
<path d="M208.8 189.6C212.4 189.6 216.0 193.3 219.7 192.4C223.3 191.4 226.9 183.9 230.5 183.9C232.8 183.9 235.2 183.0 237.5 181.7C239.8 180.4 242.2 176.3 244.5 176.3C248.5 176.3 252.6 177.1 256.6 177.9C260.7 178.8 264.8 181.4 268.8 181.4C272.4 181.4 275.9 183.8 279.5 183.3C283.1 182.8 286.6 178.6 290.2 178.6C292.4 178.6 294.7 178.6 296.9 179.0C299.1 179.5 301.4 181.3 303.6 181.3C307.8 181.3 312.0 176.8 316.2 177.3C320.4 177.7 324.6 183.8 328.8 183.8" fill="none" stroke="#ff1010" stroke-width="0.85" stroke-dasharray="3.2 5.4" stroke-dashoffset="0.3"/>
<path d="M208.8 181.3C212.4 181.3 216.0 178.7 219.7 177.4C223.3 176.0 226.9 173.2 230.5 173.2C232.8 173.2 235.2 168.2 237.5 167.8C239.8 167.4 242.2 170.7 244.5 170.7C248.5 170.7 252.6 172.7 256.6 173.0C260.7 173.3 264.8 172.3 268.8 172.3C272.4 172.3 275.9 171.6 279.5 172.4C283.1 173.1 286.6 176.6 290.2 176.6C292.4 176.6 294.7 177.3 296.9 176.7C299.1 176.1 301.4 173.1 303.6 173.1C307.8 173.1 312.0 169.4 316.2 169.1C320.4 168.8 324.6 171.3 328.8 171.3" fill="none" stroke="#7c03fe" stroke-width="0.85" />
<path d="M208.8 181.3C212.4 181.3 216.0 178.7 219.7 177.4C223.3 176.0 226.9 173.2 230.5 173.2C232.8 173.2 235.2 168.2 237.5 167.8C239.8 167.4 242.2 170.7 244.5 170.7C248.5 170.7 252.6 172.7 256.6 173.0C260.7 173.3 264.8 172.3 268.8 172.3C272.4 172.3 275.9 171.6 279.5 172.4C283.1 173.1 286.6 176.6 290.2 176.6C292.4 176.6 294.7 177.3 296.9 176.7C299.1 176.1 301.4 173.1 303.6 173.1C307.8 173.1 312.0 169.4 316.2 169.1C320.4 168.8 324.6 171.3 328.8 171.3" fill="none" stroke="#ff1010" stroke-width="0.85" stroke-dasharray="3.5 3.1" stroke-dashoffset="1.0"/>
<path d="M208.8 180.9C212.4 180.9 216.0 175.1 219.7 175.2C223.3 175.4 226.9 181.7 230.5 181.7C232.8 181.7 235.2 185.0 237.5 185.1C239.8 185.2 242.2 182.3 244.5 182.3C248.5 182.3 252.6 176.7 256.6 176.6C260.7 176.5 264.8 181.6 268.8 181.6C272.4 181.6 275.9 179.0 279.5 179.5C283.1 180.0 286.6 184.5 290.2 184.5C292.4 184.5 294.7 173.8 296.9 171.5C299.1 169.2 301.4 170.6 303.6 170.6C307.8 170.6 312.0 175.1 316.2 174.9C320.4 174.8 324.6 169.8 328.8 169.8" fill="none" stroke="#ff1e0f" stroke-width="0.85" />
<path d="M208.8 174.3C212.4 174.3 216.0 181.6 219.7 183.3C223.3 184.9 226.9 184.1 230.5 184.1C232.8 184.1 235.2 180.4 237.5 180.3C239.8 180.1 242.2 183.2 244.5 183.2C248.5 183.2 252.6 175.9 256.6 176.0C260.7 176.1 264.8 183.6 268.8 183.6C272.4 183.6 275.9 182.0 279.5 181.9C283.1 181.7 286.6 182.9 290.2 182.9C292.4 182.9 294.7 177.0 296.9 177.8C299.1 178.7 301.4 188.0 303.6 188.0C307.8 188.0 312.0 189.1 316.2 189.1C320.4 189.2 324.6 188.4 328.8 188.4" fill="none" stroke="#750efe" stroke-width="0.85" />
<path d="M208.8 186.9C212.4 186.9 216.0 184.1 219.7 183.0C223.3 182.0 226.9 180.4 230.5 180.4C232.8 180.4 235.2 177.5 237.5 178.7C239.8 179.8 242.2 187.4 244.5 187.4C248.5 187.4 252.6 190.6 256.6 190.3C260.7 190.0 264.8 185.9 268.8 185.9C272.4 185.9 275.9 182.0 279.5 180.7C283.1 179.5 286.6 178.3 290.2 178.3C292.4 178.3 294.7 184.6 296.9 186.6C299.1 188.5 301.4 190.0 303.6 190.0C307.8 190.0 312.0 191.4 316.2 190.2C320.4 189.0 324.6 182.9 328.8 182.9" fill="none" stroke="#780bfe" stroke-width="0.85" />
<path d="M208.8 186.9C212.4 186.9 216.0 184.1 219.7 183.0C223.3 182.0 226.9 180.4 230.5 180.4C232.8 180.4 235.2 177.5 237.5 178.7C239.8 179.8 242.2 187.4 244.5 187.4C248.5 187.4 252.6 190.6 256.6 190.3C260.7 190.0 264.8 185.9 268.8 185.9C272.4 185.9 275.9 182.0 279.5 180.7C283.1 179.5 286.6 178.3 290.2 178.3C292.4 178.3 294.7 184.6 296.9 186.6C299.1 188.5 301.4 190.0 303.6 190.0C307.8 190.0 312.0 191.4 316.2 190.2C320.4 189.0 324.6 182.9 328.8 182.9" fill="none" stroke="#ff1010" stroke-width="0.85" stroke-dasharray="2.7 7.0" stroke-dashoffset="7.4"/>
<path d="M208.8 152.5C212.4 152.5 216.0 154.4 219.7 155.3C223.3 156.1 226.9 157.8 230.5 157.8C232.8 157.8 235.2 160.9 237.5 160.0C239.8 159.2 242.2 152.5 244.5 152.5C248.5 152.5 252.6 150.2 256.6 151.0C260.7 151.8 264.8 157.2 268.8 157.2C272.4 157.2 275.9 153.9 279.5 153.6C283.1 153.4 286.6 155.4 290.2 155.4C292.4 155.4 294.7 155.5 296.9 155.2C299.1 154.9 301.4 153.6 303.6 153.6C307.8 153.6 312.0 159.7 316.2 161.3C320.4 162.9 324.6 163.3 328.8 163.3" fill="none" stroke="#7d03fe" stroke-width="0.85" />
<path d="M208.8 152.5C212.4 152.5 216.0 154.4 219.7 155.3C223.3 156.1 226.9 157.8 230.5 157.8C232.8 157.8 235.2 160.9 237.5 160.0C239.8 159.2 242.2 152.5 244.5 152.5C248.5 152.5 252.6 150.2 256.6 151.0C260.7 151.8 264.8 157.2 268.8 157.2C272.4 157.2 275.9 153.9 279.5 153.6C283.1 153.4 286.6 155.4 290.2 155.4C292.4 155.4 294.7 155.5 296.9 155.2C299.1 154.9 301.4 153.6 303.6 153.6C307.8 153.6 312.0 159.7 316.2 161.3C320.4 162.9 324.6 163.3 328.8 163.3" fill="none" stroke="#ff1010" stroke-width="0.85" stroke-dasharray="3.7 7.8" stroke-dashoffset="5.2"/>
<path d="M208.8 192.0C212.4 192.0 216.0 191.8 219.7 190.6C223.3 189.4 226.9 184.7 230.5 184.7C232.8 184.7 235.2 181.3 237.5 181.5C239.8 181.8 242.2 186.1 244.5 186.1C248.5 186.1 252.6 183.8 256.6 184.8C260.7 185.8 264.8 192.0 268.8 192.0C272.4 192.0 275.9 186.9 279.5 186.6C283.1 186.2 286.6 190.0 290.2 190.0C292.4 190.0 294.7 189.7 296.9 188.7C299.1 187.8 301.4 184.2 303.6 184.2C307.8 184.2 312.0 184.0 316.2 183.4C320.4 182.7 324.6 180.4 328.8 180.4" fill="none" stroke="#563ffd" stroke-width="0.85" />
<path d="M208.8 192.0C212.4 192.0 216.0 191.8 219.7 190.6C223.3 189.4 226.9 184.7 230.5 184.7C232.8 184.7 235.2 181.3 237.5 181.5C239.8 181.8 242.2 186.1 244.5 186.1C248.5 186.1 252.6 183.8 256.6 184.8C260.7 185.8 264.8 192.0 268.8 192.0C272.4 192.0 275.9 186.9 279.5 186.6C283.1 186.2 286.6 190.0 290.2 190.0C292.4 190.0 294.7 189.7 296.9 188.7C299.1 187.8 301.4 184.2 303.6 184.2C307.8 184.2 312.0 184.0 316.2 183.4C320.4 182.7 324.6 180.4 328.8 180.4" fill="none" stroke="#8a30ff" stroke-width="0.85" stroke-dasharray="4.7 3.7" stroke-dashoffset="4.7"/>
<path d="M208.8 186.2C212.4 186.2 216.0 188.8 219.7 188.3C223.3 187.7 226.9 183.0 230.5 183.0C232.8 183.0 235.2 175.1 237.5 175.0C239.8 174.9 242.2 182.3 244.5 182.3C248.5 182.3 252.6 178.0 256.6 177.8C260.7 177.5 264.8 180.7 268.8 180.7C272.4 180.7 275.9 180.6 279.5 182.8C283.1 184.9 286.6 193.4 290.2 193.4C292.4 193.4 294.7 187.2 296.9 186.2C299.1 185.3 301.4 187.7 303.6 187.7C307.8 187.7 312.0 182.5 316.2 183.7C320.4 185.0 324.6 195.0 328.8 195.0" fill="none" stroke="#ff1a0d" stroke-width="0.85" />
<path d="M208.8 186.2C212.4 186.2 216.0 188.8 219.7 188.3C223.3 187.7 226.9 183.0 230.5 183.0C232.8 183.0 235.2 175.1 237.5 175.0C239.8 174.9 242.2 182.3 244.5 182.3C248.5 182.3 252.6 178.0 256.6 177.8C260.7 177.5 264.8 180.7 268.8 180.7C272.4 180.7 275.9 180.6 279.5 182.8C283.1 184.9 286.6 193.4 290.2 193.4C292.4 193.4 294.7 187.2 296.9 186.2C299.1 185.3 301.4 187.7 303.6 187.7C307.8 187.7 312.0 182.5 316.2 183.7C320.4 185.0 324.6 195.0 328.8 195.0" fill="none" stroke="#8a30ff" stroke-width="0.85" stroke-dasharray="3.6 7.9" stroke-dashoffset="0.9"/>
<path d="M208.8 171.5C212.4 171.5 216.0 161.2 219.7 159.3C223.3 157.5 226.9 160.5 230.5 160.5C232.8 160.5 235.2 159.2 237.5 159.9C239.8 160.7 242.2 165.0 244.5 165.0C248.5 165.0 252.6 165.4 256.6 164.7C260.7 164.0 264.8 160.8 268.8 160.8C272.4 160.8 275.9 164.2 279.5 166.0C283.1 167.8 286.6 171.4 290.2 171.4C292.4 171.4 294.7 167.6 296.9 167.7C299.1 167.8 301.4 172.1 303.6 172.1C307.8 172.1 312.0 167.5 316.2 166.4C320.4 165.3 324.6 165.5 328.8 165.5" fill="none" stroke="#ff170b" stroke-width="0.85" />
<path d="M208.8 173.3C212.4 173.3 216.0 164.6 219.7 163.7C223.3 162.8 226.9 167.9 230.5 167.9C232.8 167.9 235.2 172.2 237.5 173.8C239.8 175.4 242.2 177.7 244.5 177.7C248.5 177.7 252.6 178.3 256.6 177.4C260.7 176.5 264.8 172.4 268.8 172.4C272.4 172.4 275.9 164.9 279.5 164.8C283.1 164.7 286.6 171.8 290.2 171.8C292.4 171.8 294.7 171.0 296.9 172.1C299.1 173.3 301.4 178.8 303.6 178.8C307.8 178.8 312.0 180.3 316.2 178.9C320.4 177.5 324.6 170.2 328.8 170.2" fill="none" stroke="#7a08fe" stroke-width="0.85" />
<path d="M208.8 173.3C212.4 173.3 216.0 164.6 219.7 163.7C223.3 162.8 226.9 167.9 230.5 167.9C232.8 167.9 235.2 172.2 237.5 173.8C239.8 175.4 242.2 177.7 244.5 177.7C248.5 177.7 252.6 178.3 256.6 177.4C260.7 176.5 264.8 172.4 268.8 172.4C272.4 172.4 275.9 164.9 279.5 164.8C283.1 164.7 286.6 171.8 290.2 171.8C292.4 171.8 294.7 171.0 296.9 172.1C299.1 173.3 301.4 178.8 303.6 178.8C307.8 178.8 312.0 180.3 316.2 178.9C320.4 177.5 324.6 170.2 328.8 170.2" fill="none" stroke="#ff1010" stroke-width="0.85" stroke-dasharray="2.9 5.9" stroke-dashoffset="7.3"/>
<path d="M208.8 190.1C212.4 190.1 216.0 191.4 219.7 189.8C223.3 188.1 226.9 180.0 230.5 180.0C232.8 180.0 235.2 182.5 237.5 181.4C239.8 180.4 242.2 173.9 244.5 173.9C248.5 173.9 252.6 169.4 256.6 170.2C260.7 171.0 264.8 178.8 268.8 178.8C272.4 178.8 275.9 172.1 279.5 172.1C283.1 172.2 286.6 179.2 290.2 179.2C292.4 179.2 294.7 183.1 296.9 182.2C299.1 181.2 301.4 173.6 303.6 173.6C307.8 173.6 312.0 168.1 316.2 168.2C320.4 168.3 324.6 174.1 328.8 174.1" fill="none" stroke="#7c04fe" stroke-width="0.85" />
<path d="M208.8 190.1C212.4 190.1 216.0 191.4 219.7 189.8C223.3 188.1 226.9 180.0 230.5 180.0C232.8 180.0 235.2 182.5 237.5 181.4C239.8 180.4 242.2 173.9 244.5 173.9C248.5 173.9 252.6 169.4 256.6 170.2C260.7 171.0 264.8 178.8 268.8 178.8C272.4 178.8 275.9 172.1 279.5 172.1C283.1 172.2 286.6 179.2 290.2 179.2C292.4 179.2 294.7 183.1 296.9 182.2C299.1 181.2 301.4 173.6 303.6 173.6C307.8 173.6 312.0 168.1 316.2 168.2C320.4 168.3 324.6 174.1 328.8 174.1" fill="none" stroke="#ff1010" stroke-width="0.85" stroke-dasharray="2.1 5.3" stroke-dashoffset="6.2"/>
<path d="M208.8 160.7C212.4 160.7 216.0 160.6 219.7 159.5C223.3 158.4 226.9 154.3 230.5 154.3C232.8 154.3 235.2 151.2 237.5 153.1C239.8 155.1 242.2 166.1 244.5 166.1C248.5 166.1 252.6 169.6 256.6 170.0C260.7 170.3 264.8 168.1 268.8 168.1C272.4 168.1 275.9 164.2 279.5 164.1C283.1 164.0 286.6 167.6 290.2 167.6C292.4 167.6 294.7 170.1 296.9 169.0C299.1 168.0 301.4 161.5 303.6 161.5C307.8 161.5 312.0 155.1 316.2 153.9C320.4 152.8 324.6 154.4 328.8 154.4" fill="none" stroke="#7909fe" stroke-width="0.85" />
<path d="M208.8 160.7C212.4 160.7 216.0 160.6 219.7 159.5C223.3 158.4 226.9 154.3 230.5 154.3C232.8 154.3 235.2 151.2 237.5 153.1C239.8 155.1 242.2 166.1 244.5 166.1C248.5 166.1 252.6 169.6 256.6 170.0C260.7 170.3 264.8 168.1 268.8 168.1C272.4 168.1 275.9 164.2 279.5 164.1C283.1 164.0 286.6 167.6 290.2 167.6C292.4 167.6 294.7 170.1 296.9 169.0C299.1 168.0 301.4 161.5 303.6 161.5C307.8 161.5 312.0 155.1 316.2 153.9C320.4 152.8 324.6 154.4 328.8 154.4" fill="none" stroke="#ff1010" stroke-width="0.85" stroke-dasharray="3.5 5.2" stroke-dashoffset="1.2"/>
<path d="M208.8 179.1C212.4 179.1 216.0 183.1 219.7 183.6C223.3 184.1 226.9 182.1 230.5 182.1C232.8 182.1 235.2 174.7 237.5 173.6C239.8 172.5 242.2 175.7 244.5 175.7C248.5 175.7 252.6 173.4 256.6 174.2C260.7 175.0 264.8 180.6 268.8 180.6C272.4 180.6 275.9 171.1 279.5 169.8C283.1 168.6 286.6 173.1 290.2 173.1C292.4 173.1 294.7 171.3 296.9 172.2C299.1 173.2 301.4 178.9 303.6 178.9C307.8 178.9 312.0 176.8 316.2 176.0C320.4 175.1 324.6 173.9 328.8 173.9" fill="none" stroke="#ff2311" stroke-width="0.85" />
<path d="M208.8 166.2C212.4 166.2 216.0 166.3 219.7 166.9C223.3 167.4 226.9 169.5 230.5 169.5C232.8 169.5 235.2 165.0 237.5 166.3C239.8 167.7 242.2 177.5 244.5 177.5C248.5 177.5 252.6 178.5 256.6 178.2C260.7 177.9 264.8 175.8 268.8 175.8C272.4 175.8 275.9 180.5 279.5 180.9C283.1 181.4 286.6 178.6 290.2 178.6C292.4 178.6 294.7 181.3 296.9 180.2C299.1 179.1 301.4 172.2 303.6 172.2C307.8 172.2 312.0 174.5 316.2 173.9C320.4 173.3 324.6 168.4 328.8 168.4" fill="none" stroke="#7510fe" stroke-width="0.85" />
<path d="M208.8 166.2C212.4 166.2 216.0 166.3 219.7 166.9C223.3 167.4 226.9 169.5 230.5 169.5C232.8 169.5 235.2 165.0 237.5 166.3C239.8 167.7 242.2 177.5 244.5 177.5C248.5 177.5 252.6 178.5 256.6 178.2C260.7 177.9 264.8 175.8 268.8 175.8C272.4 175.8 275.9 180.5 279.5 180.9C283.1 181.4 286.6 178.6 290.2 178.6C292.4 178.6 294.7 181.3 296.9 180.2C299.1 179.1 301.4 172.2 303.6 172.2C307.8 172.2 312.0 174.5 316.2 173.9C320.4 173.3 324.6 168.4 328.8 168.4" fill="none" stroke="#ff1010" stroke-width="0.85" stroke-dasharray="3.7 3.8" stroke-dashoffset="7.5"/>
<path d="M208.8 171.8C212.4 171.8 216.0 180.9 219.7 183.3C223.3 185.8 226.9 186.3 230.5 186.3C232.8 186.3 235.2 180.6 237.5 179.5C239.8 178.4 242.2 179.8 244.5 179.8C248.5 179.8 252.6 173.2 256.6 172.0C260.7 170.8 264.8 172.4 268.8 172.4C272.4 172.4 275.9 176.2 279.5 178.1C283.1 180.0 286.6 183.8 290.2 183.8C292.4 183.8 294.7 177.4 296.9 176.7C299.1 176.0 301.4 179.9 303.6 179.9C307.8 179.9 312.0 181.6 316.2 181.6C320.4 181.6 324.6 179.8 328.8 179.8" fill="none" stroke="#7c04fe" stroke-width="0.85" />
<path d="M208.8 171.8C212.4 171.8 216.0 180.9 219.7 183.3C223.3 185.8 226.9 186.3 230.5 186.3C232.8 186.3 235.2 180.6 237.5 179.5C239.8 178.4 242.2 179.8 244.5 179.8C248.5 179.8 252.6 173.2 256.6 172.0C260.7 170.8 264.8 172.4 268.8 172.4C272.4 172.4 275.9 176.2 279.5 178.1C283.1 180.0 286.6 183.8 290.2 183.8C292.4 183.8 294.7 177.4 296.9 176.7C299.1 176.0 301.4 179.9 303.6 179.9C307.8 179.9 312.0 181.6 316.2 181.6C320.4 181.6 324.6 179.8 328.8 179.8" fill="none" stroke="#ff1010" stroke-width="0.85" stroke-dasharray="2.5 5.9" stroke-dashoffset="7.3"/>
<path d="M208.8 191.2C212.4 191.2 216.0 190.2 219.7 189.4C223.3 188.5 226.9 186.1 230.5 186.1C232.8 186.1 235.2 187.5 237.5 188.2C239.8 188.9 242.2 190.3 244.5 190.3C248.5 190.3 252.6 180.2 256.6 178.8C260.7 177.4 264.8 181.9 268.8 181.9C272.4 181.9 275.9 182.0 279.5 182.1C283.1 182.2 286.6 182.5 290.2 182.5C292.4 182.5 294.7 188.9 296.9 190.5C299.1 192.1 301.4 192.2 303.6 192.2C307.8 192.2 312.0 192.8 316.2 190.8C320.4 188.9 324.6 180.6 328.8 180.6" fill="none" stroke="#7411fe" stroke-width="0.85" />
<path d="M208.8 191.2C212.4 191.2 216.0 190.2 219.7 189.4C223.3 188.5 226.9 186.1 230.5 186.1C232.8 186.1 235.2 187.5 237.5 188.2C239.8 188.9 242.2 190.3 244.5 190.3C248.5 190.3 252.6 180.2 256.6 178.8C260.7 177.4 264.8 181.9 268.8 181.9C272.4 181.9 275.9 182.0 279.5 182.1C283.1 182.2 286.6 182.5 290.2 182.5C292.4 182.5 294.7 188.9 296.9 190.5C299.1 192.1 301.4 192.2 303.6 192.2C307.8 192.2 312.0 192.8 316.2 190.8C320.4 188.9 324.6 180.6 328.8 180.6" fill="none" stroke="#ff1010" stroke-width="0.85" stroke-dasharray="4.7 6.4" stroke-dashoffset="6.5"/>
<path d="M208.8 177.3C212.4 177.3 216.0 178.4 219.7 179.1C223.3 179.8 226.9 181.6 230.5 181.6C232.8 181.6 235.2 177.1 237.5 175.3C239.8 173.5 242.2 170.8 244.5 170.8C248.5 170.8 252.6 166.9 256.6 166.7C260.7 166.6 264.8 170.0 268.8 170.0C272.4 170.0 275.9 177.3 279.5 179.0C283.1 180.7 286.6 180.3 290.2 180.3C292.4 180.3 294.7 177.0 296.9 177.4C299.1 177.7 301.4 182.5 303.6 182.5C307.8 182.5 312.0 181.5 316.2 179.6C320.4 177.6 324.6 170.8 328.8 170.8" fill="none" stroke="#7d02fe" stroke-width="0.85" />
<path d="M208.8 157.8C212.4 157.8 216.0 159.3 219.7 159.1C223.3 158.9 226.9 156.4 230.5 156.4C232.8 156.4 235.2 153.4 237.5 154.3C239.8 155.3 242.2 162.2 244.5 162.2C248.5 162.2 252.6 152.5 256.6 151.5C260.7 150.5 264.8 156.4 268.8 156.4C272.4 156.4 275.9 150.6 279.5 151.0C283.1 151.4 286.6 158.7 290.2 158.7C292.4 158.7 294.7 157.1 296.9 159.5C299.1 161.8 301.4 172.9 303.6 172.9C307.8 172.9 312.0 174.1 316.2 172.0C320.4 170.0 324.6 160.5 328.8 160.5" fill="none" stroke="#7c05fe" stroke-width="0.85" />
<path d="M208.8 157.8C212.4 157.8 216.0 159.3 219.7 159.1C223.3 158.9 226.9 156.4 230.5 156.4C232.8 156.4 235.2 153.4 237.5 154.3C239.8 155.3 242.2 162.2 244.5 162.2C248.5 162.2 252.6 152.5 256.6 151.5C260.7 150.5 264.8 156.4 268.8 156.4C272.4 156.4 275.9 150.6 279.5 151.0C283.1 151.4 286.6 158.7 290.2 158.7C292.4 158.7 294.7 157.1 296.9 159.5C299.1 161.8 301.4 172.9 303.6 172.9C307.8 172.9 312.0 174.1 316.2 172.0C320.4 170.0 324.6 160.5 328.8 160.5" fill="none" stroke="#ff1010" stroke-width="0.85" stroke-dasharray="3.9 4.6" stroke-dashoffset="1.4"/>
<path d="M208.8 179.2C212.4 179.2 216.0 182.0 219.7 180.9C223.3 179.8 226.9 172.6 230.5 172.6C232.8 172.6 235.2 173.9 237.5 174.6C239.8 175.3 242.2 176.5 244.5 176.5C248.5 176.5 252.6 172.9 256.6 171.8C260.7 170.7 264.8 169.8 268.8 169.8C272.4 169.8 275.9 169.6 279.5 170.7C283.1 171.8 286.6 176.5 290.2 176.5C292.4 176.5 294.7 175.9 296.9 174.3C299.1 172.8 301.4 167.2 303.6 167.2C307.8 167.2 312.0 172.6 316.2 175.2C320.4 177.8 324.6 183.0 328.8 183.0" fill="none" stroke="#7908fe" stroke-width="0.85" />
<path d="M208.8 179.2C212.4 179.2 216.0 182.0 219.7 180.9C223.3 179.8 226.9 172.6 230.5 172.6C232.8 172.6 235.2 173.9 237.5 174.6C239.8 175.3 242.2 176.5 244.5 176.5C248.5 176.5 252.6 172.9 256.6 171.8C260.7 170.7 264.8 169.8 268.8 169.8C272.4 169.8 275.9 169.6 279.5 170.7C283.1 171.8 286.6 176.5 290.2 176.5C292.4 176.5 294.7 175.9 296.9 174.3C299.1 172.8 301.4 167.2 303.6 167.2C307.8 167.2 312.0 172.6 316.2 175.2C320.4 177.8 324.6 183.0 328.8 183.0" fill="none" stroke="#ff1010" stroke-width="0.85" stroke-dasharray="4.2 3.9" stroke-dashoffset="2.7"/>
<path d="M208.8 163.5C212.4 163.5 216.0 169.9 219.7 171.8C223.3 173.8 226.9 175.3 230.5 175.3C232.8 175.3 235.2 165.5 237.5 163.9C239.8 162.2 242.2 165.4 244.5 165.4C248.5 165.4 252.6 168.4 256.6 169.7C260.7 171.0 264.8 173.1 268.8 173.1C272.4 173.1 275.9 172.3 279.5 170.2C283.1 168.2 286.6 160.7 290.2 160.7C292.4 160.7 294.7 162.0 296.9 164.6C299.1 167.2 301.4 176.4 303.6 176.4C307.8 176.4 312.0 167.0 316.2 165.6C320.4 164.3 324.6 168.2 328.8 168.2" fill="none" stroke="#750ffe" stroke-width="0.85" />
<path d="M208.8 157.3C212.4 157.3 216.0 162.6 219.7 164.3C223.3 166.1 226.9 167.9 230.5 167.9C232.8 167.9 235.2 166.7 237.5 164.8C239.8 162.9 242.2 156.6 244.5 156.6C248.5 156.6 252.6 159.1 256.6 158.5C260.7 157.9 264.8 153.0 268.8 153.0C272.4 153.0 275.9 152.3 279.5 154.7C283.1 157.0 286.6 167.1 290.2 167.1C292.4 167.1 294.7 169.0 296.9 168.8C299.1 168.7 301.4 166.2 303.6 166.2C307.8 166.2 312.0 168.9 316.2 167.7C320.4 166.6 324.6 159.5 328.8 159.5" fill="none" stroke="#780afe" stroke-width="0.85" />
<path d="M208.8 157.3C212.4 157.3 216.0 162.6 219.7 164.3C223.3 166.1 226.9 167.9 230.5 167.9C232.8 167.9 235.2 166.7 237.5 164.8C239.8 162.9 242.2 156.6 244.5 156.6C248.5 156.6 252.6 159.1 256.6 158.5C260.7 157.9 264.8 153.0 268.8 153.0C272.4 153.0 275.9 152.3 279.5 154.7C283.1 157.0 286.6 167.1 290.2 167.1C292.4 167.1 294.7 169.0 296.9 168.8C299.1 168.7 301.4 166.2 303.6 166.2C307.8 166.2 312.0 168.9 316.2 167.7C320.4 166.6 324.6 159.5 328.8 159.5" fill="none" stroke="#ff1010" stroke-width="0.85" stroke-dasharray="4.9 8.0" stroke-dashoffset="6.4"/>
<path d="M208.8 184.5C212.4 184.5 216.0 184.4 219.7 184.3C223.3 184.2 226.9 184.2 230.5 184.2C232.8 184.2 235.2 181.0 237.5 179.9C239.8 178.8 242.2 177.5 244.5 177.5C248.5 177.5 252.6 176.3 256.6 175.2C260.7 174.1 264.8 170.8 268.8 170.8C272.4 170.8 275.9 177.2 279.5 178.6C283.1 180.1 286.6 179.5 290.2 179.5C292.4 179.5 294.7 181.9 296.9 180.4C299.1 179.0 301.4 170.9 303.6 170.9C307.8 170.9 312.0 168.4 316.2 169.0C320.4 169.6 324.6 174.5 328.8 174.5" fill="none" stroke="#5d34fd" stroke-width="0.85" />
<path d="M208.8 184.5C212.4 184.5 216.0 184.4 219.7 184.3C223.3 184.2 226.9 184.2 230.5 184.2C232.8 184.2 235.2 181.0 237.5 179.9C239.8 178.8 242.2 177.5 244.5 177.5C248.5 177.5 252.6 176.3 256.6 175.2C260.7 174.1 264.8 170.8 268.8 170.8C272.4 170.8 275.9 177.2 279.5 178.6C283.1 180.1 286.6 179.5 290.2 179.5C292.4 179.5 294.7 181.9 296.9 180.4C299.1 179.0 301.4 170.9 303.6 170.9C307.8 170.9 312.0 168.4 316.2 169.0C320.4 169.6 324.6 174.5 328.8 174.5" fill="none" stroke="#8a30ff" stroke-width="0.85" stroke-dasharray="4.3 7.9" stroke-dashoffset="4.1"/>
<path d="M208.8 190.8C212.4 190.8 216.0 187.6 219.7 186.1C223.3 184.5 226.9 181.6 230.5 181.6C232.8 181.6 235.2 181.2 237.5 182.2C239.8 183.1 242.2 187.0 244.5 187.0C248.5 187.0 252.6 192.0 256.6 193.0C260.7 194.0 264.8 192.8 268.8 192.8C272.4 192.8 275.9 185.5 279.5 182.7C283.1 180.0 286.6 176.3 290.2 176.3C292.4 176.3 294.7 170.8 296.9 171.1C299.1 171.4 301.4 178.1 303.6 178.1C307.8 178.1 312.0 179.5 316.2 181.8C320.4 184.0 324.6 191.6 328.8 191.6" fill="none" stroke="#770cfe" stroke-width="0.85" />
<path d="M208.8 190.8C212.4 190.8 216.0 187.6 219.7 186.1C223.3 184.5 226.9 181.6 230.5 181.6C232.8 181.6 235.2 181.2 237.5 182.2C239.8 183.1 242.2 187.0 244.5 187.0C248.5 187.0 252.6 192.0 256.6 193.0C260.7 194.0 264.8 192.8 268.8 192.8C272.4 192.8 275.9 185.5 279.5 182.7C283.1 180.0 286.6 176.3 290.2 176.3C292.4 176.3 294.7 170.8 296.9 171.1C299.1 171.4 301.4 178.1 303.6 178.1C307.8 178.1 312.0 179.5 316.2 181.8C320.4 184.0 324.6 191.6 328.8 191.6" fill="none" stroke="#ff1010" stroke-width="0.85" stroke-dasharray="2.0 8.0" stroke-dashoffset="0.6"/>
<path d="M208.8 175.4C212.4 175.4 216.0 179.3 219.7 179.8C223.3 180.2 226.9 178.1 230.5 178.1C232.8 178.1 235.2 176.3 237.5 175.6C239.8 174.8 242.2 173.6 244.5 173.6C248.5 173.6 252.6 171.3 256.6 170.4C260.7 169.5 264.8 168.1 268.8 168.1C272.4 168.1 275.9 165.9 279.5 167.0C283.1 168.1 286.6 174.6 290.2 174.6C292.4 174.6 294.7 177.1 296.9 176.8C299.1 176.6 301.4 173.2 303.6 173.2C307.8 173.2 312.0 166.2 316.2 165.9C320.4 165.7 324.6 171.6 328.8 171.6" fill="none" stroke="#ff0e07" stroke-width="0.85" />
<path d="M208.8 175.4C212.4 175.4 216.0 179.3 219.7 179.8C223.3 180.2 226.9 178.1 230.5 178.1C232.8 178.1 235.2 176.3 237.5 175.6C239.8 174.8 242.2 173.6 244.5 173.6C248.5 173.6 252.6 171.3 256.6 170.4C260.7 169.5 264.8 168.1 268.8 168.1C272.4 168.1 275.9 165.9 279.5 167.0C283.1 168.1 286.6 174.6 290.2 174.6C292.4 174.6 294.7 177.1 296.9 176.8C299.1 176.6 301.4 173.2 303.6 173.2C307.8 173.2 312.0 166.2 316.2 165.9C320.4 165.7 324.6 171.6 328.8 171.6" fill="none" stroke="#8a30ff" stroke-width="0.85" stroke-dasharray="4.6 4.0" stroke-dashoffset="3.7"/>
<path d="M208.8 169.2C212.4 169.2 216.0 164.8 219.7 165.2C223.3 165.6 226.9 171.6 230.5 171.6C232.8 171.6 235.2 162.6 237.5 161.4C239.8 160.1 242.2 164.1 244.5 164.1C248.5 164.1 252.6 158.3 256.6 159.4C260.7 160.4 264.8 170.3 268.8 170.3C272.4 170.3 275.9 178.3 279.5 179.6C283.1 180.9 286.6 178.1 290.2 178.1C292.4 178.1 294.7 178.6 296.9 176.1C299.1 173.7 301.4 163.2 303.6 163.2C307.8 163.2 312.0 156.2 316.2 156.4C320.4 156.6 324.6 164.5 328.8 164.5" fill="none" stroke="#780bfe" stroke-width="0.85" />
<path d="M208.8 169.2C212.4 169.2 216.0 164.8 219.7 165.2C223.3 165.6 226.9 171.6 230.5 171.6C232.8 171.6 235.2 162.6 237.5 161.4C239.8 160.1 242.2 164.1 244.5 164.1C248.5 164.1 252.6 158.3 256.6 159.4C260.7 160.4 264.8 170.3 268.8 170.3C272.4 170.3 275.9 178.3 279.5 179.6C283.1 180.9 286.6 178.1 290.2 178.1C292.4 178.1 294.7 178.6 296.9 176.1C299.1 173.7 301.4 163.2 303.6 163.2C307.8 163.2 312.0 156.2 316.2 156.4C320.4 156.6 324.6 164.5 328.8 164.5" fill="none" stroke="#ff1010" stroke-width="0.85" stroke-dasharray="4.6 3.6" stroke-dashoffset="5.1"/>
<path d="M208.8 185.4C212.4 185.4 216.0 175.1 219.7 173.7C223.3 172.4 226.9 177.1 230.5 177.1C232.8 177.1 235.2 178.8 237.5 178.5C239.8 178.2 242.2 175.6 244.5 175.6C248.5 175.6 252.6 184.2 256.6 185.6C260.7 187.0 264.8 184.2 268.8 184.2C272.4 184.2 275.9 179.9 279.5 178.8C283.1 177.8 286.6 178.2 290.2 178.2C292.4 178.2 294.7 180.1 296.9 181.0C299.1 181.9 301.4 183.8 303.6 183.8C307.8 183.8 312.0 181.2 316.2 181.6C320.4 182.0 324.6 186.2 328.8 186.2" fill="none" stroke="#7c04fe" stroke-width="0.85" />
<path d="M208.8 185.4C212.4 185.4 216.0 175.1 219.7 173.7C223.3 172.4 226.9 177.1 230.5 177.1C232.8 177.1 235.2 178.8 237.5 178.5C239.8 178.2 242.2 175.6 244.5 175.6C248.5 175.6 252.6 184.2 256.6 185.6C260.7 187.0 264.8 184.2 268.8 184.2C272.4 184.2 275.9 179.9 279.5 178.8C283.1 177.8 286.6 178.2 290.2 178.2C292.4 178.2 294.7 180.1 296.9 181.0C299.1 181.9 301.4 183.8 303.6 183.8C307.8 183.8 312.0 181.2 316.2 181.6C320.4 182.0 324.6 186.2 328.8 186.2" fill="none" stroke="#ff1010" stroke-width="0.85" stroke-dasharray="3.5 5.2" stroke-dashoffset="4.6"/>
<path d="M208.8 175.1C212.4 175.1 216.0 168.3 219.7 167.1C223.3 165.9 226.9 168.0 230.5 168.0C232.8 168.0 235.2 165.5 237.5 165.0C239.8 164.6 242.2 165.4 244.5 165.4C248.5 165.4 252.6 160.1 256.6 161.1C260.7 162.2 264.8 171.8 268.8 171.8C272.4 171.8 275.9 170.7 279.5 168.5C283.1 166.4 286.6 159.1 290.2 159.1C292.4 159.1 294.7 170.0 296.9 172.6C299.1 175.3 301.4 174.9 303.6 174.9C307.8 174.9 312.0 174.8 316.2 174.5C320.4 174.3 324.6 173.4 328.8 173.4" fill="none" stroke="#593afd" stroke-width="0.85" />
<path d="M208.8 193.7C212.4 193.7 216.0 191.3 219.7 189.9C223.3 188.5 226.9 185.3 230.5 185.3C232.8 185.3 235.2 180.0 237.5 180.2C239.8 180.3 242.2 186.2 244.5 186.2C248.5 186.2 252.6 180.2 256.6 178.8C260.7 177.4 264.8 177.6 268.8 177.6C272.4 177.6 275.9 179.3 279.5 182.1C283.1 184.8 286.6 194.1 290.2 194.1C292.4 194.1 294.7 181.1 296.9 178.5C299.1 175.9 301.4 178.6 303.6 178.6C307.8 178.6 312.0 179.2 316.2 180.6C320.4 182.1 324.6 187.5 328.8 187.5" fill="none" stroke="#760efe" stroke-width="0.85" />
<path d="M208.8 195.0C212.4 195.0 216.0 191.9 219.7 190.1C223.3 188.3 226.9 184.0 230.5 184.0C232.8 184.0 235.2 182.5 237.5 183.6C239.8 184.6 242.2 190.4 244.5 190.4C248.5 190.4 252.6 195.7 256.6 195.9C260.7 196.2 264.8 191.8 268.8 191.8C272.4 191.8 275.9 190.2 279.5 190.5C283.1 190.8 286.6 193.6 290.2 193.6C292.4 193.6 294.7 191.6 296.9 189.6C299.1 187.7 301.4 181.9 303.6 181.9C307.8 181.9 312.0 176.0 316.2 176.6C320.4 177.2 324.6 185.3 328.8 185.3" fill="none" stroke="#7313fe" stroke-width="0.85" />
<path d="M208.8 178.4C212.4 178.4 216.0 183.0 219.7 183.5C223.3 183.9 226.9 181.1 230.5 181.1C232.8 181.1 235.2 177.1 237.5 174.4C239.8 171.8 242.2 165.3 244.5 165.3C248.5 165.3 252.6 163.8 256.6 163.7C260.7 163.6 264.8 164.7 268.8 164.7C272.4 164.7 275.9 162.3 279.5 164.0C283.1 165.8 286.6 175.3 290.2 175.3C292.4 175.3 294.7 176.4 296.9 177.4C299.1 178.3 301.4 181.2 303.6 181.2C307.8 181.2 312.0 174.4 316.2 171.5C320.4 168.7 324.6 163.9 328.8 163.9" fill="none" stroke="#ff0302" stroke-width="0.85" />
<path d="M208.8 167.9C212.4 167.9 216.0 161.9 219.7 161.9C223.3 161.8 226.9 167.5 230.5 167.5C232.8 167.5 235.2 172.1 237.5 173.1C239.8 174.1 242.2 173.6 244.5 173.6C248.5 173.6 252.6 167.0 256.6 167.2C260.7 167.3 264.8 174.4 268.8 174.4C272.4 174.4 275.9 177.5 279.5 177.2C283.1 176.9 286.6 172.8 290.2 172.8C292.4 172.8 294.7 168.4 296.9 165.9C299.1 163.4 301.4 157.7 303.6 157.7C307.8 157.7 312.0 160.9 316.2 162.0C320.4 163.1 324.6 164.3 328.8 164.3" fill="none" stroke="#4f49fc" stroke-width="0.85" />
<path d="M208.8 181.6C212.4 181.6 216.0 185.2 219.7 185.2C223.3 185.1 226.9 181.1 230.5 181.1C232.8 181.1 235.2 175.5 237.5 174.1C239.8 172.6 242.2 172.2 244.5 172.2C248.5 172.2 252.6 175.4 256.6 175.9C260.7 176.4 264.8 175.3 268.8 175.3C272.4 175.3 275.9 181.5 279.5 182.9C283.1 184.4 286.6 184.1 290.2 184.1C292.4 184.1 294.7 186.1 296.9 185.3C299.1 184.5 301.4 179.2 303.6 179.2C307.8 179.2 312.0 174.7 316.2 174.8C320.4 174.9 324.6 179.8 328.8 179.8" fill="none" stroke="#7909fe" stroke-width="0.85" />
<path d="M208.8 156.2C212.4 156.2 216.0 156.1 219.7 156.2C223.3 156.4 226.9 157.2 230.5 157.2C232.8 157.2 235.2 156.2 237.5 157.8C239.8 159.4 242.2 166.9 244.5 166.9C248.5 166.9 252.6 163.7 256.6 163.7C260.7 163.7 264.8 166.9 268.8 166.9C272.4 166.9 275.9 169.9 279.5 168.7C283.1 167.5 286.6 159.7 290.2 159.7C292.4 159.7 294.7 165.4 296.9 166.1C299.1 166.7 301.4 163.7 303.6 163.7C307.8 163.7 312.0 156.4 316.2 155.9C320.4 155.4 324.6 160.7 328.8 160.7" fill="none" stroke="#ff0502" stroke-width="0.85" />
<path d="M208.8 156.2C212.4 156.2 216.0 156.1 219.7 156.2C223.3 156.4 226.9 157.2 230.5 157.2C232.8 157.2 235.2 156.2 237.5 157.8C239.8 159.4 242.2 166.9 244.5 166.9C248.5 166.9 252.6 163.7 256.6 163.7C260.7 163.7 264.8 166.9 268.8 166.9C272.4 166.9 275.9 169.9 279.5 168.7C283.1 167.5 286.6 159.7 290.2 159.7C292.4 159.7 294.7 165.4 296.9 166.1C299.1 166.7 301.4 163.7 303.6 163.7C307.8 163.7 312.0 156.4 316.2 155.9C320.4 155.4 324.6 160.7 328.8 160.7" fill="none" stroke="#8a30ff" stroke-width="0.85" stroke-dasharray="3.9 6.0" stroke-dashoffset="4.8"/>
<path d="M208.8 181.2C212.4 181.2 216.0 185.6 219.7 187.7C223.3 189.8 226.9 193.9 230.5 193.9C232.8 193.9 235.2 195.9 237.5 194.1C239.8 192.3 242.2 183.1 244.5 183.1C248.5 183.1 252.6 176.7 256.6 176.1C260.7 175.5 264.8 179.8 268.8 179.8C272.4 179.8 275.9 178.4 279.5 179.1C283.1 179.8 286.6 183.8 290.2 183.8C292.4 183.8 294.7 185.1 296.9 185.8C299.1 186.4 301.4 187.7 303.6 187.7C307.8 187.7 312.0 189.7 316.2 190.6C320.4 191.4 324.6 192.9 328.8 192.9" fill="none" stroke="#790afe" stroke-width="0.85" />
<path d="M208.8 181.2C212.4 181.2 216.0 185.6 219.7 187.7C223.3 189.8 226.9 193.9 230.5 193.9C232.8 193.9 235.2 195.9 237.5 194.1C239.8 192.3 242.2 183.1 244.5 183.1C248.5 183.1 252.6 176.7 256.6 176.1C260.7 175.5 264.8 179.8 268.8 179.8C272.4 179.8 275.9 178.4 279.5 179.1C283.1 179.8 286.6 183.8 290.2 183.8C292.4 183.8 294.7 185.1 296.9 185.8C299.1 186.4 301.4 187.7 303.6 187.7C307.8 187.7 312.0 189.7 316.2 190.6C320.4 191.4 324.6 192.9 328.8 192.9" fill="none" stroke="#ff1010" stroke-width="0.85" stroke-dasharray="4.3 7.0" stroke-dashoffset="0.6"/>
<path d="M208.8 176.4C212.4 176.4 216.0 179.9 219.7 182.0C223.3 184.0 226.9 188.6 230.5 188.6C232.8 188.6 235.2 191.6 237.5 191.4C239.8 191.3 242.2 187.5 244.5 187.5C248.5 187.5 252.6 180.0 256.6 179.0C260.7 178.0 264.8 181.6 268.8 181.6C272.4 181.6 275.9 181.1 279.5 180.5C283.1 179.8 286.6 177.9 290.2 177.9C292.4 177.9 294.7 175.2 296.9 175.7C299.1 176.2 301.4 180.9 303.6 180.9C307.8 180.9 312.0 175.7 316.2 176.8C320.4 177.9 324.6 187.5 328.8 187.5" fill="none" stroke="#ff2311" stroke-width="0.85" />
<path d="M208.8 176.4C212.4 176.4 216.0 179.9 219.7 182.0C223.3 184.0 226.9 188.6 230.5 188.6C232.8 188.6 235.2 191.6 237.5 191.4C239.8 191.3 242.2 187.5 244.5 187.5C248.5 187.5 252.6 180.0 256.6 179.0C260.7 178.0 264.8 181.6 268.8 181.6C272.4 181.6 275.9 181.1 279.5 180.5C283.1 179.8 286.6 177.9 290.2 177.9C292.4 177.9 294.7 175.2 296.9 175.7C299.1 176.2 301.4 180.9 303.6 180.9C307.8 180.9 312.0 175.7 316.2 176.8C320.4 177.9 324.6 187.5 328.8 187.5" fill="none" stroke="#8a30ff" stroke-width="0.85" stroke-dasharray="2.1 7.9" stroke-dashoffset="2.9"/>
<path d="M208.8 182.6C212.4 182.6 216.0 187.2 219.7 187.5C223.3 187.7 226.9 184.2 230.5 184.2C232.8 184.2 235.2 176.0 237.5 175.2C239.8 174.4 242.2 179.5 244.5 179.5C248.5 179.5 252.6 189.5 256.6 191.6C260.7 193.6 264.8 192.0 268.8 192.0C272.4 192.0 275.9 188.7 279.5 186.5C283.1 184.3 286.6 178.8 290.2 178.8C292.4 178.8 294.7 183.4 296.9 185.6C299.1 187.9 301.4 192.3 303.6 192.3C307.8 192.3 312.0 191.1 316.2 190.6C320.4 190.0 324.6 189.0 328.8 189.0" fill="none" stroke="#7313fe" stroke-width="0.85" />
<path d="M208.8 182.0C212.4 182.0 216.0 180.5 219.7 181.7C223.3 182.8 226.9 189.0 230.5 189.0C232.8 189.0 235.2 191.6 237.5 192.1C239.8 192.6 242.2 192.1 244.5 192.1C248.5 192.1 252.6 193.3 256.6 191.8C260.7 190.2 264.8 182.8 268.8 182.8C272.4 182.8 275.9 193.0 279.5 195.1C283.1 197.2 286.6 195.5 290.2 195.5C292.4 195.5 294.7 190.5 296.9 190.1C299.1 189.7 301.4 193.0 303.6 193.0C307.8 193.0 312.0 192.9 316.2 191.0C320.4 189.1 324.6 181.6 328.8 181.6" fill="none" stroke="#7a07fe" stroke-width="0.85" />
<path d="M208.8 182.0C212.4 182.0 216.0 180.5 219.7 181.7C223.3 182.8 226.9 189.0 230.5 189.0C232.8 189.0 235.2 191.6 237.5 192.1C239.8 192.6 242.2 192.1 244.5 192.1C248.5 192.1 252.6 193.3 256.6 191.8C260.7 190.2 264.8 182.8 268.8 182.8C272.4 182.8 275.9 193.0 279.5 195.1C283.1 197.2 286.6 195.5 290.2 195.5C292.4 195.5 294.7 190.5 296.9 190.1C299.1 189.7 301.4 193.0 303.6 193.0C307.8 193.0 312.0 192.9 316.2 191.0C320.4 189.1 324.6 181.6 328.8 181.6" fill="none" stroke="#ff1010" stroke-width="0.85" stroke-dasharray="2.3 3.2" stroke-dashoffset="3.4"/>
</g>
<defs><clipPath id="cd"><rect x="328.8" y="30" width="44.2" height="157.7"/></clipPath></defs>
<g clip-path="url(#cd)">
<path d="M328.8 30 L373 30 L373 60.6 L358 61.2 L345 63.5 L333 65.9 L362 62.2 L363 62.8 L335 66.5 L328.8 66.8 Z" fill="#d9d9d9" stroke="#777" stroke-width="0.6"/>
<path d="M328.8 30 L341 30 L341 31.2 L335.5 31.8 L334 36 L335.5 40 L333.5 46 L335 50 L336.5 54 L338 57 L343 59 L345.5 61 L340 62.5 L334 64 L331 66 L328.8 66 Z" fill="#ff00ff"/>
<path d="M328.8 67.5 L342 68.3 L358.4 68.9 L342 69.9 L328.8 70.6 Z" fill="#999"/>
<path d="M328.8 67.5 L342 68.3 L342 69.9 L328.8 70.6 Z" fill="#ff00ff"/>
<path d="M328.8 78.8 L348 79.8 L365.7 80.4 L348 81.3 L328.8 82.3 Z" fill="#999"/>
<path d="M328.8 78.8 L348 79.8 L348 81.3 L328.8 82.3 Z" fill="#ff00ff"/>
<line x1="328.8" y1="78.6" x2="373" y2="78.6" stroke="#aaa" stroke-width="0.5" />
<path d="M328.8 139.3 L335 140.6 L338 142 L340 143.2 L344 143.6 L341 146.2 L344.5 147 L342 149.4 L345 150.5 L352 151.5 L360 152 L373 152.2 L373 187.7 L328.8 187.7 Z" fill="#d9d9d9" stroke="#666" stroke-width="0.6"/>
<path d="M328.8 148 L331.5 150 L330.5 160 L331.5 170 L330.5 187.7 L328.8 187.7 Z" fill="#ff00ff"/>
</g>
<rect x="333.5" y="33.3" width="38.9" height="10.9" rx="1.5" fill="#fff"/>
<line x1="336.3" y1="38.8" x2="342.1" y2="38.8" stroke="#ff00ff" stroke-width="1.3" />
<text x="343.9" y="41.3" font-size="6.4" font-weight="bold" fill="#222" text-anchor="start" >Re PDOS</text>
<line x1="350.5" y1="30" x2="350.5" y2="31.8" stroke="#777" stroke-width="0.6" />
<line x1="350.5" y1="187.7" x2="350.5" y2="185.9" stroke="#777" stroke-width="0.6" />
<line x1="363.0" y1="30" x2="363.0" y2="31.8" stroke="#777" stroke-width="0.6" />
<line x1="363.0" y1="187.7" x2="363.0" y2="185.9" stroke="#777" stroke-width="0.6" />
<line x1="246.2" y1="70.10000000000001" x2="246.2" y2="136.0" stroke="#f7b500" stroke-width="1.3" />
<path d="M246.2 65.9L244.2 70.10000000000001L248.2 70.10000000000001Z" fill="#f7b500"/>
<path d="M246.2 140.2L244.2 136.0L248.2 136.0Z" fill="#f7b500"/>
<line x1="301.2" y1="70.4" x2="301.2" y2="134.5" stroke="#f7b500" stroke-width="1.3" />
<path d="M301.2 66.2L299.2 70.4L303.2 70.4Z" fill="#f7b500"/>
<path d="M301.2 138.7L299.2 134.5L303.2 134.5Z" fill="#f7b500"/>
<line x1="306.8" y1="70" x2="306.8" y2="138" stroke="#ff7070" stroke-width="0.9"/>
<path d="M304.6 73 L306.8 69.3 L309 73" fill="none" stroke="#ff7070" stroke-width="0.9"/>
<path d="M304.6 135 L306.8 138.7 L309 135" fill="none" stroke="#ff7070" stroke-width="0.9"/>
<text x="247.3" y="107.6" font-size="9.3" font-weight="normal" fill="#f7b500" text-anchor="start" stroke="#f7b500" stroke-width="0.35">A</text>
<text x="309.0" y="99.7" font-size="9.4" font-weight="normal" fill="#ff7078" text-anchor="start" >ReX</text>
<rect x="328.8" y="30.0" width="44.19999999999999" height="157.7" fill="none" stroke="#777" stroke-width="0.8"/>
<rect x="208.8" y="30.0" width="120.0" height="157.7" fill="none" stroke="#888" stroke-width="0.8"/>
<text x="196.4" y="14" font-size="12.5" font-weight="bold" fill="#000" text-anchor="start" >b</text>
<text x="258.5" y="19.2" font-size="10" font-weight="normal" fill="#222" text-anchor="start" >Re doped WSe<tspan font-size="6.5" dy="2">2</tspan></text>
<text x="205.8" y="34.8" font-size="7.8" font-weight="normal" fill="#222" text-anchor="end" >1</text>
<line x1="208.8" y1="32" x2="210.4" y2="32" stroke="#777" stroke-width="0.7" />
<text x="205.8" y="57.099999999999994" font-size="7.8" font-weight="normal" fill="#222" text-anchor="end" >0.5</text>
<line x1="208.8" y1="54.3" x2="210.4" y2="54.3" stroke="#777" stroke-width="0.7" />
<text x="205.8" y="79.89999999999999" font-size="7.8" font-weight="normal" fill="#222" text-anchor="end" >0</text>
<line x1="208.8" y1="77.1" x2="210.4" y2="77.1" stroke="#777" stroke-width="0.7" />
<text x="205.8" y="105.1" font-size="7.8" font-weight="normal" fill="#222" text-anchor="end" >-0.5</text>
<line x1="208.8" y1="102.3" x2="210.4" y2="102.3" stroke="#777" stroke-width="0.7" />
<text x="205.8" y="129.6" font-size="7.8" font-weight="normal" fill="#222" text-anchor="end" >-1</text>
<line x1="208.8" y1="126.8" x2="210.4" y2="126.8" stroke="#777" stroke-width="0.7" />
<text x="205.8" y="154.5" font-size="7.8" font-weight="normal" fill="#222" text-anchor="end" >-1.5</text>
<line x1="208.8" y1="151.7" x2="210.4" y2="151.7" stroke="#777" stroke-width="0.7" />
<text x="205.8" y="178.9" font-size="7.8" font-weight="normal" fill="#222" text-anchor="end" >-2</text>
<line x1="208.8" y1="176.1" x2="210.4" y2="176.1" stroke="#777" stroke-width="0.7" />
<text x="209.5" y="196.3" font-size="7.5" font-weight="normal" fill="#222" text-anchor="middle" >Γ</text>
<text x="231.2" y="196.3" font-size="7.5" font-weight="normal" fill="#222" text-anchor="middle" >M</text>
<text x="244.5" y="196.3" font-size="7.5" font-weight="normal" fill="#222" text-anchor="middle" >K</text>
<text x="268.7" y="196.3" font-size="7.5" font-weight="normal" fill="#222" text-anchor="middle" >Γ</text>
<text x="289.8" y="196.3" font-size="7.5" font-weight="normal" fill="#222" text-anchor="middle" >M'</text>
<text x="303.2" y="196.3" font-size="7.5" font-weight="normal" fill="#222" text-anchor="middle" >K'</text>
<text x="326.1" y="196.3" font-size="7.5" font-weight="normal" fill="#222" text-anchor="middle" >Γ</text>
<text x="349.6" y="196.3" font-size="7.5" font-weight="normal" fill="#222" text-anchor="middle" >DOS</text>
<text x="0" y="0" font-size="8.9" font-weight="normal" fill="#444" text-anchor="middle" transform="translate(181.3,109.8) rotate(-90)">Energy (eV)</text>
<defs><linearGradient id="cb" x1="0" y1="1" x2="0" y2="0"><stop offset="0" stop-color="#8000ff"/><stop offset="0.125" stop-color="#4062fa"/><stop offset="0.25" stop-color="#00b4ec"/><stop offset="0.375" stop-color="#40ecd3"/><stop offset="0.5" stop-color="#80ffb4"/><stop offset="0.625" stop-color="#c0eb8d"/><stop offset="0.75" stop-color="#ffb462"/><stop offset="0.875" stop-color="#ff6232"/><stop offset="1" stop-color="#ff0000"/></linearGradient></defs>
<rect x="378.5" y="30.4" width="6" height="158.1" fill="url(#cb)"/>
<text x="373.8" y="24" font-size="10" font-weight="normal" fill="#222" text-anchor="start" >Spin</text>
<text x="388.7" y="35.2" font-size="7.5" font-weight="normal" fill="#222" text-anchor="start" >1</text>
<line x1="378.5" y1="32.9" x2="379.6" y2="32.9" stroke="#444" stroke-width="0.6" />
<line x1="383.4" y1="32.9" x2="384.5" y2="32.9" stroke="#444" stroke-width="0.6" />
<text x="388.7" y="48.550000000000004" font-size="7.5" font-weight="normal" fill="#222" text-anchor="start" >0.8</text>
<line x1="378.5" y1="46.25" x2="379.6" y2="46.25" stroke="#444" stroke-width="0.6" />
<line x1="383.4" y1="46.25" x2="384.5" y2="46.25" stroke="#444" stroke-width="0.6" />
<text x="388.7" y="64.15" font-size="7.5" font-weight="normal" fill="#222" text-anchor="start" >0.6</text>
<line x1="378.5" y1="61.85" x2="379.6" y2="61.85" stroke="#444" stroke-width="0.6" />
<line x1="383.4" y1="61.85" x2="384.5" y2="61.85" stroke="#444" stroke-width="0.6" />
<text x="388.7" y="80.60000000000001" font-size="7.5" font-weight="normal" fill="#222" text-anchor="start" >0.4</text>
<line x1="378.5" y1="78.30000000000001" x2="379.6" y2="78.30000000000001" stroke="#444" stroke-width="0.6" />
<line x1="383.4" y1="78.30000000000001" x2="384.5" y2="78.30000000000001" stroke="#444" stroke-width="0.6" />
<text x="388.7" y="95.95" font-size="7.5" font-weight="normal" fill="#222" text-anchor="start" >0.2</text>
<line x1="378.5" y1="93.65" x2="379.6" y2="93.65" stroke="#444" stroke-width="0.6" />
<line x1="383.4" y1="93.65" x2="384.5" y2="93.65" stroke="#444" stroke-width="0.6" />
<text x="388.7" y="111.5" font-size="7.5" font-weight="normal" fill="#222" text-anchor="start" >0</text>
<line x1="378.5" y1="109.2" x2="379.6" y2="109.2" stroke="#444" stroke-width="0.6" />
<line x1="383.4" y1="109.2" x2="384.5" y2="109.2" stroke="#444" stroke-width="0.6" />
<text x="386.4" y="127.2" font-size="7.5" font-weight="normal" fill="#222" text-anchor="start" >-0.2</text>
<line x1="378.5" y1="124.9" x2="379.6" y2="124.9" stroke="#444" stroke-width="0.6" />
<line x1="383.4" y1="124.9" x2="384.5" y2="124.9" stroke="#444" stroke-width="0.6" />
<text x="386.4" y="143.39999999999998" font-size="7.5" font-weight="normal" fill="#222" text-anchor="start" >-0.4</text>
<line x1="378.5" y1="141.1" x2="379.6" y2="141.1" stroke="#444" stroke-width="0.6" />
<line x1="383.4" y1="141.1" x2="384.5" y2="141.1" stroke="#444" stroke-width="0.6" />
<text x="386.4" y="159.39999999999998" font-size="7.5" font-weight="normal" fill="#222" text-anchor="start" >-0.6</text>
<line x1="378.5" y1="157.1" x2="379.6" y2="157.1" stroke="#444" stroke-width="0.6" />
<line x1="383.4" y1="157.1" x2="384.5" y2="157.1" stroke="#444" stroke-width="0.6" />
<text x="386.4" y="175.6" font-size="7.5" font-weight="normal" fill="#222" text-anchor="start" >-0.8</text>
<line x1="378.5" y1="173.3" x2="379.6" y2="173.3" stroke="#444" stroke-width="0.6" />
<line x1="383.4" y1="173.3" x2="384.5" y2="173.3" stroke="#444" stroke-width="0.6" />
<text x="386.4" y="190.2" font-size="7.5" font-weight="normal" fill="#222" text-anchor="start" >-1</text>
<line x1="378.5" y1="187.9" x2="379.6" y2="187.9" stroke="#444" stroke-width="0.6" />
<line x1="383.4" y1="187.9" x2="384.5" y2="187.9" stroke="#444" stroke-width="0.6" />
<g clip-path="url(#cc)">
<path d="M438.8 53.7C445.4 53.7 452.1 63.3 458.7 66.0C466.8 69.4 474.9 72.0 483.0 72.0C486.8 72.0 490.7 72.2 494.5 71.5C498.3 70.8 502.2 68.0 506.0 68.0C513.2 68.0 520.5 66.6 527.7 64.0C533.6 61.9 539.6 53.7 545.5 53.7" fill="none" stroke="#2a2aec" stroke-width="0.9" />
<path d="M438.8 53.7C445.4 53.7 452.1 59.9 458.7 62.0C466.8 64.5 474.9 67.6 483.0 67.6C486.8 67.6 490.7 66.8 494.5 66.0C498.3 65.2 502.2 63.0 506.0 63.0C513.2 63.0 520.5 61.7 527.7 60.0C533.6 58.6 539.6 53.7 545.5 53.7" fill="none" stroke="#2a2aec" stroke-width="0.9" />
<path d="M438.8 53.7C445.4 53.7 452.1 57.7 458.7 59.0C466.8 60.6 474.9 62.3 483.0 62.3C486.8 62.3 490.7 61.9 494.5 61.0C498.3 60.1 502.2 57.0 506.0 57.0C513.2 57.0 520.5 56.6 527.7 56.0C533.6 55.5 539.6 53.7 545.5 53.7" fill="none" stroke="#2a2aec" stroke-width="0.9" />
<path d="M438.8 53.7C445.4 53.7 452.1 55.6 458.7 56.0C466.8 56.5 474.9 56.2 483.0 56.2C486.8 56.2 490.7 57.9 494.5 58.0C498.3 58.1 502.2 57.0 506.0 57.0C513.2 57.0 520.5 56.1 527.7 55.5C533.6 55.0 539.6 53.7 545.5 53.7" fill="none" stroke="#2a2aec" stroke-width="0.9" />
<path d="M438.8 53.7C445.4 53.7 452.1 51.4 458.7 51.0C466.8 50.5 474.9 51.0 483.0 51.0C486.8 51.0 490.7 50.6 494.5 50.0C498.3 49.4 502.2 47.5 506.0 47.5C513.2 47.5 520.5 45.2 527.7 44.0C533.6 43.0 539.6 41.0 545.5 41.0" fill="none" stroke="#2a2aec" stroke-width="0.9" />
<path d="M438.8 53.7C445.4 53.7 452.1 49.3 458.7 48.0C466.8 46.4 474.9 44.9 483.0 44.9C486.8 44.9 490.7 44.6 494.5 45.0C498.3 45.4 502.2 47.5 506.0 47.5C513.2 47.5 520.5 48.9 527.7 50.0C533.6 50.9 539.6 53.7 545.5 53.7" fill="none" stroke="#2a2aec" stroke-width="0.9" />
<path d="M438.8 53.7C445.4 53.7 452.1 46.4 458.7 44.0C466.8 41.1 474.9 37.9 483.0 37.9C486.8 37.9 490.7 37.6 494.5 38.0C498.3 38.4 502.2 40.0 506.0 40.0C513.2 40.0 520.5 36.8 527.7 35.0C533.6 33.5 539.6 30.0 545.5 30.0" fill="none" stroke="#2a2aec" stroke-width="0.9" />
<path d="M438.8 53.7C445.4 53.7 452.1 47.8 458.7 46.0C466.8 43.9 474.9 42.0 483.0 42.0C486.8 42.0 490.7 46.3 494.5 48.0C498.3 49.7 502.2 52.0 506.0 52.0C513.2 52.0 520.5 43.8 527.7 39.0C533.6 35.1 539.6 26.0 545.5 26.0" fill="none" stroke="#2a2aec" stroke-width="0.9" />
<path d="M438.8 44.0C445.4 44.0 452.1 40.9 458.7 40.0C466.8 38.9 474.9 37.9 483.0 37.9C486.8 37.9 490.7 35.7 494.5 35.0C498.3 34.3 502.2 33.5 506.0 33.5C513.2 33.5 520.5 40.3 527.7 44.0C533.6 47.0 539.6 53.7 545.5 53.7" fill="none" stroke="#2a2aec" stroke-width="0.9" />
<path d="M438.8 41.0C445.4 41.0 452.1 36.6 458.7 35.0C466.8 33.0 474.9 30.0 483.0 30.0C486.8 30.0 490.7 27.0 494.5 26.0C498.3 25.0 502.2 24.0 506.0 24.0C513.2 24.0 520.5 31.6 527.7 36.0C533.6 39.6 539.6 48.0 545.5 48.0" fill="none" stroke="#2a2aec" stroke-width="0.9" />
<path d="M438.8 37.0C445.4 37.0 452.1 32.6 458.7 31.0C466.8 29.0 474.9 26.0 483.0 26.0C486.8 26.0 490.7 23.0 494.5 22.0C498.3 21.0 502.2 20.0 506.0 20.0C513.2 20.0 520.5 27.6 527.7 32.0C533.6 35.6 539.6 44.0 545.5 44.0" fill="none" stroke="#2a2aec" stroke-width="0.9" />
<path d="M438.8 21.0C445.4 21.0 452.1 27.5 458.7 30.0C466.8 33.1 474.9 37.9 483.0 37.9C486.8 37.9 490.7 35.7 494.5 35.0C498.3 34.3 502.2 33.5 506.0 33.5C513.2 33.5 520.5 29.7 527.7 28.0C533.6 26.6 539.6 24.0 545.5 24.0" fill="none" stroke="#2a2aec" stroke-width="0.9" />
<path d="M438.8 23.0C445.4 23.0 452.1 29.5 458.7 32.0C466.8 35.1 474.9 40.0 483.0 40.0C486.8 40.0 490.7 35.0 494.5 33.0C498.3 31.0 502.2 28.0 506.0 28.0C513.2 28.0 520.5 26.1 527.7 25.0C533.6 24.1 539.6 22.0 545.5 22.0" fill="none" stroke="#2a2aec" stroke-width="0.9" />
<path d="M438.8 25.0C445.4 25.0 452.1 31.5 458.7 34.0C466.8 37.1 474.9 42.0 483.0 42.0C486.8 42.0 490.7 44.1 494.5 45.0C498.3 45.9 502.2 47.5 506.0 47.5C513.2 47.5 520.5 42.7 527.7 40.0C533.6 37.8 539.6 33.0 545.5 33.0" fill="none" stroke="#2a2aec" stroke-width="0.9" />
<path d="M438.8 27.0C445.4 27.0 452.1 33.3 458.7 36.0C466.8 39.3 474.9 44.9 483.0 44.9C486.8 44.9 490.7 42.8 494.5 42.0C498.3 41.2 502.2 40.0 506.0 40.0C513.2 40.0 520.5 36.2 527.7 34.0C533.6 32.2 539.6 28.0 545.5 28.0" fill="none" stroke="#2a2aec" stroke-width="0.9" />
<path d="M438.8 29.0C445.4 29.0 452.1 36.7 458.7 40.0C466.8 44.0 474.9 51.0 483.0 51.0C486.8 51.0 490.7 54.0 494.5 55.0C498.3 56.0 502.2 57.0 506.0 57.0C513.2 57.0 520.5 51.9 527.7 49.0C533.6 46.6 539.6 41.0 545.5 41.0" fill="none" stroke="#2a2aec" stroke-width="0.9" />
<path d="M438.8 20.0C445.4 20.0 452.1 20.7 458.7 21.0C466.8 21.4 474.9 22.0 483.0 22.0C486.8 22.0 490.7 26.1 494.5 28.0C498.3 29.9 502.2 33.5 506.0 33.5C513.2 33.5 520.5 28.3 527.7 26.0C533.6 24.1 539.6 21.0 545.5 21.0" fill="none" stroke="#2a2aec" stroke-width="0.9" />
<path d="M438.8 22.0C445.4 22.0 452.1 23.4 458.7 24.0C466.8 24.7 474.9 26.0 483.0 26.0C486.8 26.0 490.7 23.0 494.5 22.0C498.3 21.0 502.2 20.0 506.0 20.0C513.2 20.0 520.5 30.8 527.7 37.0C533.6 42.1 539.6 53.7 545.5 53.7" fill="none" stroke="#2a2aec" stroke-width="0.9" />
<path d="M438.8 24.0C445.4 24.0 452.1 26.1 458.7 27.0C466.8 28.1 474.9 30.0 483.0 30.0C486.8 30.0 490.7 28.0 494.5 27.0C498.3 26.0 502.2 24.0 506.0 24.0C513.2 24.0 520.5 22.6 527.7 22.0C533.6 21.6 539.6 21.0 545.5 21.0" fill="none" stroke="#2a2aec" stroke-width="0.9" />
<path d="M438.8 20.0C445.4 20.0 452.1 21.4 458.7 22.0C466.8 22.7 474.9 24.0 483.0 24.0C486.8 24.0 490.7 25.3 494.5 26.0C498.3 26.7 502.2 28.0 506.0 28.0C513.2 28.0 520.5 31.8 527.7 34.0C533.6 35.8 539.6 40.0 545.5 40.0" fill="none" stroke="#2a2aec" stroke-width="0.9" />
<path d="M438.8 30.0C445.4 30.0 452.1 27.2 458.7 26.0C466.8 24.5 474.9 22.0 483.0 22.0C486.8 22.0 490.7 21.8 494.5 22.0C498.3 22.2 502.2 23.0 506.0 23.0C513.2 23.0 520.5 26.8 527.7 29.0C533.6 30.8 539.6 35.0 545.5 35.0" fill="none" stroke="#2a2aec" stroke-width="0.9" />
<path d="M438.8 33.0C445.4 33.0 452.1 30.8 458.7 30.0C466.8 29.1 474.9 28.0 483.0 28.0C486.8 28.0 490.7 32.0 494.5 34.0C498.3 36.0 502.2 40.0 506.0 40.0C513.2 40.0 520.5 34.3 527.7 31.0C533.6 28.3 539.6 22.0 545.5 22.0" fill="none" stroke="#2a2aec" stroke-width="0.9" />
<path d="M438.8 47.0C445.4 47.0 452.1 43.4 458.7 42.0C466.8 40.3 474.9 37.9 483.0 37.9C486.8 37.9 490.7 35.7 494.5 35.0C498.3 34.3 502.2 33.5 506.0 33.5C513.2 33.5 520.5 33.1 527.7 33.0C533.6 32.9 539.6 33.0 545.5 33.0" fill="none" stroke="#2a2aec" stroke-width="0.9" />
<path d="M438.8 20.5C453.5 20.5 468.3 20.5 483.0 20.5C490.7 20.5 498.3 21.0 506.0 21.0C519.2 21.0 532.3 20.5 545.5 20.5" fill="none" stroke="#2a2aec" stroke-width="0.9" />
<path d="M438.8 22.5C453.5 22.5 468.3 23.0 483.0 23.0C490.7 23.0 498.3 24.0 506.0 24.0C519.2 24.0 532.3 25.0 545.5 25.0" fill="none" stroke="#2a2aec" stroke-width="0.9" />
<path d="M438.8 35.0C445.4 35.0 452.1 34.3 458.7 34.0C466.8 33.6 474.9 33.0 483.0 33.0C486.8 33.0 490.7 31.5 494.5 31.0C498.3 30.5 502.2 30.0 506.0 30.0C513.2 30.0 520.5 29.4 527.7 29.0C533.6 28.7 539.6 28.0 545.5 28.0" fill="none" stroke="#2a2aec" stroke-width="0.9" />
<path d="M438.8 48.0C445.4 48.0 452.1 50.8 458.7 52.0C466.8 53.5 474.9 56.2 483.0 56.2C486.8 56.2 490.7 58.9 494.5 60.0C498.3 61.1 502.2 63.0 506.0 63.0C513.2 63.0 520.5 59.7 527.7 58.0C533.6 56.6 539.6 53.7 545.5 53.7" fill="none" stroke="#2a2aec" stroke-width="0.9" />
<path d="M438.8 53.7C445.4 53.7 452.1 56.7 458.7 58.0C466.8 59.6 474.9 62.3 483.0 62.3C486.8 62.3 490.7 65.0 494.5 66.0C498.3 67.0 502.2 68.0 506.0 68.0C513.2 68.0 520.5 62.6 527.7 60.0C533.6 57.9 539.6 53.7 545.5 53.7" fill="none" stroke="#2a2aec" stroke-width="0.9" />
<path d="M438.8 38.0C445.4 38.0 452.1 35.8 458.7 35.0C466.8 34.1 474.9 33.0 483.0 33.0C486.8 33.0 490.7 38.0 494.5 40.0C498.3 42.0 502.2 45.0 506.0 45.0C513.2 45.0 520.5 38.7 527.7 35.0C533.6 32.0 539.6 25.0 545.5 25.0" fill="none" stroke="#2a2aec" stroke-width="0.9" />
<path d="M438.8 74.3C453.5 74.3 468.3 75.3 483.0 75.3C490.7 75.3 498.3 74.5 506.0 74.5C519.2 74.5 532.3 74.3 545.5 74.3" fill="none" stroke="#2a2aec" stroke-width="0.9" />
<path d="M438.8 80.3C453.5 80.3 468.3 78.2 483.0 78.2C490.7 78.2 498.3 81.4 506.0 81.4C519.2 81.4 532.3 80.3 545.5 80.3" fill="none" stroke="#2a2aec" stroke-width="0.9" />
<path d="M438.8 101.5C453.5 101.5 468.3 103.5 483.0 103.5C490.7 103.5 498.3 102.2 506.0 102.2C519.2 102.2 532.3 101.5 545.5 101.5" fill="none" stroke="#2a2aec" stroke-width="0.9" />
<path d="M438.8 149.0C453.5 149.0 468.3 148.6 483.0 148.6C490.7 148.6 498.3 146.3 506.0 146.3C519.2 146.3 532.3 149.0 545.5 149.0" fill="none" stroke="#2a2aec" stroke-width="0.9" />
<path d="M438.8 162.5C449.1 162.5 459.4 150.9 469.7 147.6C474.2 146.2 478.6 148.5 483.0 148.5C490.7 148.5 498.3 155.0 506.0 155.0C519.2 155.0 532.3 162.5 545.5 162.5" fill="none" stroke="#2a2aec" stroke-width="0.9" />
<path d="M438.8 155.6C453.5 155.6 468.3 155.4 483.0 155.4C490.7 155.4 498.3 156.0 506.0 156.0C519.2 156.0 532.3 156.0 545.5 156.0" fill="none" stroke="#2a2aec" stroke-width="0.9" />
<line x1="438.8" y1="153.9" x2="545.5" y2="153.9" stroke="#58b8c8" stroke-width="0.8" stroke-dasharray="2 1"/>
<path d="M438.8 162.5 L483 183.5 L506 176 L545.5 162.5" fill="none" stroke="#2a2aec" stroke-width="0.9"/>
<path d="M438.8 162.5 L470 175 L483 183.5" fill="none" stroke="#2a2aec" stroke-width="0.6"/>
<path d="M438.8 190 L483 183.5 L506 174.5 L545.5 162.5" fill="none" stroke="#2a2aec" stroke-width="0.9"/>
<path d="M438.8 165.7C453.5 165.7 468.3 165.2 483.0 165.2C490.7 165.2 498.3 166.0 506.0 166.0C519.2 166.0 532.3 163.0 545.5 163.0" fill="none" stroke="#2a2aec" stroke-width="0.9" />
<path d="M438.8 174.2C453.5 174.2 468.3 172.0 483.0 172.0C490.7 172.0 498.3 174.0 506.0 174.0C519.2 174.0 532.3 174.0 545.5 174.0" fill="none" stroke="#2a2aec" stroke-width="0.9" />
<path d="M438.8 179.6C453.5 179.6 468.3 178.0 483.0 178.0C490.7 178.0 498.3 180.0 506.0 180.0C519.2 180.0 532.3 178.0 545.5 178.0" fill="none" stroke="#2a2aec" stroke-width="0.9" />
<path d="M438.8 186.0C446.2 186.0 453.5 184.7 460.9 185.0C468.3 185.3 475.6 188.0 483.0 188.0C490.7 188.0 498.3 183.0 506.0 183.0C512.6 183.0 519.2 180.2 525.8 179.0C532.3 177.8 538.9 176.0 545.5 176.0" fill="none" stroke="#2a2aec" stroke-width="0.8" />
<path d="M438.8 192 L483 183.5 L506 192" fill="none" stroke="#2a2aec" stroke-width="0.9"/>
<path d="M438.8 189 Q462 184 483 183.5" fill="none" stroke="#2a2aec" stroke-width="0.7"/>
<path d="M506 175 L545.5 192 M506 176 Q525 182 545.5 190 M506 177 Q525 186 545.5 193" fill="none" stroke="#2a2aec" stroke-width="0.8"/>
<rect x="438.8" y="192" width="106.69999999999999" height="12" fill="#3030f0" opacity="0.3"/>
<rect x="438.8" y="216" width="106.69999999999999" height="29" fill="#3030f0" opacity="0.3"/>
<path d="M438.8 194.9C446.2 194.9 453.5 192.9 460.9 192.8C468.3 192.6 475.6 194.1 483.0 194.1C486.8 194.1 490.7 192.5 494.5 192.7C498.3 192.9 502.2 195.2 506.0 195.2C512.6 195.2 519.2 196.6 525.8 196.6C532.3 196.7 538.9 195.3 545.5 195.3" fill="none" stroke="#1c1cf0" stroke-width="1.0" />
<path d="M438.8 193.7C446.2 193.7 453.5 194.8 460.9 195.5C468.3 196.1 475.6 197.5 483.0 197.5C486.8 197.5 490.7 197.2 494.5 196.7C498.3 196.3 502.2 194.9 506.0 194.9C512.6 194.9 519.2 194.1 525.8 194.4C532.3 194.7 538.9 196.7 545.5 196.7" fill="none" stroke="#1c1cf0" stroke-width="1.0" />
<path d="M438.8 201.9C446.2 201.9 453.5 199.6 460.9 199.3C468.3 199.0 475.6 200.2 483.0 200.2C486.8 200.2 490.7 201.6 494.5 201.8C498.3 201.9 502.2 201.3 506.0 201.3C512.6 201.3 519.2 201.5 525.8 201.5C532.3 201.4 538.9 200.9 545.5 200.9" fill="none" stroke="#1c1cf0" stroke-width="1.0" />
<path d="M438.8 193.2C446.2 193.2 453.5 196.1 460.9 196.8C468.3 197.5 475.6 197.4 483.0 197.4C486.8 197.4 490.7 197.6 494.5 197.3C498.3 196.9 502.2 195.4 506.0 195.4C512.6 195.4 519.2 197.5 525.8 197.7C532.3 197.9 538.9 196.7 545.5 196.7" fill="none" stroke="#1c1cf0" stroke-width="1.0" />
<path d="M438.8 198.3C446.2 198.3 453.5 196.1 460.9 195.8C468.3 195.5 475.6 196.6 483.0 196.6C486.8 196.6 490.7 195.9 494.5 196.3C498.3 196.7 502.2 199.0 506.0 199.0C512.6 199.0 519.2 197.8 525.8 197.7C532.3 197.7 538.9 198.7 545.5 198.7" fill="none" stroke="#1c1cf0" stroke-width="1.0" />
<path d="M438.8 204.2C446.2 204.2 453.5 204.1 460.9 204.2C468.3 204.4 475.6 205.2 483.0 205.2C486.8 205.2 490.7 204.0 494.5 203.8C498.3 203.5 502.2 203.5 506.0 203.5C512.6 203.5 519.2 204.2 525.8 204.4C532.3 204.6 538.9 204.6 545.5 204.6" fill="none" stroke="#1c1cf0" stroke-width="1.0" />
<path d="M438.8 201.4C446.2 201.4 453.5 203.0 460.9 202.8C468.3 202.6 475.6 200.3 483.0 200.3C486.8 200.3 490.7 201.4 494.5 201.6C498.3 201.8 502.2 201.5 506.0 201.5C512.6 201.5 519.2 200.1 525.8 200.0C532.3 199.9 538.9 201.2 545.5 201.2" fill="none" stroke="#1c1cf0" stroke-width="1.0" />
<path d="M438.8 205.4C446.2 205.4 453.5 204.2 460.9 204.1C468.3 204.1 475.6 205.1 483.0 205.1C486.8 205.1 490.7 205.9 494.5 205.6C498.3 205.3 502.2 203.5 506.0 203.5C512.6 203.5 519.2 204.0 525.8 204.1C532.3 204.2 538.9 204.2 545.5 204.2" fill="none" stroke="#1c1cf0" stroke-width="1.0" />
<path d="M438.8 193.2C446.2 193.2 453.5 195.7 460.9 196.3C468.3 197.0 475.6 197.1 483.0 197.1C486.8 197.1 490.7 197.0 494.5 197.1C498.3 197.2 502.2 197.8 506.0 197.8C512.6 197.8 519.2 194.9 525.8 194.1C532.3 193.4 538.9 193.3 545.5 193.3" fill="none" stroke="#1c1cf0" stroke-width="1.0" />
<path d="M438.8 196.8C446.2 196.8 453.5 195.2 460.9 195.3C468.3 195.3 475.6 197.3 483.0 197.3C486.8 197.3 490.7 196.8 494.5 196.1C498.3 195.4 502.2 193.2 506.0 193.2C512.6 193.2 519.2 193.5 525.8 193.9C532.3 194.4 538.9 196.0 545.5 196.0" fill="none" stroke="#1c1cf0" stroke-width="1.0" />
<path d="M438.8 205.8C446.2 205.8 453.5 203.3 460.9 202.9C468.3 202.5 475.6 203.4 483.0 203.4C486.8 203.4 490.7 204.6 494.5 205.1C498.3 205.5 502.2 205.9 506.0 205.9C512.6 205.9 519.2 202.9 525.8 202.3C532.3 201.7 538.9 202.4 545.5 202.4" fill="none" stroke="#1c1cf0" stroke-width="1.0" />
<path d="M438.8 193.7C446.2 193.7 453.5 195.5 460.9 195.7C468.3 195.9 475.6 194.7 483.0 194.7C486.8 194.7 490.7 193.2 494.5 192.8C498.3 192.5 502.2 192.4 506.0 192.4C512.6 192.4 519.2 194.1 525.8 194.0C532.3 193.9 538.9 191.9 545.5 191.9" fill="none" stroke="#1c1cf0" stroke-width="1.0" />
<path d="M438.8 203.0C446.2 203.0 453.5 203.5 460.9 203.6C468.3 203.7 475.6 203.4 483.0 203.4C486.8 203.4 490.7 203.7 494.5 203.8C498.3 203.8 502.2 203.7 506.0 203.7C512.6 203.7 519.2 204.4 525.8 204.5C532.3 204.6 538.9 204.3 545.5 204.3" fill="none" stroke="#1c1cf0" stroke-width="1.0" />
<path d="M438.8 204.2C446.2 204.2 453.5 203.3 460.9 203.2C468.3 203.2 475.6 203.9 483.0 203.9C486.8 203.9 490.7 206.2 494.5 206.5C498.3 206.7 502.2 205.3 506.0 205.3C512.6 205.3 519.2 204.6 525.8 204.2C532.3 203.8 538.9 202.9 545.5 202.9" fill="none" stroke="#1c1cf0" stroke-width="1.0" />
<path d="M438.8 196.5C446.2 196.5 453.5 197.6 460.9 197.9C468.3 198.3 475.6 198.5 483.0 198.5C486.8 198.5 490.7 199.3 494.5 199.4C498.3 199.6 502.2 199.3 506.0 199.3C512.6 199.3 519.2 196.6 525.8 196.1C532.3 195.7 538.9 196.5 545.5 196.5" fill="none" stroke="#1c1cf0" stroke-width="1.0" />
<path d="M438.8 199.8C446.2 199.8 453.5 201.1 460.9 201.3C468.3 201.5 475.6 200.9 483.0 200.9C486.8 200.9 490.7 198.4 494.5 198.1C498.3 197.9 502.2 199.2 506.0 199.2C512.6 199.2 519.2 198.1 525.8 198.4C532.3 198.7 538.9 201.0 545.5 201.0" fill="none" stroke="#1c1cf0" stroke-width="1.0" />
<path d="M438.8 202.9C446.2 202.9 453.5 201.0 460.9 200.4C468.3 199.8 475.6 199.4 483.0 199.4C486.8 199.4 490.7 199.2 494.5 199.4C498.3 199.5 502.2 200.4 506.0 200.4C512.6 200.4 519.2 199.9 525.8 200.0C532.3 200.1 538.9 201.1 545.5 201.1" fill="none" stroke="#1c1cf0" stroke-width="1.0" />
<path d="M438.8 197.0C446.2 197.0 453.5 194.6 460.9 194.3C468.3 194.1 475.6 195.5 483.0 195.5C486.8 195.5 490.7 195.9 494.5 196.0C498.3 196.0 502.2 195.9 506.0 195.9C512.6 195.9 519.2 197.5 525.8 197.8C532.3 198.1 538.9 197.8 545.5 197.8" fill="none" stroke="#1c1cf0" stroke-width="1.0" />
<path d="M438.8 194.3C446.2 194.3 453.5 195.0 460.9 195.5C468.3 196.0 475.6 197.2 483.0 197.2C486.8 197.2 490.7 197.1 494.5 196.6C498.3 196.1 502.2 194.4 506.0 194.4C512.6 194.4 519.2 192.7 525.8 192.7C532.3 192.6 538.9 194.1 545.5 194.1" fill="none" stroke="#1c1cf0" stroke-width="1.0" />
<path d="M438.8 195.0C446.2 195.0 453.5 194.5 460.9 194.9C468.3 195.4 475.6 197.5 483.0 197.5C486.8 197.5 490.7 196.2 494.5 195.9C498.3 195.5 502.2 195.5 506.0 195.5C512.6 195.5 519.2 196.8 525.8 197.2C532.3 197.5 538.9 197.6 545.5 197.6" fill="none" stroke="#1c1cf0" stroke-width="1.0" />
<path d="M438.8 203.2C446.2 203.2 453.5 201.6 460.9 201.4C468.3 201.2 475.6 202.1 483.0 202.1C486.8 202.1 490.7 203.1 494.5 203.0C498.3 203.0 502.2 201.6 506.0 201.6C512.6 201.6 519.2 203.6 525.8 203.9C532.3 204.3 538.9 203.6 545.5 203.6" fill="none" stroke="#1c1cf0" stroke-width="1.0" />
<path d="M438.8 192.9C446.2 192.9 453.5 193.1 460.9 193.6C468.3 194.0 475.6 195.5 483.0 195.5C486.8 195.5 490.7 193.8 494.5 193.6C498.3 193.5 502.2 194.7 506.0 194.7C512.6 194.7 519.2 194.1 525.8 194.3C532.3 194.4 538.9 195.5 545.5 195.5" fill="none" stroke="#1c1cf0" stroke-width="1.0" />
<path d="M438.8 230.5C446.2 230.5 453.5 222.2 460.9 218.2C468.3 214.2 475.6 206.5 483.0 206.5C486.8 206.5 490.7 207.3 494.5 207.8C498.3 208.4 502.2 209.9 506.0 209.9C512.6 209.9 519.2 212.7 525.8 213.2C532.3 213.8 538.9 213.2 545.5 213.2" fill="none" stroke="#1c1cf0" stroke-width="1.0" />
<path d="M438.8 201.2C446.2 201.2 453.5 200.8 460.9 199.6C468.3 198.5 475.6 194.2 483.0 194.2C486.8 194.2 490.7 208.3 494.5 215.5C498.3 222.7 502.2 237.4 506.0 237.4C512.6 237.4 519.2 238.2 525.8 237.7C532.3 237.3 538.9 234.5 545.5 234.5" fill="none" stroke="#1c1cf0" stroke-width="1.0" />
<path d="M438.8 236.7C446.2 236.7 453.5 226.5 460.9 221.1C468.3 215.7 475.6 204.2 483.0 204.2C486.8 204.2 490.7 212.3 494.5 216.3C498.3 220.3 502.2 228.3 506.0 228.3C512.6 228.3 519.2 228.8 525.8 229.5C532.3 230.2 538.9 232.5 545.5 232.5" fill="none" stroke="#1c1cf0" stroke-width="1.0" />
<path d="M438.8 209.7C446.2 209.7 453.5 207.1 460.9 206.2C468.3 205.4 475.6 204.5 483.0 204.5C486.8 204.5 490.7 203.3 494.5 202.0C498.3 200.8 502.2 197.1 506.0 197.1C512.6 197.1 519.2 203.3 525.8 207.3C532.3 211.3 538.9 221.1 545.5 221.1" fill="none" stroke="#1c1cf0" stroke-width="1.0" />
<path d="M438.8 235.6C446.2 235.6 453.5 233.9 460.9 232.3C468.3 230.7 475.6 225.9 483.0 225.9C486.8 225.9 490.7 229.7 494.5 231.5C498.3 233.3 502.2 236.5 506.0 236.5C512.6 236.5 519.2 234.1 525.8 233.9C532.3 233.7 538.9 235.2 545.5 235.2" fill="none" stroke="#1c1cf0" stroke-width="1.0" />
<path d="M438.8 228.3C446.2 228.3 453.5 219.6 460.9 215.2C468.3 210.8 475.6 201.9 483.0 201.9C486.8 201.9 490.7 203.5 494.5 204.5C498.3 205.5 502.2 207.8 506.0 207.8C512.6 207.8 519.2 215.1 525.8 217.9C532.3 220.7 538.9 224.5 545.5 224.5" fill="none" stroke="#1c1cf0" stroke-width="1.0" />
<path d="M438.8 222.2C446.2 222.2 453.5 217.9 460.9 215.8C468.3 213.8 475.6 209.7 483.0 209.7C486.8 209.7 490.7 209.5 494.5 208.8C498.3 208.1 502.2 205.6 506.0 205.6C512.6 205.6 519.2 214.4 525.8 219.0C532.3 223.7 538.9 233.6 545.5 233.6" fill="none" stroke="#1c1cf0" stroke-width="1.0" />
<path d="M438.8 203.1C446.2 203.1 453.5 209.4 460.9 212.0C468.3 214.6 475.6 218.6 483.0 218.6C486.8 218.6 490.7 224.6 494.5 226.8C498.3 228.9 502.2 231.6 506.0 231.6C512.6 231.6 519.2 222.9 525.8 218.0C532.3 213.0 538.9 201.9 545.5 201.9" fill="none" stroke="#1c1cf0" stroke-width="1.0" />
<path d="M438.8 231.9C446.2 231.9 453.5 217.6 460.9 211.3C468.3 205.1 475.6 194.3 483.0 194.3C486.8 194.3 490.7 203.0 494.5 207.7C498.3 212.5 502.2 222.9 506.0 222.9C512.6 222.9 519.2 225.6 525.8 227.4C532.3 229.2 538.9 233.7 545.5 233.7" fill="none" stroke="#1c1cf0" stroke-width="1.0" />
<path d="M438.8 218.3C446.2 218.3 453.5 214.7 460.9 213.9C468.3 213.1 475.6 213.5 483.0 213.5C486.8 213.5 490.7 212.4 494.5 212.8C498.3 213.2 502.2 215.8 506.0 215.8C512.6 215.8 519.2 218.9 525.8 221.2C532.3 223.6 538.9 229.7 545.5 229.7" fill="none" stroke="#1c1cf0" stroke-width="1.0" />
<path d="M438.8 199.7C446.2 199.7 453.5 197.2 460.9 196.8C468.3 196.4 475.6 197.1 483.0 197.1C486.8 197.1 490.7 211.1 494.5 218.0C498.3 224.9 502.2 238.8 506.0 238.8C512.6 238.8 519.2 236.3 525.8 235.3C532.3 234.4 538.9 233.3 545.5 233.3" fill="none" stroke="#1c1cf0" stroke-width="1.0" />
<path d="M438.8 208.5C446.2 208.5 453.5 208.5 460.9 208.8C468.3 209.0 475.6 210.2 483.0 210.2C486.8 210.2 490.7 213.5 494.5 215.7C498.3 218.0 502.2 223.8 506.0 223.8C512.6 223.8 519.2 222.1 525.8 221.7C532.3 221.2 538.9 221.0 545.5 221.0" fill="none" stroke="#1c1cf0" stroke-width="1.0" />
<path d="M438.8 199.7C446.2 199.7 453.5 204.6 460.9 207.9C468.3 211.3 475.6 219.6 483.0 219.6C486.8 219.6 490.7 220.7 494.5 222.0C498.3 223.2 502.2 226.9 506.0 226.9C512.6 226.9 519.2 221.3 525.8 218.7C532.3 216.1 538.9 211.5 545.5 211.5" fill="none" stroke="#1c1cf0" stroke-width="1.0" />
<path d="M438.8 221.8C446.2 221.8 453.5 225.0 460.9 226.4C468.3 227.8 475.6 230.0 483.0 230.0C486.8 230.0 490.7 223.6 494.5 220.5C498.3 217.4 502.2 211.5 506.0 211.5C512.6 211.5 519.2 217.4 525.8 220.7C532.3 223.9 538.9 230.9 545.5 230.9" fill="none" stroke="#1c1cf0" stroke-width="1.0" />
<path d="M438.8 216.8C446.2 216.8 453.5 219.8 460.9 221.4C468.3 223.0 475.6 226.3 483.0 226.3C486.8 226.3 490.7 221.0 494.5 218.8C498.3 216.7 502.2 213.3 506.0 213.3C512.6 213.3 519.2 217.7 525.8 219.8C532.3 221.9 538.9 225.9 545.5 225.9" fill="none" stroke="#1c1cf0" stroke-width="1.0" />
<path d="M438.8 226.0C446.2 226.0 453.5 217.9 460.9 213.2C468.3 208.4 475.6 197.3 483.0 197.3C486.8 197.3 490.7 204.5 494.5 207.2C498.3 209.9 502.2 213.5 506.0 213.5C512.6 213.5 519.2 213.1 525.8 213.1C532.3 213.1 538.9 213.6 545.5 213.6" fill="none" stroke="#1c1cf0" stroke-width="1.0" />
<path d="M438.8 235.3C446.2 235.3 453.5 232.2 460.9 231.3C468.3 230.5 475.6 230.4 483.0 230.4C486.8 230.4 490.7 223.5 494.5 219.5C498.3 215.4 502.2 206.1 506.0 206.1C512.6 206.1 519.2 209.8 525.8 211.4C532.3 212.9 538.9 215.4 545.5 215.4" fill="none" stroke="#1c1cf0" stroke-width="1.0" />
<path d="M438.8 234.8C446.2 234.8 453.5 233.6 460.9 232.9C468.3 232.2 475.6 230.5 483.0 230.5C486.8 230.5 490.7 227.0 494.5 226.0C498.3 225.0 502.2 224.7 506.0 224.7C512.6 224.7 519.2 226.1 525.8 226.6C532.3 227.1 538.9 227.8 545.5 227.8" fill="none" stroke="#1c1cf0" stroke-width="1.0" />
<path d="M438.8 194.2C446.2 194.2 453.5 194.7 460.9 195.8C468.3 196.8 475.6 200.6 483.0 200.6C486.8 200.6 490.7 208.7 494.5 213.5C498.3 218.3 502.2 229.6 506.0 229.6C512.6 229.6 519.2 219.9 525.8 214.4C532.3 208.8 538.9 196.0 545.5 196.0" fill="none" stroke="#1c1cf0" stroke-width="1.0" />
<path d="M438.8 202.2C446.2 202.2 453.5 201.2 460.9 200.0C468.3 198.8 475.6 195.1 483.0 195.1C486.8 195.1 490.7 208.3 494.5 214.6C498.3 220.9 502.2 232.7 506.0 232.7C512.6 232.7 519.2 223.0 525.8 217.5C532.3 212.0 538.9 199.6 545.5 199.6" fill="none" stroke="#1c1cf0" stroke-width="1.0" />
<path d="M438.8 237.8C446.2 237.8 453.5 233.2 460.9 230.3C468.3 227.4 475.6 220.6 483.0 220.6C486.8 220.6 490.7 224.1 494.5 225.7C498.3 227.4 502.2 230.7 506.0 230.7C512.6 230.7 519.2 219.9 525.8 214.1C532.3 208.2 538.9 195.7 545.5 195.7" fill="none" stroke="#1c1cf0" stroke-width="1.0" />
<path d="M438.8 198.9C446.2 198.9 453.5 208.1 460.9 213.0C468.3 217.9 475.6 228.5 483.0 228.5C486.8 228.5 490.7 231.6 494.5 233.0C498.3 234.4 502.2 237.0 506.0 237.0C512.6 237.0 519.2 224.9 525.8 218.2C532.3 211.5 538.9 196.8 545.5 196.8" fill="none" stroke="#1c1cf0" stroke-width="1.0" />
<path d="M438.8 205.1C446.2 205.1 453.5 205.2 460.9 204.7C468.3 204.2 475.6 202.3 483.0 202.3C486.8 202.3 490.7 202.9 494.5 203.5C498.3 204.0 502.2 205.5 506.0 205.5C512.6 205.5 519.2 210.6 525.8 213.4C532.3 216.2 538.9 222.3 545.5 222.3" fill="none" stroke="#1c1cf0" stroke-width="1.0" />
<path d="M438.8 212.2C446.2 212.2 453.5 211.5 460.9 211.2C468.3 210.8 475.6 210.1 483.0 210.1C486.8 210.1 490.7 213.0 494.5 213.6C498.3 214.1 502.2 213.2 506.0 213.2C512.6 213.2 519.2 207.8 525.8 205.2C532.3 202.6 538.9 197.8 545.5 197.8" fill="none" stroke="#1c1cf0" stroke-width="1.0" />
<path d="M438.8 228.4C446.2 228.4 453.5 220.1 460.9 215.6C468.3 211.1 475.6 201.4 483.0 201.4C486.8 201.4 490.7 209.6 494.5 213.7C498.3 217.7 502.2 225.8 506.0 225.8C512.6 225.8 519.2 226.7 525.8 227.2C532.3 227.7 538.9 228.8 545.5 228.8" fill="none" stroke="#1c1cf0" stroke-width="1.0" />
<path d="M438.8 223.6C446.2 223.6 453.5 228.5 460.9 230.4C468.3 232.4 475.6 235.3 483.0 235.3C486.8 235.3 490.7 225.5 494.5 219.7C498.3 214.0 502.2 200.9 506.0 200.9C512.6 200.9 519.2 200.1 525.8 199.7C532.3 199.3 538.9 198.4 545.5 198.4" fill="none" stroke="#1c1cf0" stroke-width="1.0" />
<path d="M438.8 214.4C446.2 214.4 453.5 217.4 460.9 219.5C468.3 221.6 475.6 227.1 483.0 227.1C486.8 227.1 490.7 219.2 494.5 215.2C498.3 211.1 502.2 202.6 506.0 202.6C512.6 202.6 519.2 203.1 525.8 203.7C532.3 204.3 538.9 206.3 545.5 206.3" fill="none" stroke="#1c1cf0" stroke-width="1.0" />
<path d="M438.8 204.7C446.2 204.7 453.5 212.5 460.9 216.1C468.3 219.6 475.6 225.8 483.0 225.8C486.8 225.8 490.7 229.5 494.5 231.5C498.3 233.5 502.2 237.9 506.0 237.9C512.6 237.9 519.2 229.2 525.8 224.1C532.3 219.1 538.9 207.6 545.5 207.6" fill="none" stroke="#1c1cf0" stroke-width="1.0" />
<path d="M438.8 220.9C446.2 220.9 453.5 215.9 460.9 213.5C468.3 211.1 475.6 206.3 483.0 206.3C486.8 206.3 490.7 205.1 494.5 204.7C498.3 204.3 502.2 204.0 506.0 204.0C512.6 204.0 519.2 199.7 525.8 198.2C532.3 196.7 538.9 195.1 545.5 195.1" fill="none" stroke="#1c1cf0" stroke-width="1.0" />
<path d="M438.8 210.6C446.2 210.6 453.5 212.0 460.9 211.7C468.3 211.4 475.6 208.8 483.0 208.8C486.8 208.8 490.7 215.7 494.5 219.1C498.3 222.6 502.2 229.6 506.0 229.6C512.6 229.6 519.2 220.3 525.8 215.5C532.3 210.7 538.9 200.6 545.5 200.6" fill="none" stroke="#1c1cf0" stroke-width="1.0" />
<path d="M438.8 233.5C446.2 233.5 453.5 235.2 460.9 235.1C468.3 235.1 475.6 233.3 483.0 233.3C486.8 233.3 490.7 235.1 494.5 234.6C498.3 234.0 502.2 230.1 506.0 230.1C512.6 230.1 519.2 229.0 525.8 228.9C532.3 228.7 538.9 229.2 545.5 229.2" fill="none" stroke="#1c1cf0" stroke-width="1.05" />
<path d="M438.8 243.7C446.2 243.7 453.5 243.5 460.9 242.5C468.3 241.5 475.6 237.8 483.0 237.8C486.8 237.8 490.7 238.3 494.5 237.8C498.3 237.3 502.2 235.0 506.0 235.0C512.6 235.0 519.2 238.7 525.8 238.7C532.3 238.7 538.9 235.0 545.5 235.0" fill="none" stroke="#1c1cf0" stroke-width="1.05" />
<path d="M438.8 239.1C446.2 239.1 453.5 240.5 460.9 240.4C468.3 240.3 475.6 238.5 483.0 238.5C486.8 238.5 490.7 241.6 494.5 241.7C498.3 241.9 502.2 239.3 506.0 239.3C512.6 239.3 519.2 242.2 525.8 242.1C532.3 241.9 538.9 238.4 545.5 238.4" fill="none" stroke="#1c1cf0" stroke-width="1.05" />
<path d="M438.8 226.8C446.2 226.8 453.5 221.3 460.9 220.2C468.3 219.1 475.6 220.2 483.0 220.2C486.8 220.2 490.7 217.4 494.5 217.6C498.3 217.8 502.2 221.5 506.0 221.5C512.6 221.5 519.2 225.4 525.8 226.0C532.3 226.6 538.9 225.2 545.5 225.2" fill="none" stroke="#1c1cf0" stroke-width="1.05" />
<path d="M438.8 221.9C446.2 221.9 453.5 221.5 460.9 221.9C468.3 222.4 475.6 224.6 483.0 224.6C486.8 224.6 490.7 224.5 494.5 224.7C498.3 224.8 502.2 225.7 506.0 225.7C512.6 225.7 519.2 222.9 525.8 221.6C532.3 220.3 538.9 217.7 545.5 217.7" fill="none" stroke="#1c1cf0" stroke-width="1.05" />
<path d="M438.8 222.0C446.2 222.0 453.5 220.4 460.9 221.1C468.3 221.9 475.6 226.4 483.0 226.4C486.8 226.4 490.7 222.3 494.5 221.2C498.3 220.1 502.2 219.6 506.0 219.6C512.6 219.6 519.2 221.6 525.8 221.9C532.3 222.2 538.9 221.5 545.5 221.5" fill="none" stroke="#1c1cf0" stroke-width="1.05" />
<path d="M438.8 222.4C446.2 222.4 453.5 221.4 460.9 221.5C468.3 221.5 475.6 222.6 483.0 222.6C486.8 222.6 490.7 221.6 494.5 219.9C498.3 218.3 502.2 212.9 506.0 212.9C512.6 212.9 519.2 218.3 525.8 220.0C532.3 221.7 538.9 223.0 545.5 223.0" fill="none" stroke="#1c1cf0" stroke-width="1.05" />
<path d="M438.8 225.9C446.2 225.9 453.5 227.8 460.9 227.8C468.3 227.7 475.6 225.6 483.0 225.6C486.8 225.6 490.7 229.9 494.5 230.2C498.3 230.5 502.2 227.4 506.0 227.4C512.6 227.4 519.2 226.6 525.8 225.6C532.3 224.5 538.9 220.9 545.5 220.9" fill="none" stroke="#1c1cf0" stroke-width="1.05" />
<path d="M438.8 227.1C446.2 227.1 453.5 230.0 460.9 230.8C468.3 231.5 475.6 231.6 483.0 231.6C486.8 231.6 490.7 231.6 494.5 231.3C498.3 231.0 502.2 229.9 506.0 229.9C512.6 229.9 519.2 228.8 525.8 229.6C532.3 230.3 538.9 234.3 545.5 234.3" fill="none" stroke="#1c1cf0" stroke-width="1.05" />
<path d="M438.8 236.9C446.2 236.9 453.5 232.1 460.9 231.2C468.3 230.2 475.6 231.5 483.0 231.5C486.8 231.5 490.7 237.8 494.5 239.2C498.3 240.6 502.2 240.0 506.0 240.0C512.6 240.0 519.2 236.2 525.8 235.7C532.3 235.2 538.9 237.2 545.5 237.2" fill="none" stroke="#1c1cf0" stroke-width="1.05" />
<path d="M438.8 227.6C446.2 227.6 453.5 226.8 460.9 226.5C468.3 226.3 475.6 226.1 483.0 226.1C486.8 226.1 490.7 224.4 494.5 224.4C498.3 224.3 502.2 225.6 506.0 225.6C512.6 225.6 519.2 223.4 525.8 223.6C532.3 223.8 538.9 226.7 545.5 226.7" fill="none" stroke="#1c1cf0" stroke-width="1.05" />
<path d="M438.8 218.9C446.2 218.9 453.5 217.9 460.9 218.0C468.3 218.0 475.6 219.3 483.0 219.3C486.8 219.3 490.7 216.6 494.5 216.2C498.3 215.8 502.2 216.8 506.0 216.8C512.6 216.8 519.2 216.6 525.8 217.0C532.3 217.4 538.9 219.1 545.5 219.1" fill="none" stroke="#1c1cf0" stroke-width="1.05" />
<path d="M438.8 237.3C446.2 237.3 453.5 238.0 460.9 238.9C468.3 239.8 475.6 242.9 483.0 242.9C486.8 242.9 490.7 240.5 494.5 240.0C498.3 239.5 502.2 239.8 506.0 239.8C512.6 239.8 519.2 241.1 525.8 242.1C532.3 243.2 538.9 246.0 545.5 246.0" fill="none" stroke="#1c1cf0" stroke-width="1.05" />
<path d="M438.8 235.1C446.2 235.1 453.5 231.6 460.9 230.8C468.3 229.9 475.6 230.1 483.0 230.1C486.8 230.1 490.7 228.9 494.5 229.9C498.3 230.9 502.2 236.0 506.0 236.0C512.6 236.0 519.2 230.0 525.8 228.5C532.3 227.1 538.9 227.2 545.5 227.2" fill="none" stroke="#1c1cf0" stroke-width="1.05" />
<path d="M438.8 242.4C446.2 242.4 453.5 242.2 460.9 241.1C468.3 240.0 475.6 235.9 483.0 235.9C486.8 235.9 490.7 238.5 494.5 238.5C498.3 238.5 502.2 236.0 506.0 236.0C512.6 236.0 519.2 238.9 525.8 239.3C532.3 239.8 538.9 238.7 545.5 238.7" fill="none" stroke="#1c1cf0" stroke-width="1.05" />
<path d="M438.8 229.3C446.2 229.3 453.5 230.8 460.9 231.3C468.3 231.9 475.6 232.3 483.0 232.3C486.8 232.3 490.7 229.1 494.5 228.7C498.3 228.3 502.2 229.9 506.0 229.9C512.6 229.9 519.2 229.2 525.8 229.9C532.3 230.5 538.9 233.9 545.5 233.9" fill="none" stroke="#1c1cf0" stroke-width="1.05" />
<path d="M438.8 234.2C446.2 234.2 453.5 236.3 460.9 237.9C468.3 239.4 475.6 243.4 483.0 243.4C486.8 243.4 490.7 244.2 494.5 244.4C498.3 244.6 502.2 244.5 506.0 244.5C512.6 244.5 519.2 245.4 525.8 245.5C532.3 245.6 538.9 245.2 545.5 245.2" fill="none" stroke="#1c1cf0" stroke-width="1.05" />
<path d="M438.8 240.6C446.2 240.6 453.5 239.3 460.9 238.8C468.3 238.2 475.6 237.1 483.0 237.1C486.8 237.1 490.7 236.4 494.5 235.6C498.3 234.9 502.2 232.5 506.0 232.5C512.6 232.5 519.2 236.6 525.8 237.7C532.3 238.8 538.9 239.2 545.5 239.2" fill="none" stroke="#1c1cf0" stroke-width="1.05" />
<path d="M438.8 217.3C446.2 217.3 453.5 216.6 460.9 216.4C468.3 216.1 475.6 216.0 483.0 216.0C486.8 216.0 490.7 212.9 494.5 212.5C498.3 212.2 502.2 214.0 506.0 214.0C512.6 214.0 519.2 214.3 525.8 214.4C532.3 214.5 538.9 214.4 545.5 214.4" fill="none" stroke="#1c1cf0" stroke-width="1.05" />
<path d="M438.8 215.2C446.2 215.2 453.5 219.5 460.9 219.8C468.3 220.1 475.6 217.0 483.0 217.0C486.8 217.0 490.7 219.3 494.5 218.9C498.3 218.5 502.2 214.6 506.0 214.6C512.6 214.6 519.2 212.1 525.8 212.4C532.3 212.6 538.9 216.0 545.5 216.0" fill="none" stroke="#1c1cf0" stroke-width="1.05" />
<path d="M438.8 241.6C446.2 241.6 453.5 236.0 460.9 234.8C468.3 233.7 475.6 234.8 483.0 234.8C486.8 234.8 490.7 236.3 494.5 236.9C498.3 237.5 502.2 238.5 506.0 238.5C512.6 238.5 519.2 241.4 525.8 241.1C532.3 240.9 538.9 236.9 545.5 236.9" fill="none" stroke="#1c1cf0" stroke-width="1.05" />
<path d="M438.8 229.1C446.2 229.1 453.5 229.2 460.9 228.9C468.3 228.5 475.6 227.0 483.0 227.0C486.8 227.0 490.7 228.2 494.5 227.1C498.3 225.9 502.2 220.3 506.0 220.3C512.6 220.3 519.2 224.9 525.8 226.3C532.3 227.8 538.9 229.0 545.5 229.0" fill="none" stroke="#1c1cf0" stroke-width="1.05" />
<path d="M438.8 236.5C446.2 236.5 453.5 237.9 460.9 238.8C468.3 239.7 475.6 242.1 483.0 242.1C486.8 242.1 490.7 244.6 494.5 244.9C498.3 245.1 502.2 243.6 506.0 243.6C512.6 243.6 519.2 243.2 525.8 243.0C532.3 242.9 538.9 242.7 545.5 242.7" fill="none" stroke="#1c1cf0" stroke-width="1.05" />
<path d="M438.8 212.1C446.2 212.1 453.5 212.2 460.9 212.3C468.3 212.4 475.6 212.5 483.0 212.5C486.8 212.5 490.7 214.6 494.5 214.9C498.3 215.1 502.2 214.0 506.0 214.0C512.6 214.0 519.2 214.1 525.8 214.1C532.3 214.0 538.9 213.5 545.5 213.5" fill="none" stroke="#1c1cf0" stroke-width="1.05" />
<path d="M438.8 229.7C446.2 229.7 453.5 227.6 460.9 226.9C468.3 226.2 475.6 225.6 483.0 225.6C486.8 225.6 490.7 223.7 494.5 224.0C498.3 224.3 502.2 227.5 506.0 227.5C512.6 227.5 519.2 231.9 525.8 232.5C532.3 233.0 538.9 231.0 545.5 231.0" fill="none" stroke="#1c1cf0" stroke-width="1.05" />
<path d="M438.8 236.2C446.2 236.2 453.5 234.0 460.9 234.0C468.3 234.0 475.6 236.2 483.0 236.2C486.8 236.2 490.7 232.9 494.5 233.2C498.3 233.5 502.2 238.1 506.0 238.1C512.6 238.1 519.2 236.0 525.8 236.2C532.3 236.3 538.9 238.9 545.5 238.9" fill="none" stroke="#1c1cf0" stroke-width="1.05" />
<path d="M438.8 235.6C446.2 235.6 453.5 234.2 460.9 234.8C468.3 235.5 475.6 239.4 483.0 239.4C486.8 239.4 490.7 237.5 494.5 237.0C498.3 236.5 502.2 236.2 506.0 236.2C512.6 236.2 519.2 233.6 525.8 233.6C532.3 233.6 538.9 236.4 545.5 236.4" fill="none" stroke="#1c1cf0" stroke-width="1.05" />
<path d="M438.8 210.2C446.2 210.2 453.5 206.6 460.9 206.8C468.3 206.9 475.6 210.9 483.0 210.9C486.8 210.9 490.7 211.8 494.5 212.4C498.3 213.1 502.2 214.8 506.0 214.8C512.6 214.8 519.2 212.3 525.8 211.5C532.3 210.6 538.9 209.6 545.5 209.6" fill="none" stroke="#1c1cf0" stroke-width="1.05" />
<path d="M438.8 231.8C446.2 231.8 453.5 237.0 460.9 237.7C468.3 238.4 475.6 236.1 483.0 236.1C486.8 236.1 490.7 233.8 494.5 233.8C498.3 233.8 502.2 236.0 506.0 236.0C512.6 236.0 519.2 231.2 525.8 230.5C532.3 229.8 538.9 231.5 545.5 231.5" fill="none" stroke="#1c1cf0" stroke-width="1.05" />
<path d="M438.8 225.6C446.2 225.6 453.5 223.9 460.9 224.8C468.3 225.7 475.6 231.1 483.0 231.1C486.8 231.1 490.7 231.8 494.5 231.3C498.3 230.7 502.2 227.8 506.0 227.8C512.6 227.8 519.2 225.1 525.8 224.7C532.3 224.2 538.9 225.1 545.5 225.1" fill="none" stroke="#1c1cf0" stroke-width="1.05" />
<path d="M438.8 239.6C446.2 239.6 453.5 239.6 460.9 240.5C468.3 241.5 475.6 245.2 483.0 245.2C486.8 245.2 490.7 245.2 494.5 243.9C498.3 242.7 502.2 237.6 506.0 237.6C512.6 237.6 519.2 238.4 525.8 238.3C532.3 238.2 538.9 237.0 545.5 237.0" fill="none" stroke="#1c1cf0" stroke-width="1.05" />
<path d="M438.8 220.5C446.2 220.5 453.5 218.9 460.9 220.1C468.3 221.2 475.6 227.6 483.0 227.6C486.8 227.6 490.7 225.0 494.5 225.5C498.3 226.1 502.2 231.0 506.0 231.0C512.6 231.0 519.2 226.2 525.8 225.5C532.3 224.7 538.9 226.5 545.5 226.5" fill="none" stroke="#1c1cf0" stroke-width="1.05" />
<path d="M438.8 214.1C446.2 214.1 453.5 211.7 460.9 211.8C468.3 211.8 475.6 214.3 483.0 214.3C486.8 214.3 490.7 220.5 494.5 221.7C498.3 222.9 502.2 221.5 506.0 221.5C512.6 221.5 519.2 222.3 525.8 222.8C532.3 223.3 538.9 224.4 545.5 224.4" fill="none" stroke="#1c1cf0" stroke-width="1.05" />
<path d="M438.8 245.5C446.2 245.5 453.5 246.5 460.9 246.5C468.3 246.6 475.6 245.8 483.0 245.8C486.8 245.8 490.7 245.7 494.5 243.9C498.3 242.1 502.2 234.9 506.0 234.9C512.6 234.9 519.2 232.7 525.8 233.3C532.3 233.8 538.9 238.2 545.5 238.2" fill="none" stroke="#1c1cf0" stroke-width="1.05" />
<path d="M438.8 191.6C453.5 191.6 468.3 192.4 483.0 192.4C490.7 192.4 498.3 192.0 506.0 192.0C519.2 192.0 532.3 191.6 545.5 191.6" fill="none" stroke="#1c1cf0" stroke-width="1.1" />
<path d="M438.8 192.3C453.5 192.3 468.3 193.6 483.0 193.6C490.7 193.6 498.3 193.2 506.0 193.2C519.2 193.2 532.3 192.3 545.5 192.3" fill="none" stroke="#1c1cf0" stroke-width="1.1" />
<path d="M438.8 193.2C453.5 193.2 468.3 194.8 483.0 194.8C490.7 194.8 498.3 194.4 506.0 194.4C519.2 194.4 532.3 193.2 545.5 193.2" fill="none" stroke="#1c1cf0" stroke-width="1.1" />
<path d="M438.8 194.5C453.5 194.5 468.3 196.0 483.0 196.0C490.7 196.0 498.3 195.2 506.0 195.2C519.2 195.2 532.3 194.0 545.5 194.0" fill="none" stroke="#1c1cf0" stroke-width="1.1" />
</g>
<rect x="438.8" y="19.3" width="106.69999999999999" height="224.6" fill="none" stroke="#333" stroke-width="1.0"/>
<line x1="483.0" y1="19.3" x2="483.0" y2="243.9" stroke="#3a3a3a" stroke-width="1.0" />
<line x1="506.0" y1="19.3" x2="506.0" y2="243.9" stroke="#3a3a3a" stroke-width="1.0" />
<path d="M437.40000000000003 131.4 L440.0 128.6 M437.40000000000003 136.0 L440.0 133.2" stroke="#222" stroke-width="1.1"/>
<path d="M544.1 131.4 L546.7 128.6 M544.1 136.0 L546.7 133.2" stroke="#222" stroke-width="1.1"/>
<text x="406.0" y="11.7" font-size="12.5" font-weight="bold" fill="#000" text-anchor="start" >c</text>
<text x="464.6" y="10.5" font-size="8.5" font-weight="normal" fill="#222" text-anchor="start" >V doped WSe<tspan font-size="5.5" dy="2">2</tspan></text>
<text x="437.6" y="57.6" font-size="8.4" font-weight="bold" fill="#111" text-anchor="end" >1.5</text>
<text x="437.6" y="157.3" font-size="8.4" font-weight="bold" fill="#111" text-anchor="end" >0.0</text>
<text x="437.6" y="197.7" font-size="8.4" font-weight="bold" fill="#111" text-anchor="end" >−0.5</text>
<text x="437.6" y="239.0" font-size="8.4" font-weight="bold" fill="#111" text-anchor="end" >−1.0</text>
<text x="0" y="0" font-size="9.9" font-weight="bold" fill="#111" text-anchor="middle" transform="translate(416.1,134.6) rotate(-90)">Energy (eV)</text>
<text x="442.0" y="253.2" font-family="Liberation Serif" font-size="8.2" font-weight="bold" fill="#111" text-anchor="middle">Γ</text>
<text x="484.5" y="251.8" font-family="Liberation Serif" font-size="8.2" font-weight="bold" fill="#111" text-anchor="middle">K</text>
<text x="508.8" y="253.2" font-family="Liberation Serif" font-size="8.2" font-weight="bold" fill="#111" text-anchor="middle">M</text>
<text x="542.4" y="253.2" font-family="Liberation Serif" font-size="8.2" font-weight="bold" fill="#111" text-anchor="middle">Γ</text>
</svg></body></html>
